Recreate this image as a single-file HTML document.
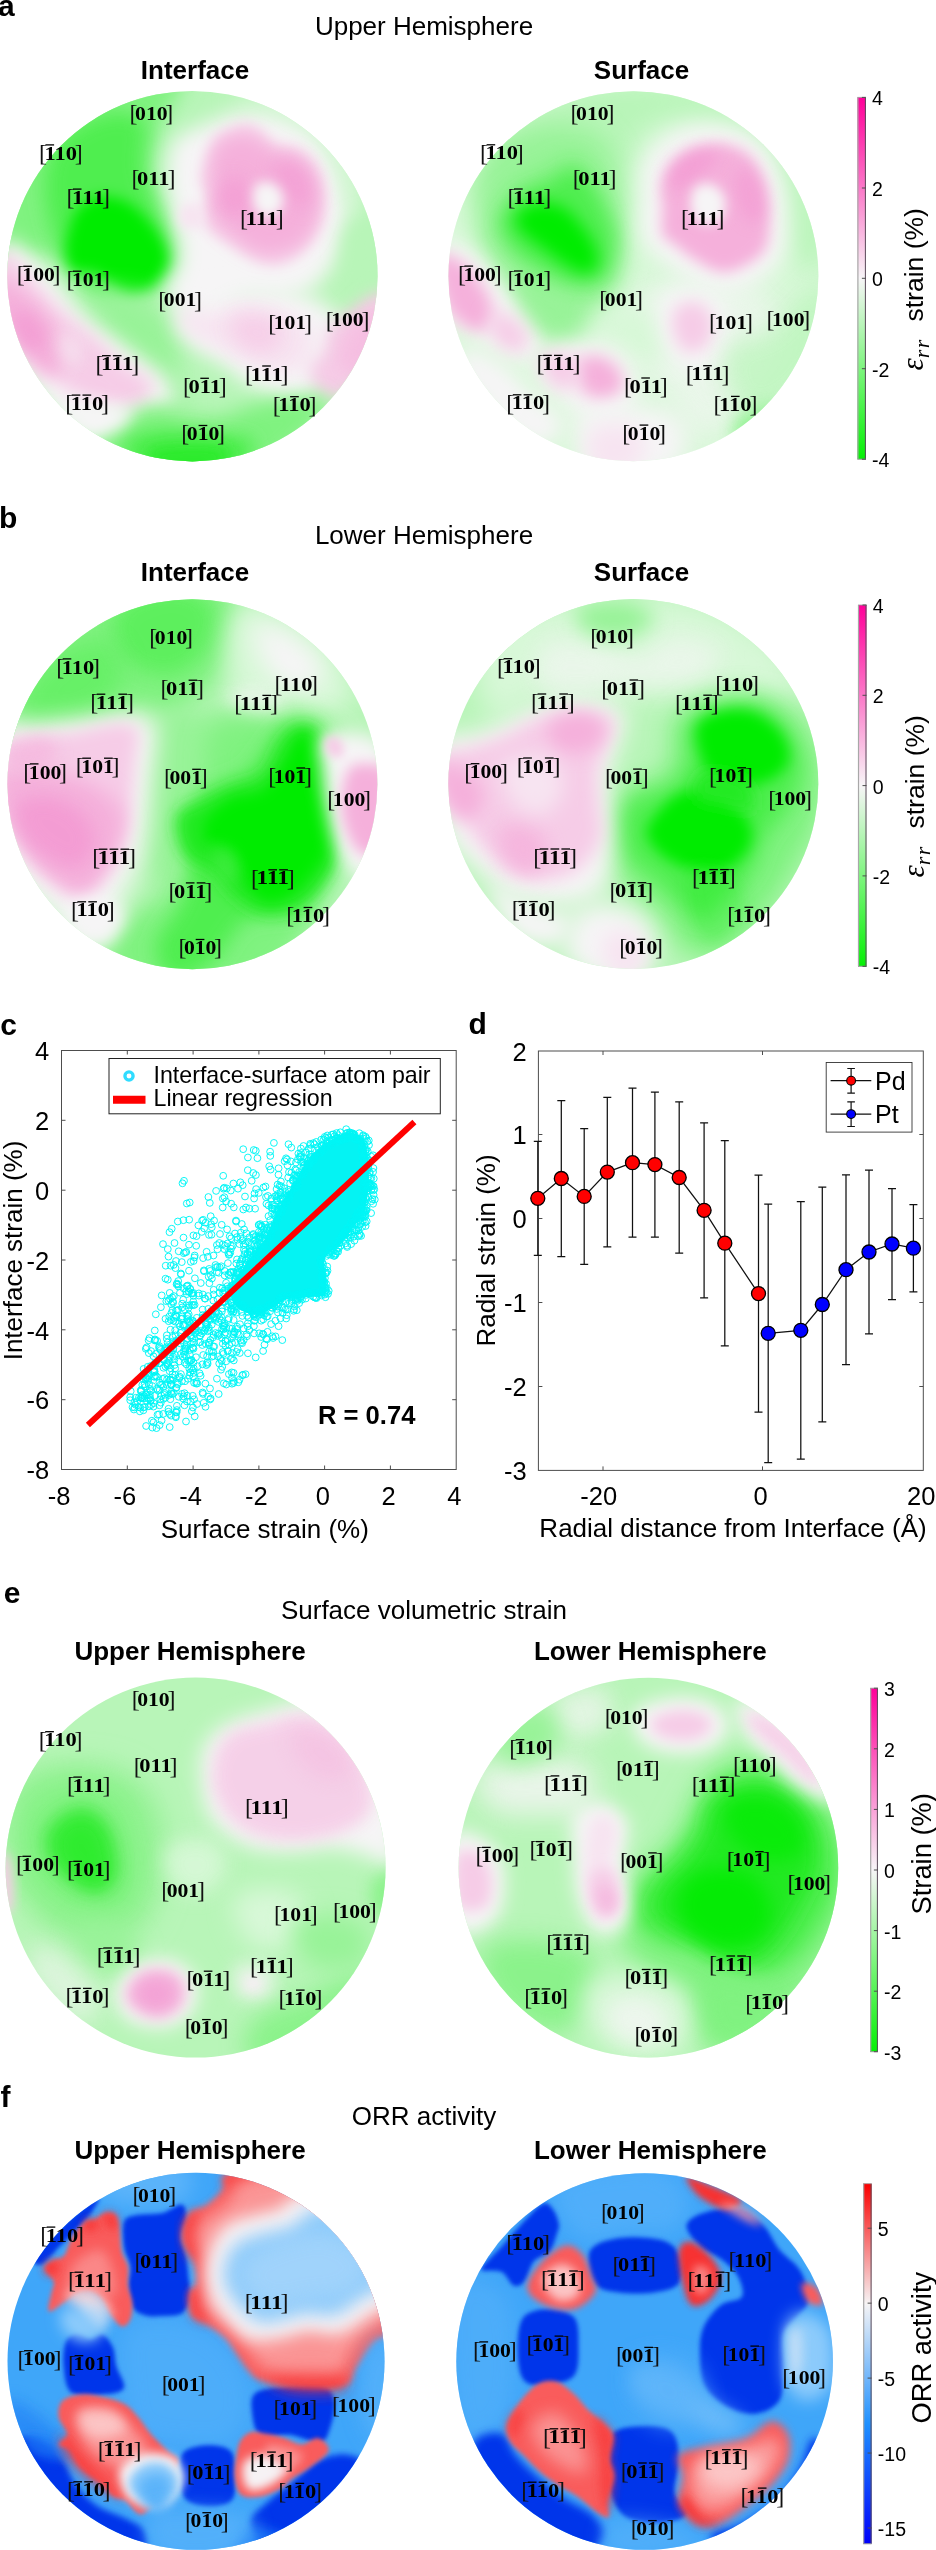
<!DOCTYPE html>
<html lang="en"><head><meta charset="utf-8"><title>Strain maps and ORR activity</title>
<style>
html,body{margin:0;padding:0;background:#fff}
svg{display:block;opacity:.9999}
text{font-family:"Liberation Sans", sans-serif;fill:#000}
.lb{font-family:"Liberation Serif", serif;}
.br{font-size:24.0px;font-weight:400;fill:#111}
.dg{font-size:18.0px;font-weight:700}
.ob{stroke:#000;stroke-width:1.3}
.pl{font-weight:700;font-size:30px}
.tt{font-size:26px}
.tb{font-size:26px;font-weight:700}
.tk{font-size:25.5px}
.ck{font-size:19.5px}
.ax{fill:none;stroke:#4d4d4d;stroke-width:1}
.tm{stroke:#4d4d4d;stroke-width:1}
</style></head><body>
<svg width="936" height="2550" viewBox="0 0 936 2550">
<defs>
<filter id="b1" x="-50%" y="-50%" width="200%" height="200%"><feGaussianBlur stdDeviation="1"/></filter>
<filter id="b2" x="-50%" y="-50%" width="200%" height="200%"><feGaussianBlur stdDeviation="2"/></filter>
<filter id="b3" x="-50%" y="-50%" width="200%" height="200%"><feGaussianBlur stdDeviation="3"/></filter>
<filter id="b4" x="-50%" y="-50%" width="200%" height="200%"><feGaussianBlur stdDeviation="4"/></filter>
<filter id="b5" x="-50%" y="-50%" width="200%" height="200%"><feGaussianBlur stdDeviation="5"/></filter>
<filter id="b6" x="-50%" y="-50%" width="200%" height="200%"><feGaussianBlur stdDeviation="6"/></filter>
<filter id="b7" x="-50%" y="-50%" width="200%" height="200%"><feGaussianBlur stdDeviation="7"/></filter>
<filter id="b8" x="-50%" y="-50%" width="200%" height="200%"><feGaussianBlur stdDeviation="8"/></filter>
<filter id="b9" x="-50%" y="-50%" width="200%" height="200%"><feGaussianBlur stdDeviation="9"/></filter>
<filter id="b10" x="-50%" y="-50%" width="200%" height="200%"><feGaussianBlur stdDeviation="10"/></filter>
<filter id="b11" x="-50%" y="-50%" width="200%" height="200%"><feGaussianBlur stdDeviation="11"/></filter>
<filter id="b12" x="-50%" y="-50%" width="200%" height="200%"><feGaussianBlur stdDeviation="12"/></filter>
<filter id="b13" x="-50%" y="-50%" width="200%" height="200%"><feGaussianBlur stdDeviation="13"/></filter>
<filter id="b14" x="-50%" y="-50%" width="200%" height="200%"><feGaussianBlur stdDeviation="14"/></filter>
<filter id="b15" x="-50%" y="-50%" width="200%" height="200%"><feGaussianBlur stdDeviation="15"/></filter>
<filter id="b16" x="-50%" y="-50%" width="200%" height="200%"><feGaussianBlur stdDeviation="16"/></filter>
<filter id="b17" x="-50%" y="-50%" width="200%" height="200%"><feGaussianBlur stdDeviation="17"/></filter>
<filter id="b18" x="-50%" y="-50%" width="200%" height="200%"><feGaussianBlur stdDeviation="18"/></filter>
<filter id="b19" x="-50%" y="-50%" width="200%" height="200%"><feGaussianBlur stdDeviation="19"/></filter>
<filter id="b20" x="-50%" y="-50%" width="200%" height="200%"><feGaussianBlur stdDeviation="20"/></filter>
<filter id="b21" x="-50%" y="-50%" width="200%" height="200%"><feGaussianBlur stdDeviation="21"/></filter>
<filter id="b22" x="-50%" y="-50%" width="200%" height="200%"><feGaussianBlur stdDeviation="22"/></filter>
<filter id="b23" x="-50%" y="-50%" width="200%" height="200%"><feGaussianBlur stdDeviation="23"/></filter>
<filter id="b24" x="-50%" y="-50%" width="200%" height="200%"><feGaussianBlur stdDeviation="24"/></filter>
<filter id="b25" x="-50%" y="-50%" width="200%" height="200%"><feGaussianBlur stdDeviation="25"/></filter>
<filter id="b26" x="-50%" y="-50%" width="200%" height="200%"><feGaussianBlur stdDeviation="26"/></filter>
<filter id="b27" x="-50%" y="-50%" width="200%" height="200%"><feGaussianBlur stdDeviation="27"/></filter>
<filter id="b28" x="-50%" y="-50%" width="200%" height="200%"><feGaussianBlur stdDeviation="28"/></filter>
<filter id="b29" x="-50%" y="-50%" width="200%" height="200%"><feGaussianBlur stdDeviation="29"/></filter>
<filter id="b30" x="-50%" y="-50%" width="200%" height="200%"><feGaussianBlur stdDeviation="30"/></filter>
<linearGradient id="gpg" x1="0" y1="0" x2="0" y2="1"><stop offset="0" stop-color="#ff0099"/><stop offset="0.25" stop-color="#fb78c8"/><stop offset="0.5" stop-color="#f7f5f7"/><stop offset="0.75" stop-color="#7ef57e"/><stop offset="1" stop-color="#05f005"/></linearGradient>
<linearGradient id="gorr" x1="0" y1="0" x2="0" y2="1"><stop offset="0" stop-color="#fa0000"/><stop offset="0.333" stop-color="#f6f4f5"/><stop offset="0.667" stop-color="#1e90ff"/><stop offset="1" stop-color="#0000fa"/></linearGradient>
<clipPath id="cp_a1"><circle cx="192.4" cy="276.2" r="185.2"/></clipPath>
<clipPath id="cp_a2"><circle cx="633.4" cy="276.2" r="185.0"/></clipPath>
<clipPath id="cp_b1"><circle cx="192.4" cy="784.2" r="185.0"/></clipPath>
<clipPath id="cp_b2"><circle cx="633.3" cy="784.0" r="185.0"/></clipPath>
<clipPath id="cp_e1"><circle cx="195.6" cy="1867.6" r="190.0"/></clipPath>
<clipPath id="cp_e2"><circle cx="648.4" cy="1867.6" r="189.8"/></clipPath>
<clipPath id="cp_f1"><circle cx="196.0" cy="2361.3" r="188.5"/></clipPath>
<clipPath id="cp_f2"><circle cx="644.6" cy="2361.5" r="188.3"/></clipPath>
</defs>
<rect width="936" height="2550" fill="#fff"/>
<g clip-path="url(#cp_a1)">
<rect x="5.2" y="89.0" width="374.4" height="374.4" fill="#b8f5b8"/>
<path d="M184.6,76.8C179.5,70.6 153.2,73.4 135.4,76.8C117.6,80.2 95.7,86.4 77.9,97.3C60.2,108.2 42.4,124.0 28.7,142.4C15.0,160.9 1.4,188.2 -4.1,208.1C-9.6,227.9 -8.9,252.9 -4.1,261.4C0.7,270.0 15.0,260.0 24.6,259.4C34.2,258.7 45.1,253.5 53.3,257.3C61.5,261.1 66.3,274.4 73.8,281.9C81.4,289.4 88.2,299.4 98.5,302.4C108.7,305.5 123.1,304.5 135.4,300.4C147.7,296.3 165.5,286.4 172.3,277.8C179.1,269.3 177.4,260.7 176.4,249.1C175.4,237.5 170.6,220.4 166.2,208.1C161.7,195.8 151.5,186.2 149.7,175.3C148.0,164.3 153.2,152.7 155.9,142.4C158.6,132.2 161.4,124.7 166.2,113.7C170.9,102.8 189.7,82.9 184.6,76.8Z" fill="#80f280" filter="url(#b10)"/>
<path d="M61.5,138.3C71.8,128.1 93.0,116.5 106.7,113.7C120.3,111.0 137.4,113.0 143.6,121.9C149.7,130.8 141.5,152.7 143.6,167.1C145.6,181.4 151.1,194.4 155.9,208.1C160.7,221.8 170.9,237.5 172.3,249.1C173.7,260.7 170.9,271.0 164.1,277.8C157.3,284.7 142.9,289.4 131.3,290.1C119.7,290.8 105.3,287.4 94.4,281.9C83.4,276.5 73.2,267.6 65.6,257.3C58.1,247.1 52.6,234.1 49.2,220.4C45.8,206.7 43.1,188.9 45.1,175.3C47.2,161.6 51.3,148.6 61.5,138.3Z" fill="#50ee50" filter="url(#b10)"/>
<path d="M77.1,210.1C81.9,204.8 90.1,198.0 98.5,196.6C106.8,195.2 118.4,197.4 127.2,201.9C135.9,206.4 144.5,215.8 151.0,223.7C157.5,231.5 163.3,242.1 166.2,249.1C169.0,256.1 169.6,260.4 168.2,265.5C166.8,270.6 162.1,275.8 157.9,279.9C153.8,284.0 148.6,287.6 143.6,290.1C138.6,292.7 133.3,296.4 128.0,295.1C122.7,293.7 117.5,285.8 111.6,281.9C105.6,278.0 98.7,273.6 92.3,271.7C85.9,269.8 77.5,273.9 73.0,270.4C68.6,267.0 66.2,258.1 65.6,251.2C65.1,244.2 67.8,235.4 69.7,228.6C71.7,221.8 72.3,215.5 77.1,210.1Z" fill="#03ec03" filter="url(#b7)"/>
<path d="M94.4,298.3C100.5,292.9 123.8,291.5 135.4,294.2C147.0,297.0 156.6,305.9 164.1,314.7C171.6,323.6 178.5,336.6 180.5,347.6C182.6,358.5 175.4,370.1 176.4,380.4C177.4,390.6 189.7,403.6 186.7,409.1C183.6,414.6 166.2,416.6 157.9,413.2C149.7,409.8 143.9,398.8 137.4,388.6C130.9,378.3 125.5,361.9 119.0,351.7C112.5,341.4 102.6,335.9 98.5,327.1C94.4,318.2 88.2,303.8 94.4,298.3Z" fill="#98f398" filter="url(#b12)"/>
<path d="M176.4,138.3C182.6,132.5 193.5,128.8 205.1,124.0C216.8,119.2 232.5,111.3 246.2,109.6C259.8,107.9 274.9,109.6 287.2,113.7C299.5,117.8 310.8,124.3 320.0,134.2C329.2,144.1 337.8,158.8 342.6,173.2C347.4,187.6 349.7,206.4 348.7,220.4C347.7,234.4 341.9,246.4 336.4,257.3C330.9,268.2 324.1,279.2 315.9,286.0C307.7,292.9 298.8,296.3 287.2,298.3C275.6,300.4 258.5,295.6 246.2,298.3C233.8,301.1 224.3,312.0 213.3,314.7C202.4,317.5 188.4,318.8 180.5,314.7C172.6,310.6 166.2,299.0 166.2,290.1C166.2,281.2 178.8,271.7 180.5,261.4C182.2,251.2 178.5,240.2 176.4,228.6C174.4,217.0 169.6,203.3 168.2,191.7C166.8,180.0 166.8,167.7 168.2,158.8C169.6,150.0 170.3,144.1 176.4,138.3Z" fill="#f6f5f6" filter="url(#b10)"/>
<path d="M229.7,101.4C232.5,99.4 270.8,96.6 287.2,101.4C303.6,106.2 317.3,119.2 328.2,130.1C339.1,141.1 347.4,152.0 352.8,167.1C358.3,182.1 361.7,213.5 361.0,220.4C360.3,227.2 352.8,217.0 348.7,208.1C344.6,199.2 342.6,179.4 336.4,167.1C330.3,154.7 322.7,143.1 311.8,134.2C300.9,125.3 284.4,119.2 270.8,113.7C257.1,108.2 227.0,103.5 229.7,101.4Z" fill="#d8f8d8" filter="url(#b10)"/>
<path d="M215.0,137.9C219.4,132.4 226.6,130.9 231.8,128.5C237.0,126.1 241.4,123.2 246.2,123.6C250.9,123.9 255.7,127.0 260.5,130.5C265.3,134.1 269.3,142.1 274.9,144.9C280.5,147.7 287.8,144.6 294.2,147.4C300.5,150.2 308.2,155.3 313.0,161.7C317.8,168.1 321.2,177.1 322.9,185.9C324.5,194.7 324.5,205.9 322.9,214.6C321.2,223.4 317.8,231.3 313.0,238.4C308.2,245.6 300.9,253.3 294.2,257.7C287.4,262.1 279.6,264.7 272.4,264.7C265.2,264.7 257.8,260.9 251.1,257.7C244.3,254.5 238.2,249.4 231.8,245.4C225.4,241.4 217.7,238.6 212.5,233.5C207.3,228.4 201.4,220.6 200.6,214.6C199.9,208.7 208.0,203.4 208.0,197.8C208.0,192.2 201.0,187.0 200.6,181.0C200.2,175.0 203.1,168.9 205.5,161.7C207.9,154.5 210.6,143.5 215.0,137.9Z" fill="#f6cce7" filter="url(#b7)"/>
<path d="M217.4,146.5C221.9,141.4 231.1,137.3 237.9,136.3C244.8,135.3 252.3,137.6 258.5,140.4C264.6,143.1 268.7,150.0 274.9,152.7C281.0,155.4 289.2,153.4 295.4,156.8C301.5,160.2 308.0,166.7 311.8,173.2C315.6,179.7 317.3,187.9 317.9,195.8C318.6,203.6 318.3,212.9 315.9,220.4C313.5,227.9 309.1,235.8 303.6,240.9C298.1,246.0 289.9,249.1 283.1,251.2C276.2,253.2 269.4,254.6 262.6,253.2C255.7,251.8 248.5,247.4 242.1,242.9C235.6,238.5 228.4,232.4 223.6,226.5C218.8,220.7 214.7,214.6 213.3,208.1C212.0,201.6 215.7,194.4 215.4,187.6C215.0,180.7 210.9,173.9 211.3,167.1C211.6,160.2 213.0,151.7 217.4,146.5Z" fill="#f5b0db" filter="url(#b9)"/>
<path d="M219.5,183.5C222.9,179.0 232.8,175.9 237.9,177.3C243.1,178.7 248.9,185.9 250.3,191.7C251.6,197.5 249.6,208.1 246.2,212.2C242.7,216.3 234.5,217.6 229.7,216.3C225.0,214.9 219.1,209.4 217.4,204.0C215.7,198.5 216.1,187.9 219.5,183.5Z" fill="#f394d0" opacity="0.55" filter="url(#b9)"/>
<path d="M279.0,158.8C283.8,157.5 297.8,161.6 303.6,167.1C309.4,172.5 313.5,184.8 313.8,191.7C314.2,198.5 310.1,207.4 305.6,208.1C301.2,208.8 292.3,201.2 287.2,195.8C282.1,190.3 276.2,181.4 274.9,175.3C273.5,169.1 274.2,160.2 279.0,158.8Z" fill="#f394d0" opacity="0.5" filter="url(#b9)"/>
<path d="M255.2,185.5C257.9,181.4 266.3,181.3 270.8,182.6C275.3,184.0 280.6,189.1 282.3,193.7C283.9,198.3 283.2,206.2 280.6,210.1C278.0,214.0 271.0,217.6 266.7,217.1C262.3,216.6 256.3,212.5 254.4,207.3C252.4,202.0 252.4,189.6 255.2,185.5Z" fill="#f6f5f6" filter="url(#b6)"/>
<path d="M180.5,208.1C183.2,204.7 192.8,201.9 196.9,204.0C201.0,206.0 205.8,216.3 205.1,220.4C204.4,224.5 196.9,227.9 192.8,228.6C188.7,229.3 182.6,227.9 180.5,224.5C178.5,221.1 177.8,211.5 180.5,208.1Z" fill="#f7e4f1" filter="url(#b6)"/>
<path d="M0.0,240.9C4.1,234.1 15.7,242.9 24.6,249.1C33.5,255.3 43.8,266.9 53.3,277.8C62.9,288.8 71.8,304.5 82.1,314.7C92.3,325.0 104.6,331.8 114.9,339.4C125.1,346.9 134.7,353.0 143.6,359.9C152.5,366.7 163.4,372.9 168.2,380.4C173.0,387.9 177.8,399.5 172.3,405.0C166.8,410.5 147.0,411.8 135.4,413.2C123.8,414.6 112.8,410.5 102.6,413.2C92.3,415.9 83.4,431.7 73.8,429.6C64.3,427.6 53.3,411.2 45.1,400.9C36.9,390.6 30.8,379.7 24.6,368.1C18.5,356.5 12.3,344.1 8.2,331.2C4.1,318.2 1.4,305.2 0.0,290.1C-1.4,275.1 -4.1,247.7 0.0,240.9Z" fill="#f6f5f6" filter="url(#b10)"/>
<path d="M-4.1,253.2C-0.7,247.1 9.6,255.9 16.4,261.4C23.2,266.9 28.7,277.1 36.9,286.0C45.1,294.9 56.1,306.2 65.6,314.7C75.2,323.3 84.8,329.1 94.4,337.3C103.9,345.5 113.5,356.5 123.1,364.0C132.6,371.5 148.7,375.9 151.8,382.4C154.9,388.9 148.4,398.5 141.5,402.9C134.7,407.4 120.7,410.1 110.8,409.1C100.9,408.1 91.6,401.6 82.1,396.8C72.5,392.0 62.2,387.2 53.3,380.4C44.4,373.5 36.2,365.3 28.7,355.8C21.2,346.2 13.7,332.5 8.2,322.9C2.7,313.4 -2.1,310.0 -4.1,298.3C-6.2,286.7 -7.5,259.4 -4.1,253.2Z" fill="#f6cce7" filter="url(#b9)"/>
<path d="M-4.1,277.8C0.0,273.7 12.3,284.0 20.5,290.1C28.7,296.3 38.3,306.5 45.1,314.7C52.0,322.9 58.5,331.2 61.5,339.4C64.6,347.6 66.0,358.2 63.6,364.0C61.2,369.8 53.7,375.9 47.2,374.2C40.7,372.5 31.1,361.2 24.6,353.7C18.1,346.2 13.0,335.6 8.2,329.1C3.4,322.6 -2.1,323.3 -4.1,314.7C-6.2,306.2 -8.2,281.9 -4.1,277.8Z" fill="#f5b0db" filter="url(#b9)"/>
<path d="M12.3,314.7C15.0,310.6 27.4,310.6 32.8,314.7C38.3,318.8 45.1,333.2 45.1,339.4C45.1,345.5 37.6,351.7 32.8,351.7C28.0,351.7 19.8,345.5 16.4,339.4C13.0,333.2 9.6,318.8 12.3,314.7Z" fill="#f394d0" opacity="0.6" filter="url(#b8)"/>
<path d="M61.5,331.2C65.6,330.5 80.0,341.4 82.1,347.6C84.1,353.7 77.9,367.4 73.8,368.1C69.7,368.8 59.5,357.8 57.4,351.7C55.4,345.5 57.4,331.8 61.5,331.2Z" fill="#f6f5f6" opacity="0.5" filter="url(#b8)"/>
<path d="M229.7,290.1C244.8,288.8 270.8,287.4 287.2,290.1C303.6,292.9 317.9,298.3 328.2,306.5C338.5,314.7 348.7,327.1 348.7,339.4C348.7,351.7 337.1,370.1 328.2,380.4C319.3,390.6 307.7,399.5 295.4,400.9C283.1,402.3 266.7,394.7 254.4,388.6C242.1,382.4 231.8,370.8 221.5,364.0C211.3,357.1 200.3,354.4 192.8,347.6C185.3,340.7 175.7,331.2 176.4,322.9C177.1,314.7 188.0,303.8 196.9,298.3C205.8,292.9 214.7,291.5 229.7,290.1Z" fill="#f6f5f6" filter="url(#b10)"/>
<path d="M180.5,308.6C185.6,306.5 202.4,315.1 213.3,314.7C224.3,314.4 234.5,306.9 246.2,306.5C257.8,306.2 272.1,308.6 283.1,312.7C294.0,316.8 307.7,322.6 311.8,331.2C315.9,339.7 313.8,357.1 307.7,364.0C301.5,370.8 285.8,373.2 274.9,372.2C263.9,371.2 253.7,362.9 242.1,357.8C230.4,352.7 215.0,346.5 205.1,341.4C195.2,336.3 186.7,332.5 182.6,327.1C178.5,321.6 175.4,310.6 180.5,308.6Z" fill="#f7e4f1" filter="url(#b10)"/>
<path d="M229.7,318.8C233.2,313.4 253.7,312.7 262.6,314.7C271.5,316.8 281.7,325.0 283.1,331.2C284.4,337.3 277.6,348.9 270.8,351.7C263.9,354.4 248.9,353.0 242.1,347.6C235.2,342.1 226.3,324.3 229.7,318.8Z" fill="#f6cce7" opacity="0.9" filter="url(#b10)"/>
<path d="M328.2,331.2C333.0,324.0 342.8,315.8 352.8,308.6C362.8,301.4 382.2,281.6 388.1,288.1C394.0,294.6 392.3,332.9 388.1,347.6C383.9,362.3 371.4,367.7 363.1,376.3C354.8,384.8 346.0,396.5 338.5,398.8C330.9,401.2 322.7,395.8 317.9,390.6C313.2,385.5 308.7,374.6 309.7,368.1C310.8,361.6 321.0,357.8 324.1,351.7C327.2,345.5 323.4,338.3 328.2,331.2Z" fill="#f6cce7" filter="url(#b8)"/>
<path d="M348.7,331.2C356.6,320.9 381.5,303.1 388.1,306.5C394.7,310.0 392.6,340.7 388.1,351.7C383.6,362.6 369.0,369.4 361.0,372.2C353.1,374.9 342.6,374.9 340.5,368.1C338.5,361.2 340.8,341.4 348.7,331.2Z" fill="#f5b0db" opacity="0.5" filter="url(#b9)"/>
<path d="M344.6,228.6C350.5,219.0 380.9,211.5 388.1,220.4C395.4,229.3 394.0,272.4 388.1,281.9C382.2,291.5 360.1,286.7 352.8,277.8C345.6,268.9 338.7,238.2 344.6,228.6Z" fill="#b8f5b8" filter="url(#b10)"/>
<path d="M92.3,439.9C90.3,430.9 112.5,424.8 123.1,419.4C133.7,413.9 145.6,407.5 155.9,407.1C166.2,406.6 173.7,414.9 184.6,416.5C195.6,418.1 209.9,418.5 221.5,416.5C233.2,414.4 243.4,407.1 254.4,404.2C265.3,401.2 275.2,399.4 287.2,398.8C299.1,398.3 323.1,395.1 326.2,400.9C329.2,406.7 319.0,421.7 305.6,433.7C292.3,445.8 274.5,466.5 246.2,473.1C217.8,479.7 161.0,478.6 135.4,473.1C109.7,467.6 94.4,448.8 92.3,439.9Z" fill="#80f280" filter="url(#b10)"/>
<path d="M123.1,441.9C125.8,434.7 149.1,431.0 164.1,429.6C179.1,428.2 198.3,431.7 213.3,433.7C228.4,435.8 251.6,435.4 254.4,441.9C257.1,448.5 247.5,467.9 229.7,473.1C212.0,478.3 165.5,478.3 147.7,473.1C129.9,467.9 120.3,449.2 123.1,441.9Z" fill="#50ee50" filter="url(#b9)"/>
<path d="M147.7,450.1C151.8,445.3 175.0,444.5 188.7,444.4C202.4,444.2 225.6,444.5 229.7,449.3C233.8,454.1 224.3,469.1 213.3,473.1C202.4,477.1 175.0,476.9 164.1,473.1C153.2,469.3 143.6,454.9 147.7,450.1Z" fill="#20ea20" opacity="0.8" filter="url(#b8)"/>
<path d="M67.7,411.2C69.4,405.0 87.9,401.9 98.5,401.7C109.1,401.5 127.9,405.3 131.3,409.9C134.7,414.6 126.2,424.8 119.0,429.6C111.8,434.4 96.8,441.7 88.2,438.6C79.7,435.6 66.0,417.3 67.7,411.2Z" fill="#f6f5f6" filter="url(#b8)"/>
</g>
<text class="lb"><tspan class="br" x="129.6" y="121.3">[</tspan><tspan class="dg" x="135.1" y="120.1" textLength="32.5" lengthAdjust="spacingAndGlyphs">010</tspan><tspan class="br" x="165.3" y="121.3">]</tspan></text>
<text class="lb"><tspan class="br" x="38.9" y="160.7">[</tspan><tspan class="dg" x="44.4" y="159.5" textLength="32.5" lengthAdjust="spacingAndGlyphs">110</tspan><tspan class="br" x="74.7" y="160.7">]</tspan></text><line x1="45.4" y1="144.9" x2="54.1" y2="144.9" class="ob"/>
<text class="lb"><tspan class="br" x="131.6" y="186.1">[</tspan><tspan class="dg" x="137.1" y="184.9" textLength="32.5" lengthAdjust="spacingAndGlyphs">011</tspan><tspan class="br" x="167.4" y="186.1">]</tspan></text>
<text class="lb"><tspan class="br" x="66.4" y="204.9">[</tspan><tspan class="dg" x="71.9" y="203.7" textLength="32.5" lengthAdjust="spacingAndGlyphs">111</tspan><tspan class="br" x="102.1" y="204.9">]</tspan></text><line x1="72.9" y1="189.1" x2="81.5" y2="189.1" class="ob"/>
<text class="lb"><tspan class="br" x="239.9" y="226.3">[</tspan><tspan class="dg" x="245.4" y="225.1" textLength="32.5" lengthAdjust="spacingAndGlyphs">111</tspan><tspan class="br" x="275.7" y="226.3">]</tspan></text>
<text class="lb"><tspan class="br" x="16.8" y="282.1">[</tspan><tspan class="dg" x="22.3" y="280.9" textLength="32.5" lengthAdjust="spacingAndGlyphs">100</tspan><tspan class="br" x="52.5" y="282.1">]</tspan></text><line x1="23.3" y1="266.3" x2="31.9" y2="266.3" class="ob"/>
<text class="lb"><tspan class="br" x="66.4" y="287.0">[</tspan><tspan class="dg" x="71.9" y="285.8" textLength="32.5" lengthAdjust="spacingAndGlyphs">101</tspan><tspan class="br" x="102.1" y="287.0">]</tspan></text><line x1="72.9" y1="271.2" x2="81.5" y2="271.2" class="ob"/>
<text class="lb"><tspan class="br" x="158.3" y="307.5">[</tspan><tspan class="dg" x="163.8" y="306.3" textLength="32.5" lengthAdjust="spacingAndGlyphs">001</tspan><tspan class="br" x="194.0" y="307.5">]</tspan></text>
<text class="lb"><tspan class="br" x="268.2" y="330.5">[</tspan><tspan class="dg" x="273.7" y="329.3" textLength="32.5" lengthAdjust="spacingAndGlyphs">101</tspan><tspan class="br" x="304.0" y="330.5">]</tspan></text>
<text class="lb"><tspan class="br" x="325.7" y="327.6">[</tspan><tspan class="dg" x="331.2" y="326.4" textLength="32.5" lengthAdjust="spacingAndGlyphs">100</tspan><tspan class="br" x="361.4" y="327.6">]</tspan></text>
<text class="lb"><tspan class="br" x="95.5" y="371.5">[</tspan><tspan class="dg" x="101.0" y="370.3" textLength="32.5" lengthAdjust="spacingAndGlyphs">111</tspan><tspan class="br" x="131.3" y="371.5">]</tspan></text><line x1="102.0" y1="355.7" x2="110.7" y2="355.7" class="ob"/><line x1="112.9" y1="355.7" x2="121.5" y2="355.7" class="ob"/>
<text class="lb"><tspan class="br" x="182.9" y="394.1">[</tspan><tspan class="dg" x="188.4" y="392.9" textLength="32.5" lengthAdjust="spacingAndGlyphs">011</tspan><tspan class="br" x="218.7" y="394.1">]</tspan></text><line x1="200.3" y1="378.3" x2="208.9" y2="378.3" class="ob"/>
<text class="lb"><tspan class="br" x="244.9" y="381.8">[</tspan><tspan class="dg" x="250.4" y="380.6" textLength="32.5" lengthAdjust="spacingAndGlyphs">111</tspan><tspan class="br" x="280.6" y="381.8">]</tspan></text><line x1="262.2" y1="366.0" x2="270.9" y2="366.0" class="ob"/>
<text class="lb"><tspan class="br" x="65.2" y="410.9">[</tspan><tspan class="dg" x="70.7" y="409.7" textLength="32.5" lengthAdjust="spacingAndGlyphs">110</tspan><tspan class="br" x="100.9" y="410.9">]</tspan></text><line x1="71.7" y1="395.1" x2="80.3" y2="395.1" class="ob"/><line x1="82.5" y1="395.1" x2="91.2" y2="395.1" class="ob"/>
<text class="lb"><tspan class="br" x="272.8" y="412.5">[</tspan><tspan class="dg" x="278.3" y="411.3" textLength="32.5" lengthAdjust="spacingAndGlyphs">110</tspan><tspan class="br" x="308.5" y="412.5">]</tspan></text><line x1="290.1" y1="396.7" x2="298.8" y2="396.7" class="ob"/>
<text class="lb"><tspan class="br" x="181.3" y="441.3">[</tspan><tspan class="dg" x="186.8" y="440.1" textLength="32.5" lengthAdjust="spacingAndGlyphs">010</tspan><tspan class="br" x="217.0" y="441.3">]</tspan></text><line x1="198.6" y1="425.5" x2="207.3" y2="425.5" class="ob"/>
<g clip-path="url(#cp_a2)">
<rect x="446.4" y="89.2" width="374.0" height="374.0" fill="#d8f8d8"/>
<path d="M465.6,191.7C464.2,179.4 482.0,150.6 498.4,134.2C514.8,117.8 540.8,102.1 564.1,93.2C587.3,84.3 611.9,81.6 637.9,80.9C663.9,80.2 696.7,81.6 720.0,89.1C743.2,96.6 761.0,108.9 777.4,126.0C793.8,143.1 809.8,169.8 818.4,191.7C827.1,213.5 832.5,245.0 829.1,257.3C825.7,269.6 804.5,275.1 797.9,265.5C791.4,255.9 796.6,220.4 789.7,199.9C782.9,179.4 770.6,156.1 756.9,142.4C743.2,128.8 726.1,119.9 707.7,117.8C689.2,115.8 660.5,120.6 646.1,130.1C631.8,139.7 635.2,172.5 621.5,175.3C607.8,178.0 583.2,141.1 564.1,146.5C544.9,152.0 523.1,200.6 506.6,208.1C490.2,215.6 467.0,204.0 465.6,191.7Z" fill="#b8f5b8" filter="url(#b14)"/>
<path d="M617.4,314.7C622.9,301.1 652.3,288.1 670.7,281.9C689.2,275.8 711.8,275.1 728.2,277.8C744.6,280.6 759.6,288.1 769.2,298.3C778.8,308.6 788.4,322.9 785.6,339.4C782.9,355.8 766.5,380.4 752.8,396.8C739.1,413.2 717.2,437.8 703.6,437.8C689.9,437.8 681.7,409.1 670.7,396.8C659.8,384.5 646.8,377.6 637.9,364.0C629.0,350.3 611.9,328.4 617.4,314.7Z" fill="#f6f5f6" opacity="0.6" filter="url(#b14)"/>
<path d="M490.2,150.6C501.2,139.7 525.8,128.8 543.6,126.0C561.3,123.3 583.9,126.0 596.9,134.2C609.9,142.4 616.7,160.9 621.5,175.3C626.3,189.6 625.6,204.7 625.6,220.4C625.6,236.1 624.9,255.3 621.5,269.6C618.1,284.0 612.6,296.3 605.1,306.5C597.6,316.8 586.6,324.3 576.4,331.2C566.1,338.0 553.8,350.3 543.6,347.6C533.3,344.8 523.1,325.7 514.8,314.7C506.6,303.8 500.5,294.2 494.3,281.9C488.2,269.6 480.7,255.9 477.9,240.9C475.2,225.9 475.9,206.7 477.9,191.7C480.0,176.6 479.3,161.6 490.2,150.6Z" fill="#98f398" filter="url(#b12)"/>
<path d="M498.4,208.1C501.2,198.2 510.7,190.3 518.9,183.5C527.2,176.6 538.4,171.5 547.7,167.1C556.9,162.6 566.5,155.1 574.3,156.8C582.2,158.5 589.0,168.8 594.8,177.3C600.7,185.9 605.3,198.0 609.2,208.1C613.1,218.1 617.5,226.7 618.2,237.6C618.9,248.6 617.2,265.0 613.3,273.7C609.4,282.5 602.4,287.4 594.8,290.1C587.3,292.9 576.7,292.2 568.2,290.1C559.6,288.1 551.4,282.6 543.6,277.8C535.7,273.0 527.8,267.2 521.0,261.4C514.2,255.6 506.3,251.8 502.5,242.9C498.8,234.1 495.7,218.0 498.4,208.1Z" fill="#80f280" filter="url(#b10)"/>
<path d="M506.6,210.1C510.4,205.1 515.9,197.1 523.1,192.5C530.2,187.9 541.0,186.5 549.3,182.6C557.6,178.7 566.0,169.0 572.7,169.1C579.4,169.2 584.5,177.0 589.5,183.5C594.6,190.0 599.2,199.1 603.1,208.1C606.9,217.1 611.8,227.4 612.5,237.6C613.2,247.9 610.8,262.1 607.2,269.6C603.5,277.1 597.3,280.8 590.7,282.7C584.2,284.7 575.5,283.3 567.8,281.1C560.0,278.9 552.0,273.7 544.4,269.6C536.8,265.5 528.5,261.6 522.2,256.5C515.9,251.4 510.3,244.5 506.6,238.8C503.0,233.2 500.5,227.2 500.5,222.4C500.5,217.6 502.9,215.1 506.6,210.1Z" fill="#50ee50" filter="url(#b9)"/>
<path d="M518.5,211.8C522.5,208.2 532.4,203.1 539.9,202.3C547.3,201.6 556.2,203.3 563.3,207.3C570.3,211.2 576.7,219.1 582.1,226.1C587.6,233.2 593.8,242.5 596.1,249.5C598.4,256.6 598.4,264.5 596.1,268.4C593.8,272.3 587.6,273.7 582.1,272.9C576.7,272.1 569.5,267.4 563.3,263.5C557.0,259.6 550.7,254.2 544.4,249.5C538.1,244.9 530.2,239.9 525.5,235.6C520.8,231.3 517.2,227.6 516.1,223.7C514.9,219.7 514.6,215.3 518.5,211.8Z" fill="#03ec03" filter="url(#b8)"/>
<path d="M523.1,298.3C529.2,294.2 550.4,301.1 560.0,306.5C569.5,312.0 577.8,322.9 580.5,331.2C583.2,339.4 581.9,352.4 576.4,355.8C570.9,359.2 556.6,355.8 547.7,351.7C538.8,347.6 527.2,340.0 523.1,331.2C518.9,322.3 516.9,302.4 523.1,298.3Z" fill="#98f398" filter="url(#b12)"/>
<path d="M596.9,314.7C602.4,307.9 625.6,305.2 637.9,306.5C650.2,307.9 665.3,315.4 670.7,322.9C676.2,330.5 676.2,344.8 670.7,351.7C665.3,358.5 648.9,364.7 637.9,364.0C627.0,363.3 611.9,355.8 605.1,347.6C598.3,339.4 591.4,321.6 596.9,314.7Z" fill="#d8f8d8" filter="url(#b12)"/>
<path d="M646.1,158.8C652.3,147.2 666.0,135.6 678.9,130.1C691.9,124.7 710.4,124.0 724.1,126.0C737.8,128.1 751.4,133.5 761.0,142.4C770.6,151.3 777.4,165.7 781.5,179.4C785.6,193.0 785.6,211.5 785.6,224.5C785.6,237.5 786.3,247.7 781.5,257.3C776.7,266.9 766.5,276.5 756.9,281.9C747.3,287.4 735.7,290.8 724.1,290.1C712.5,289.4 698.1,283.3 687.2,277.8C676.2,272.4 666.0,264.1 658.4,257.3C650.9,250.5 644.8,246.4 642.0,236.8C639.3,227.2 641.3,212.9 642.0,199.9C642.7,186.9 640.0,170.5 646.1,158.8Z" fill="#f6f5f6" filter="url(#b10)"/>
<path d="M669.1,170.3C673.9,164.0 681.1,154.3 689.6,149.8C698.1,145.3 710.1,142.4 720.0,143.3C729.8,144.1 741.2,148.0 748.7,154.7C756.2,161.4 761.7,172.5 765.1,183.5C768.5,194.4 769.2,209.4 769.2,220.4C769.2,231.3 769.2,241.6 765.1,249.1C761.0,256.6 752.1,261.8 744.6,265.5C737.1,269.3 728.9,273.0 720.0,271.7C711.1,270.3 699.1,262.1 691.3,257.3C683.5,252.5 678.0,246.7 673.2,242.9C668.4,239.2 664.3,240.6 662.5,234.7C660.8,228.9 662.8,215.9 662.5,208.1C662.3,200.2 659.8,193.9 660.9,187.6C662.0,181.3 664.3,176.6 669.1,170.3Z" fill="#f5b0db" filter="url(#b7)"/>
<path d="M670.7,162.9C675.5,157.5 687.2,152.0 695.4,150.6C703.6,149.3 718.6,151.3 720.0,154.7C721.3,158.2 709.7,165.7 703.6,171.2C697.4,176.6 689.2,185.5 683.1,187.6C676.9,189.6 668.7,187.6 666.6,183.5C664.6,179.4 666.0,168.4 670.7,162.9Z" fill="#f394d0" opacity="0.6" filter="url(#b8)"/>
<path d="M740.5,167.1C744.6,165.0 756.9,175.3 761.0,183.5C765.1,191.7 767.2,210.1 765.1,216.3C763.1,222.4 753.5,223.8 748.7,220.4C743.9,217.0 737.8,204.7 736.4,195.8C735.0,186.9 736.4,169.1 740.5,167.1Z" fill="#f394d0" opacity="0.5" filter="url(#b8)"/>
<path d="M693.3,189.6C696.2,184.5 704.6,182.4 709.7,183.5C714.8,184.5 721.8,190.3 724.1,195.8C726.3,201.2 726.0,211.5 723.3,216.3C720.5,221.1 712.9,224.8 707.7,224.5C702.5,224.1 694.5,220.0 692.1,214.2C689.7,208.4 690.4,194.7 693.3,189.6Z" fill="#f6f5f6" filter="url(#b6)"/>
<path d="M441.0,245.0C445.8,234.1 460.1,243.6 469.7,249.1C479.3,254.6 489.5,266.9 498.4,277.8C507.3,288.8 514.8,303.1 523.1,314.7C531.3,326.4 547.7,339.4 547.7,347.6C547.7,355.8 532.6,364.0 523.1,364.0C513.5,364.0 499.8,353.0 490.2,347.6C480.7,342.1 473.8,336.6 465.6,331.2C457.4,325.7 445.1,329.1 441.0,314.7C436.9,300.4 436.2,255.9 441.0,245.0Z" fill="#f6f5f6" filter="url(#b10)"/>
<path d="M436.9,255.3C440.0,248.8 455.7,258.0 463.6,263.5C471.4,268.9 479.1,279.5 484.1,288.1C489.1,296.6 493.9,307.6 493.5,314.7C493.2,321.9 487.4,329.6 482.0,331.2C476.7,332.7 467.7,328.6 461.5,323.8C455.4,319.0 449.2,313.9 445.1,302.4C441.0,291.0 433.8,261.8 436.9,255.3Z" fill="#f5b0db" filter="url(#b8)"/>
<path d="M490.2,314.7C493.0,311.0 504.2,312.7 510.7,316.8C517.2,320.9 528.5,333.5 529.2,339.4C529.9,345.2 520.7,351.7 514.8,351.7C509.0,351.7 498.4,345.5 494.3,339.4C490.2,333.2 487.5,318.5 490.2,314.7Z" fill="#f6cce7" filter="url(#b9)"/>
<path d="M543.6,347.6C551.1,342.1 567.5,338.7 580.5,339.4C593.5,340.0 611.9,344.1 621.5,351.7C631.1,359.2 637.2,374.2 637.9,384.5C638.6,394.7 633.8,407.7 625.6,413.2C617.4,418.7 600.3,420.0 588.7,417.3C577.1,414.6 564.8,404.3 555.9,396.8C547.0,389.3 537.4,380.4 535.4,372.2C533.3,364.0 536.0,353.0 543.6,347.6Z" fill="#f6f5f6" filter="url(#b10)"/>
<path d="M576.4,364.0C578.4,357.7 590.1,355.1 596.9,355.8C603.7,356.5 613.2,362.6 617.4,368.1C621.6,373.5 624.4,383.1 622.3,388.6C620.3,394.1 611.4,400.1 605.1,400.9C598.8,401.7 589.4,399.7 584.6,393.5C579.8,387.4 574.3,370.3 576.4,364.0Z" fill="#f5b0db" filter="url(#b8)"/>
<path d="M543.6,355.8C548.4,353.0 566.1,351.7 572.3,355.8C578.4,359.9 582.5,374.9 580.5,380.4C578.4,385.9 566.1,390.0 560.0,388.6C553.8,387.2 546.3,377.6 543.6,372.2C540.8,366.7 538.8,358.5 543.6,355.8Z" fill="#f6cce7" filter="url(#b9)"/>
<path d="M662.5,294.2C670.1,288.1 692.6,286.7 703.6,290.1C714.5,293.5 724.8,303.8 728.2,314.7C731.6,325.7 729.5,346.2 724.1,355.8C718.6,365.3 704.2,372.2 695.4,372.2C686.5,372.2 676.9,363.3 670.7,355.8C664.6,348.2 659.8,337.3 658.4,327.1C657.1,316.8 655.0,300.4 662.5,294.2Z" fill="#f6f5f6" filter="url(#b10)"/>
<path d="M675.7,308.6C679.6,303.5 691.4,300.7 697.4,302.4C703.4,304.1 710.1,312.0 711.8,318.8C713.5,325.7 711.8,338.0 707.7,343.5C703.6,348.9 692.8,353.4 687.2,351.7C681.5,350.0 675.9,340.4 674.0,333.2C672.1,326.0 671.8,313.7 675.7,308.6Z" fill="#f6cce7" filter="url(#b8)"/>
<path d="M576.4,413.2C581.2,401.9 603.1,405.7 617.4,405.0C631.8,404.3 650.9,405.0 662.5,409.1C674.2,413.2 685.8,418.9 687.2,429.6C688.5,440.3 687.2,465.9 670.7,473.1C654.3,480.4 604.4,483.1 588.7,473.1C573.0,463.1 571.6,424.6 576.4,413.2Z" fill="#f6f5f6" filter="url(#b12)"/>
<path d="M588.7,433.7C593.5,425.8 616.0,423.5 625.6,425.5C635.2,427.6 646.1,438.1 646.1,446.0C646.1,454.0 633.8,468.6 625.6,473.1C617.4,477.6 603.1,479.7 596.9,473.1C590.7,466.5 583.9,441.6 588.7,433.7Z" fill="#f7e4f1" filter="url(#b10)"/>
<path d="M465.6,347.6C473.1,346.2 490.9,355.8 502.5,364.0C514.2,372.2 525.1,387.2 535.4,396.8C545.6,406.4 562.7,413.2 564.1,421.4C565.4,429.6 553.1,444.7 543.6,446.0C534.0,447.4 517.6,437.8 506.6,429.6C495.7,421.4 486.1,406.4 477.9,396.8C469.7,387.2 459.5,380.4 457.4,372.2C455.4,364.0 458.1,348.9 465.6,347.6Z" fill="#f6f5f6" filter="url(#b10)"/>
<path d="M736.4,421.4C741.2,414.6 756.9,402.3 765.1,400.9C773.3,399.5 787.0,405.7 785.6,413.2C784.2,420.7 765.1,441.2 756.9,446.0C748.7,450.8 739.8,446.0 736.4,441.9C733.0,437.8 731.6,428.2 736.4,421.4Z" fill="#80f280" opacity="0.8" filter="url(#b8)"/>
<path d="M728.2,347.6C735.0,338.0 756.9,339.4 769.2,331.2C781.5,322.9 792.0,306.5 802.0,298.3C812.0,290.1 824.6,273.7 829.1,281.9C833.6,290.1 835.0,328.4 829.1,347.6C823.2,366.7 806.5,385.9 793.8,396.8C781.1,407.7 763.7,414.6 752.8,413.2C741.9,411.8 732.3,399.5 728.2,388.6C724.1,377.6 721.3,357.1 728.2,347.6Z" fill="#b8f5b8" opacity="0.7" filter="url(#b12)"/>
</g>
<text class="lb"><tspan class="br" x="570.6" y="121.2">[</tspan><tspan class="dg" x="576.1" y="120.0" textLength="32.5" lengthAdjust="spacingAndGlyphs">010</tspan><tspan class="br" x="606.4" y="121.2">]</tspan></text>
<text class="lb"><tspan class="br" x="480.1" y="160.6">[</tspan><tspan class="dg" x="485.6" y="159.4" textLength="32.5" lengthAdjust="spacingAndGlyphs">110</tspan><tspan class="br" x="515.8" y="160.6">]</tspan></text><line x1="486.6" y1="144.8" x2="495.2" y2="144.8" class="ob"/>
<text class="lb"><tspan class="br" x="572.7" y="186.0">[</tspan><tspan class="dg" x="578.2" y="184.8" textLength="32.5" lengthAdjust="spacingAndGlyphs">011</tspan><tspan class="br" x="608.4" y="186.0">]</tspan></text>
<text class="lb"><tspan class="br" x="507.5" y="204.8">[</tspan><tspan class="dg" x="513.0" y="203.6" textLength="32.5" lengthAdjust="spacingAndGlyphs">111</tspan><tspan class="br" x="543.3" y="204.8">]</tspan></text><line x1="514.0" y1="189.0" x2="522.7" y2="189.0" class="ob"/>
<text class="lb"><tspan class="br" x="680.9" y="226.1">[</tspan><tspan class="dg" x="686.4" y="224.9" textLength="32.5" lengthAdjust="spacingAndGlyphs">111</tspan><tspan class="br" x="716.6" y="226.1">]</tspan></text>
<text class="lb"><tspan class="br" x="457.9" y="281.9">[</tspan><tspan class="dg" x="463.4" y="280.7" textLength="32.5" lengthAdjust="spacingAndGlyphs">100</tspan><tspan class="br" x="493.7" y="281.9">]</tspan></text><line x1="464.4" y1="266.1" x2="473.1" y2="266.1" class="ob"/>
<text class="lb"><tspan class="br" x="507.5" y="286.8">[</tspan><tspan class="dg" x="513.0" y="285.6" textLength="32.5" lengthAdjust="spacingAndGlyphs">101</tspan><tspan class="br" x="543.3" y="286.8">]</tspan></text><line x1="514.0" y1="271.0" x2="522.7" y2="271.0" class="ob"/>
<text class="lb"><tspan class="br" x="599.3" y="307.3">[</tspan><tspan class="dg" x="604.8" y="306.1" textLength="32.5" lengthAdjust="spacingAndGlyphs">001</tspan><tspan class="br" x="635.0" y="307.3">]</tspan></text>
<text class="lb"><tspan class="br" x="709.1" y="330.2">[</tspan><tspan class="dg" x="714.6" y="329.0" textLength="32.5" lengthAdjust="spacingAndGlyphs">101</tspan><tspan class="br" x="744.9" y="330.2">]</tspan></text>
<text class="lb"><tspan class="br" x="766.5" y="327.4">[</tspan><tspan class="dg" x="772.0" y="326.2" textLength="32.5" lengthAdjust="spacingAndGlyphs">100</tspan><tspan class="br" x="802.3" y="327.4">]</tspan></text>
<text class="lb"><tspan class="br" x="536.6" y="371.2">[</tspan><tspan class="dg" x="542.1" y="370.0" textLength="32.5" lengthAdjust="spacingAndGlyphs">111</tspan><tspan class="br" x="572.4" y="371.2">]</tspan></text><line x1="543.1" y1="355.4" x2="551.8" y2="355.4" class="ob"/><line x1="554.0" y1="355.4" x2="562.6" y2="355.4" class="ob"/>
<text class="lb"><tspan class="br" x="623.9" y="393.8">[</tspan><tspan class="dg" x="629.4" y="392.6" textLength="32.5" lengthAdjust="spacingAndGlyphs">011</tspan><tspan class="br" x="659.7" y="393.8">]</tspan></text><line x1="641.3" y1="378.0" x2="649.9" y2="378.0" class="ob"/>
<text class="lb"><tspan class="br" x="685.8" y="381.5">[</tspan><tspan class="dg" x="691.3" y="380.3" textLength="32.5" lengthAdjust="spacingAndGlyphs">111</tspan><tspan class="br" x="721.5" y="381.5">]</tspan></text><line x1="703.1" y1="365.7" x2="711.8" y2="365.7" class="ob"/>
<text class="lb"><tspan class="br" x="506.3" y="410.6">[</tspan><tspan class="dg" x="511.8" y="409.4" textLength="32.5" lengthAdjust="spacingAndGlyphs">110</tspan><tspan class="br" x="542.0" y="410.6">]</tspan></text><line x1="512.8" y1="394.8" x2="521.4" y2="394.8" class="ob"/><line x1="523.6" y1="394.8" x2="532.3" y2="394.8" class="ob"/>
<text class="lb"><tspan class="br" x="713.6" y="412.2">[</tspan><tspan class="dg" x="719.1" y="411.0" textLength="32.5" lengthAdjust="spacingAndGlyphs">110</tspan><tspan class="br" x="749.4" y="412.2">]</tspan></text><line x1="731.0" y1="396.4" x2="739.6" y2="396.4" class="ob"/>
<text class="lb"><tspan class="br" x="622.3" y="440.9">[</tspan><tspan class="dg" x="627.8" y="439.7" textLength="32.5" lengthAdjust="spacingAndGlyphs">010</tspan><tspan class="br" x="658.0" y="440.9">]</tspan></text><line x1="639.6" y1="425.1" x2="648.3" y2="425.1" class="ob"/>
<g clip-path="url(#cp_b1)">
<rect x="5.4" y="597.2" width="374.0" height="374.0" fill="#b8f5b8"/>
<path d="M82.1,608.4C98.5,597.5 110.8,591.3 135.4,587.9C160.0,584.5 214.0,579.0 229.7,587.9C245.5,596.8 232.5,625.5 229.7,641.2C227.0,657.0 222.9,669.9 213.3,682.3C203.8,694.6 185.3,708.2 172.3,715.1C159.3,721.9 150.4,721.2 135.4,723.3C120.3,725.3 100.5,724.6 82.1,727.4C63.6,730.1 39.0,736.3 24.6,739.7C10.3,743.1 -1.4,754.7 -4.1,747.9C-6.8,741.1 1.4,714.4 8.2,698.7C15.0,682.9 24.6,668.6 36.9,653.5C49.2,638.5 65.6,619.4 82.1,608.4Z" fill="#80f280" filter="url(#b12)"/>
<path d="M123.1,604.3C133.3,596.1 161.4,587.2 176.4,587.9C191.5,588.6 208.5,598.2 213.3,608.4C218.1,618.7 212.0,638.5 205.1,649.4C198.3,660.4 183.9,671.3 172.3,674.1C160.7,676.8 145.0,672.0 135.4,665.8C125.8,659.7 116.9,647.4 114.9,637.1C112.8,626.9 112.8,612.5 123.1,604.3Z" fill="#50ee50" opacity="0.7" filter="url(#b10)"/>
<path d="M24.6,690.5C32.1,678.2 47.9,661.7 61.5,653.5C75.2,645.3 96.4,637.8 106.7,641.2C116.9,644.6 124.4,662.4 123.1,674.1C121.7,685.7 110.8,702.8 98.5,711.0C86.2,719.2 62.9,720.5 49.2,723.3C35.6,726.0 20.5,732.9 16.4,727.4C12.3,721.9 17.1,702.8 24.6,690.5Z" fill="#50ee50" opacity="0.5" filter="url(#b12)"/>
<path d="M237.9,608.4C247.5,600.2 272.1,609.8 287.2,616.6C302.2,623.5 317.3,637.1 328.2,649.4C339.1,661.7 352.8,679.5 352.8,690.5C352.8,701.4 339.1,713.7 328.2,715.1C317.3,716.4 300.9,700.0 287.2,698.7C273.5,697.3 255.7,712.3 246.2,706.9C236.6,701.4 231.1,682.3 229.7,665.8C228.4,649.4 228.4,616.6 237.9,608.4Z" fill="#d8f8d8" filter="url(#b12)"/>
<path d="M254.4,624.8C258.5,618.7 283.8,629.6 295.4,637.1C307.0,644.6 322.7,661.1 324.1,669.9C325.5,678.8 312.5,689.8 303.6,690.5C294.7,691.1 279.0,685.0 270.8,674.1C262.6,663.1 250.3,631.0 254.4,624.8Z" fill="#f6f5f6" filter="url(#b12)"/>
<path d="M229.7,694.6C233.8,689.8 253.0,688.4 262.6,690.5C272.1,692.5 286.5,701.4 287.2,706.9C287.9,712.3 274.9,721.2 266.7,723.3C258.5,725.3 244.1,724.0 237.9,719.2C231.8,714.4 225.6,699.4 229.7,694.6Z" fill="#f6f5f6" opacity="0.8" filter="url(#b8)"/>
<path d="M155.9,715.1C167.5,706.2 196.9,709.6 213.3,711.0C229.7,712.3 248.9,714.4 254.4,723.3C259.8,732.2 253.0,752.0 246.2,764.3C239.3,776.6 221.5,784.8 213.3,797.1C205.1,809.4 202.4,824.5 196.9,838.2C191.5,851.8 187.4,871.0 180.5,879.2C173.7,887.4 162.1,894.2 155.9,887.4C149.7,880.5 145.6,858.7 143.6,838.2C141.5,817.6 141.5,784.8 143.6,764.3C145.6,743.8 144.3,724.0 155.9,715.1Z" fill="#98f398" filter="url(#b12)"/>
<path d="M213.3,727.4C227.0,715.1 266.7,714.4 287.2,715.1C307.7,715.8 326.8,720.5 336.4,731.5C346.0,742.4 343.9,762.9 344.6,780.7C345.3,798.5 343.2,821.7 340.5,838.2C337.8,854.6 333.0,865.5 328.2,879.2C323.4,892.9 322.7,903.4 311.8,920.2C300.9,937.0 294.0,970.1 262.6,980.1C231.1,990.1 149.1,986.0 123.1,980.1C97.1,974.2 104.6,956.2 106.7,944.8C108.7,933.5 124.4,921.6 135.4,912.0C146.3,902.4 162.7,898.3 172.3,887.4C181.9,876.4 187.4,862.8 192.8,846.4C198.3,829.9 201.7,808.8 205.1,788.9C208.5,769.1 199.7,739.7 213.3,727.4Z" fill="#80f280" filter="url(#b12)"/>
<path d="M196.9,797.1C205.8,783.5 231.8,784.1 246.2,772.5C260.5,760.9 270.8,734.2 283.1,727.4C295.4,720.5 312.5,722.6 320.0,731.5C327.5,740.4 325.5,762.9 328.2,780.7C330.9,798.5 337.8,821.7 336.4,838.2C335.0,854.6 326.8,866.9 320.0,879.2C313.2,891.5 307.7,905.2 295.4,912.0C283.1,918.8 259.8,912.0 246.2,920.2C232.5,928.4 225.6,951.2 213.3,961.2C201.0,971.2 181.9,982.8 172.3,980.1C162.7,977.4 154.5,957.5 155.9,944.8C157.3,932.1 174.4,918.8 180.5,903.8C186.7,888.8 190.1,872.3 192.8,854.6C195.6,836.8 188.0,810.8 196.9,797.1Z" fill="#50ee50" filter="url(#b10)"/>
<path d="M176.4,815.6C179.8,806.2 196.2,804.0 205.1,799.2C214.0,794.4 220.2,791.0 229.7,786.9C239.3,782.8 253.7,782.8 262.6,774.6C271.5,766.4 276.2,745.8 283.1,737.6C289.9,729.4 296.8,724.6 303.6,725.3C310.4,726.0 320.0,732.5 324.1,741.7C328.2,751.0 326.2,768.8 328.2,780.7C330.3,792.7 335.0,801.2 336.4,813.5C337.8,825.8 339.1,842.3 336.4,854.6C333.7,866.9 326.8,878.5 320.0,887.4C313.2,896.3 305.0,903.7 295.4,907.9C285.8,912.1 272.8,914.7 262.6,912.8C252.3,910.9 242.1,903.2 233.8,896.4C225.6,889.6 221.5,878.6 213.3,871.8C205.1,865.0 190.8,864.8 184.6,855.4C178.5,846.0 173.0,825.0 176.4,815.6Z" fill="#20ea20" filter="url(#b8)"/>
<path d="M205.1,821.7C208.9,814.4 220.2,804.3 229.7,799.2C239.3,794.1 253.7,796.8 262.6,791.0C271.5,785.2 276.6,773.9 283.1,764.3C289.6,754.7 295.7,735.9 301.5,733.5C307.4,731.1 315.6,741.4 317.9,749.9C320.3,758.5 314.2,774.2 315.9,784.8C317.6,795.4 326.2,803.3 328.2,813.5C330.3,823.8 330.6,836.8 328.2,846.4C325.8,855.9 320.3,862.8 313.8,871.0C307.4,879.2 297.4,890.7 289.2,895.6C281.0,900.5 272.1,902.9 264.6,900.5C257.1,898.1 249.6,888.9 244.1,881.2C238.6,873.6 237.9,860.9 231.8,854.6C225.6,848.2 211.6,848.5 207.2,843.1C202.7,837.6 201.4,829.1 205.1,821.7Z" fill="#03ec03" filter="url(#b7)"/>
<path d="M213.3,846.4C215.4,842.3 229.7,849.1 233.8,854.6C237.9,860.0 240.0,875.1 237.9,879.2C235.9,883.3 225.6,884.6 221.5,879.2C217.4,873.7 211.3,850.5 213.3,846.4Z" fill="#50ee50" opacity="0.6" filter="url(#b8)"/>
<path d="M-4.1,727.4C2.1,708.2 18.5,724.6 32.8,723.3C47.2,721.9 65.0,721.2 82.1,719.2C99.1,717.1 123.1,709.6 135.4,711.0C147.7,712.3 153.2,716.4 155.9,727.4C158.6,738.3 153.2,760.9 151.8,776.6C150.4,792.3 149.7,807.4 147.7,821.7C145.6,836.1 143.6,850.5 139.5,862.8C135.4,875.1 128.5,884.0 123.1,895.6C117.6,907.2 114.2,925.0 106.7,932.5C99.1,940.0 87.5,944.1 77.9,940.7C68.4,937.3 59.5,922.3 49.2,912.0C39.0,901.7 25.3,891.5 16.4,879.2C7.5,866.9 -0.7,863.5 -4.1,838.2C-7.5,812.9 -10.3,746.5 -4.1,727.4Z" fill="#f6f5f6" filter="url(#b12)"/>
<path d="M-4.1,747.9C2.1,737.8 19.8,739.0 32.8,736.4C45.8,733.8 60.2,734.4 73.8,732.3C87.5,730.3 104.3,724.6 114.9,724.1C125.5,723.6 134.2,722.7 137.4,729.4C140.7,736.1 135.7,751.7 134.6,764.3C133.4,777.0 132.5,793.0 130.5,805.3C128.4,817.6 126.4,827.2 122.3,838.2C118.2,849.1 112.5,861.5 105.8,871.0C99.1,880.4 90.8,893.3 82.1,894.8C73.3,896.3 62.2,886.6 53.3,880.0C44.4,873.4 36.2,865.0 28.7,855.4C21.2,845.8 13.7,832.3 8.2,822.6C2.7,812.9 -2.1,809.6 -4.1,797.1C-6.2,784.7 -10.3,758.0 -4.1,747.9Z" fill="#f6cce7" filter="url(#b8)"/>
<path d="M-4.1,776.6C1.4,767.9 25.3,769.4 41.0,770.5C56.8,771.5 76.6,775.9 90.3,782.8C103.9,789.6 118.2,800.9 123.1,811.5C128.0,822.1 123.1,835.8 119.8,846.4C116.5,857.0 109.7,867.0 103.4,875.1C97.1,883.1 90.4,893.9 82.1,894.8C73.7,895.6 62.2,886.6 53.3,880.0C44.4,873.4 36.2,865.0 28.7,855.4C21.2,845.8 13.7,835.7 8.2,822.6C2.7,809.4 -9.6,785.3 -4.1,776.6Z" fill="#f5b0db" filter="url(#b10)"/>
<path d="M16.4,805.3C20.5,798.5 38.3,795.8 49.2,797.1C60.2,798.5 74.5,806.0 82.1,813.5C89.6,821.1 95.0,833.4 94.4,842.3C93.7,851.1 85.5,864.1 77.9,866.9C70.4,869.6 58.1,863.5 49.2,858.7C40.3,853.9 30.1,847.0 24.6,838.2C19.1,829.3 12.3,812.2 16.4,805.3Z" fill="#f394d0" opacity="0.7" filter="url(#b9)"/>
<path d="M12.3,743.8C18.5,739.4 37.6,735.6 45.1,737.6C52.6,739.7 59.5,751.0 57.4,756.1C55.4,761.2 41.0,767.0 32.8,768.4C24.6,769.8 11.6,768.4 8.2,764.3C4.8,760.2 6.2,748.2 12.3,743.8Z" fill="#f5b0db" opacity="0.6" filter="url(#b8)"/>
<path d="M320.0,739.7C324.1,732.9 337.4,728.8 348.7,731.5C360.1,734.2 381.5,732.9 388.1,756.1C394.7,779.4 392.6,850.5 388.1,871.0C383.6,891.5 369.0,881.9 361.0,879.2C353.1,876.4 346.0,865.5 340.5,854.6C335.0,843.6 330.9,827.2 328.2,813.5C325.5,799.9 325.5,784.8 324.1,772.5C322.7,760.2 315.9,746.5 320.0,739.7Z" fill="#f6f5f6" filter="url(#b9)"/>
<path d="M348.7,769.2C353.4,762.4 362.7,763.4 369.2,764.3C375.8,765.2 385.0,761.6 388.1,774.6C391.2,787.6 391.8,828.8 388.1,842.3C384.4,855.7 372.4,856.1 365.9,855.4C359.5,854.7 353.6,846.5 349.5,838.2C345.4,829.8 341.5,816.8 341.3,805.3C341.2,793.8 344.1,776.1 348.7,769.2Z" fill="#f5b0db" filter="url(#b7)"/>
<path d="M326.2,737.6C328.2,735.2 337.8,736.6 340.5,739.7C343.2,742.8 344.6,753.7 342.6,756.1C340.5,758.5 330.9,757.1 328.2,754.1C325.5,751.0 324.1,740.0 326.2,737.6Z" fill="#f6cce7" filter="url(#b5)"/>
<path d="M69.7,907.9C72.5,901.1 89.6,899.0 98.5,899.7C107.4,900.4 121.0,905.2 123.1,912.0C125.1,918.8 117.6,935.9 110.8,940.7C103.9,945.5 88.9,946.2 82.1,940.7C75.2,935.2 67.0,914.7 69.7,907.9Z" fill="#f6f5f6" filter="url(#b8)"/>
</g>
<text class="lb"><tspan class="br" x="149.3" y="644.8">[</tspan><tspan class="dg" x="154.8" y="643.6" textLength="32.5" lengthAdjust="spacingAndGlyphs">010</tspan><tspan class="br" x="185.0" y="644.8">]</tspan></text>
<text class="lb"><tspan class="br" x="56.2" y="674.7">[</tspan><tspan class="dg" x="61.7" y="673.5" textLength="32.5" lengthAdjust="spacingAndGlyphs">110</tspan><tspan class="br" x="91.9" y="674.7">]</tspan></text><line x1="62.7" y1="658.9" x2="71.3" y2="658.9" class="ob"/>
<text class="lb"><tspan class="br" x="160.4" y="696.0">[</tspan><tspan class="dg" x="165.9" y="694.8" textLength="32.5" lengthAdjust="spacingAndGlyphs">011</tspan><tspan class="br" x="196.1" y="696.0">]</tspan></text><line x1="188.6" y1="680.2" x2="197.2" y2="680.2" class="ob"/>
<text class="lb"><tspan class="br" x="90.2" y="710.0">[</tspan><tspan class="dg" x="95.7" y="708.8" textLength="32.5" lengthAdjust="spacingAndGlyphs">111</tspan><tspan class="br" x="125.9" y="710.0">]</tspan></text><line x1="96.7" y1="694.2" x2="105.3" y2="694.2" class="ob"/><line x1="118.4" y1="694.2" x2="127.0" y2="694.2" class="ob"/>
<text class="lb"><tspan class="br" x="234.2" y="711.2">[</tspan><tspan class="dg" x="239.7" y="710.0" textLength="32.5" lengthAdjust="spacingAndGlyphs">111</tspan><tspan class="br" x="269.9" y="711.2">]</tspan></text><line x1="262.4" y1="695.4" x2="271.0" y2="695.4" class="ob"/>
<text class="lb"><tspan class="br" x="274.4" y="691.9">[</tspan><tspan class="dg" x="279.9" y="690.7" textLength="32.5" lengthAdjust="spacingAndGlyphs">110</tspan><tspan class="br" x="310.1" y="691.9">]</tspan></text>
<text class="lb"><tspan class="br" x="23.3" y="779.7">[</tspan><tspan class="dg" x="28.8" y="778.5" textLength="32.5" lengthAdjust="spacingAndGlyphs">100</tspan><tspan class="br" x="59.1" y="779.7">]</tspan></text><line x1="29.8" y1="763.9" x2="38.5" y2="763.9" class="ob"/>
<text class="lb"><tspan class="br" x="75.8" y="774.0">[</tspan><tspan class="dg" x="81.3" y="772.8" textLength="32.5" lengthAdjust="spacingAndGlyphs">101</tspan><tspan class="br" x="111.6" y="774.0">]</tspan></text><line x1="82.3" y1="758.2" x2="91.0" y2="758.2" class="ob"/><line x1="104.0" y1="758.2" x2="112.7" y2="758.2" class="ob"/>
<text class="lb"><tspan class="br" x="164.0" y="785.1">[</tspan><tspan class="dg" x="169.5" y="783.9" textLength="32.5" lengthAdjust="spacingAndGlyphs">001</tspan><tspan class="br" x="199.8" y="785.1">]</tspan></text><line x1="192.2" y1="769.3" x2="200.9" y2="769.3" class="ob"/>
<text class="lb"><tspan class="br" x="268.2" y="783.8">[</tspan><tspan class="dg" x="273.7" y="782.6" textLength="32.5" lengthAdjust="spacingAndGlyphs">101</tspan><tspan class="br" x="304.0" y="783.8">]</tspan></text><line x1="296.4" y1="768.0" x2="305.1" y2="768.0" class="ob"/>
<text class="lb"><tspan class="br" x="327.3" y="806.8">[</tspan><tspan class="dg" x="332.8" y="805.6" textLength="32.5" lengthAdjust="spacingAndGlyphs">100</tspan><tspan class="br" x="363.0" y="806.8">]</tspan></text>
<text class="lb"><tspan class="br" x="92.3" y="865.0">[</tspan><tspan class="dg" x="97.8" y="863.8" textLength="32.5" lengthAdjust="spacingAndGlyphs">111</tspan><tspan class="br" x="128.0" y="865.0">]</tspan></text><line x1="98.8" y1="849.2" x2="107.4" y2="849.2" class="ob"/><line x1="109.6" y1="849.2" x2="118.3" y2="849.2" class="ob"/><line x1="120.5" y1="849.2" x2="129.1" y2="849.2" class="ob"/>
<text class="lb"><tspan class="br" x="168.5" y="898.7">[</tspan><tspan class="dg" x="174.0" y="897.5" textLength="32.5" lengthAdjust="spacingAndGlyphs">011</tspan><tspan class="br" x="204.3" y="898.7">]</tspan></text><line x1="185.9" y1="882.9" x2="194.5" y2="882.9" class="ob"/><line x1="196.7" y1="882.9" x2="205.4" y2="882.9" class="ob"/>
<text class="lb"><tspan class="br" x="251.0" y="885.6">[</tspan><tspan class="dg" x="256.5" y="884.4" textLength="32.5" lengthAdjust="spacingAndGlyphs">111</tspan><tspan class="br" x="286.8" y="885.6">]</tspan></text><line x1="268.4" y1="869.8" x2="277.0" y2="869.8" class="ob"/><line x1="279.2" y1="869.8" x2="287.9" y2="869.8" class="ob"/>
<text class="lb"><tspan class="br" x="70.9" y="917.6">[</tspan><tspan class="dg" x="76.4" y="916.4" textLength="32.5" lengthAdjust="spacingAndGlyphs">110</tspan><tspan class="br" x="106.7" y="917.6">]</tspan></text><line x1="77.4" y1="901.8" x2="86.1" y2="901.8" class="ob"/><line x1="88.3" y1="901.8" x2="96.9" y2="901.8" class="ob"/>
<text class="lb"><tspan class="br" x="286.3" y="923.3">[</tspan><tspan class="dg" x="291.8" y="922.1" textLength="32.5" lengthAdjust="spacingAndGlyphs">110</tspan><tspan class="br" x="322.0" y="923.3">]</tspan></text><line x1="303.6" y1="907.5" x2="312.3" y2="907.5" class="ob"/>
<text class="lb"><tspan class="br" x="178.4" y="955.3">[</tspan><tspan class="dg" x="183.9" y="954.1" textLength="32.5" lengthAdjust="spacingAndGlyphs">010</tspan><tspan class="br" x="214.1" y="955.3">]</tspan></text><line x1="195.7" y1="939.5" x2="204.4" y2="939.5" class="ob"/>
<g clip-path="url(#cp_b2)">
<rect x="446.3" y="597.0" width="374.0" height="374.0" fill="#b8f5b8"/>
<path d="M482.0,633.0C494.3,613.9 529.9,605.7 564.1,600.2C598.3,594.7 653.0,593.4 687.2,600.2C721.3,607.0 750.1,624.8 769.2,641.2C788.4,657.6 808.9,690.5 802.0,698.7C795.2,706.9 752.8,690.5 728.2,690.5C703.6,690.5 674.8,698.7 654.3,698.7C633.8,698.7 623.6,691.1 605.1,690.5C586.6,689.8 562.7,690.5 543.6,694.6C524.4,698.7 500.5,725.3 490.2,715.1C480.0,704.8 469.7,652.2 482.0,633.0Z" fill="#d8f8d8" filter="url(#b14)"/>
<path d="M543.6,645.3C551.8,637.8 573.0,639.2 588.7,641.2C604.4,643.3 624.2,658.3 637.9,657.6C651.6,657.0 657.1,638.5 670.7,637.1C684.4,635.8 715.9,641.9 720.0,649.4C724.1,657.0 709.0,676.1 695.4,682.3C681.7,688.4 657.1,683.6 637.9,686.4C618.8,689.1 596.9,698.7 580.5,698.7C564.1,698.7 545.6,695.2 539.5,686.4C533.3,677.5 535.4,652.9 543.6,645.3Z" fill="#f6f5f6" opacity="0.6" filter="url(#b12)"/>
<path d="M576.4,608.4C581.9,602.9 608.5,598.8 621.5,600.2C634.5,601.6 653.0,610.5 654.3,616.6C655.7,622.8 640.7,634.4 629.7,637.1C618.8,639.9 597.6,637.8 588.7,633.0C579.8,628.2 570.9,613.9 576.4,608.4Z" fill="#98f398" filter="url(#b10)"/>
<path d="M670.7,727.4C674.8,718.5 681.7,708.2 695.4,702.8C709.0,697.3 735.7,692.5 752.8,694.6C769.9,696.6 786.3,703.5 797.9,715.1C809.5,726.7 819.1,746.5 822.5,764.3C826.0,782.1 823.2,804.0 818.4,821.7C813.6,839.5 802.7,855.2 793.8,871.0C784.9,886.7 776.0,902.4 765.1,916.1C754.2,929.8 741.2,946.9 728.2,953.0C715.2,959.2 698.1,958.5 687.2,953.0C676.2,947.6 671.4,930.5 662.5,920.2C653.6,909.9 643.4,901.7 633.8,891.5C624.2,881.2 610.2,871.7 605.1,858.7C600.0,845.7 600.3,825.2 603.1,813.5C605.8,801.9 613.0,795.1 621.5,788.9C630.1,782.8 646.1,782.1 654.3,776.6C662.5,771.1 668.0,764.3 670.7,756.1C673.5,747.9 666.6,736.3 670.7,727.4Z" fill="#80f280" filter="url(#b12)"/>
<path d="M687.2,727.4C692.6,718.5 707.7,710.3 720.0,706.9C732.3,703.5 749.4,702.8 761.0,706.9C772.6,711.0 782.9,721.2 789.7,731.5C796.6,741.7 802.0,756.1 802.0,768.4C802.0,780.7 795.9,793.7 789.7,805.3C783.6,817.0 771.3,827.2 765.1,838.2C758.9,849.1 758.9,861.4 752.8,871.0C746.6,880.5 736.4,887.4 728.2,895.6C720.0,903.8 711.8,918.8 703.6,920.2C695.4,921.6 687.2,910.6 678.9,903.8C670.7,897.0 663.2,887.4 654.3,879.2C645.4,871.0 631.8,864.1 625.6,854.6C619.5,845.0 615.4,831.3 617.4,821.7C619.5,812.2 629.0,803.3 637.9,797.1C646.8,791.0 662.5,791.0 670.7,784.8C678.9,778.7 684.4,769.8 687.2,760.2C689.9,750.6 681.7,736.3 687.2,727.4Z" fill="#50ee50" filter="url(#b10)"/>
<path d="M696.2,728.2C698.1,718.1 710.5,714.5 720.0,711.8C729.4,709.1 742.7,708.4 752.8,711.8C762.9,715.2 774.7,724.2 780.7,732.3C786.7,740.4 790.8,752.3 788.9,760.2C787.0,768.1 777.8,775.8 769.2,779.9C760.6,784.0 747.3,786.1 737.2,784.8C727.1,783.6 715.3,781.9 708.5,772.5C701.6,763.1 694.3,738.3 696.2,728.2Z" fill="#03ec03" filter="url(#b7)"/>
<path d="M655.2,815.6C660.5,808.8 669.5,798.2 678.9,793.8C688.4,789.5 702.2,787.7 711.8,789.7C721.3,791.8 729.7,799.5 736.4,806.2C743.1,812.9 750.6,821.9 752.0,829.9C753.3,838.0 749.9,847.7 744.6,854.6C739.3,861.4 729.5,868.8 720.0,871.0C710.4,873.2 696.7,870.3 687.2,867.7C677.6,865.1 669.2,860.9 662.5,855.4C655.8,849.9 648.2,841.5 646.9,834.9C645.7,828.2 649.8,822.4 655.2,815.6Z" fill="#03ec03" filter="url(#b7)"/>
<path d="M703.6,772.5C711.8,769.8 736.4,774.6 744.6,780.7C752.8,786.9 756.9,805.3 752.8,809.4C748.7,813.5 729.5,807.4 720.0,805.3C710.4,803.3 698.1,802.6 695.4,797.1C692.6,791.7 695.4,775.2 703.6,772.5Z" fill="#20ea20" filter="url(#b8)"/>
<path d="M687.2,871.0C692.6,861.4 718.6,865.5 728.2,871.0C737.8,876.4 746.0,892.2 744.6,903.8C743.2,915.4 728.2,936.6 720.0,940.7C711.8,944.8 700.8,940.0 695.4,928.4C689.9,916.8 681.7,880.5 687.2,871.0Z" fill="#20ea20" opacity="0.3" filter="url(#b8)"/>
<path d="M436.9,739.7C440.3,724.0 454.7,738.3 465.6,735.6C476.6,732.9 489.5,728.8 502.5,723.3C515.5,717.8 529.9,706.9 543.6,702.8C557.2,698.7 570.9,697.3 584.6,698.7C598.3,700.0 620.1,702.8 625.6,711.0C631.1,719.2 620.1,737.0 617.4,747.9C614.7,758.8 610.2,766.4 609.2,776.6C608.2,786.9 610.6,797.8 611.3,809.4C611.9,821.1 614.3,833.4 613.3,846.4C612.3,859.4 611.3,877.8 605.1,887.4C598.9,897.0 587.3,901.1 576.4,903.8C565.4,906.5 551.8,905.8 539.5,903.8C527.2,901.7 514.2,898.3 502.5,891.5C490.9,884.6 479.3,873.0 469.7,862.8C460.1,852.5 450.6,850.5 445.1,829.9C439.6,809.4 433.5,755.4 436.9,739.7Z" fill="#f6f5f6" filter="url(#b12)"/>
<path d="M436.9,756.1C441.7,749.4 454.7,752.0 465.6,748.7C476.6,745.4 489.5,741.9 502.5,736.4C515.5,730.9 530.6,720.0 543.6,715.9C556.6,711.8 568.9,711.1 580.5,711.8C592.1,712.5 609.2,714.0 613.3,720.0C617.4,726.0 607.8,739.1 605.1,747.9C602.4,756.6 597.9,762.9 596.9,772.5C595.9,782.1 598.3,794.4 598.9,805.3C599.6,816.3 604.8,827.2 601.0,838.2C597.2,849.1 586.0,864.1 576.4,871.0C566.8,877.8 553.8,879.2 543.6,879.2C533.3,879.2 525.1,876.4 514.8,871.0C504.6,865.5 491.6,855.9 482.0,846.4C472.5,836.8 464.9,823.1 457.4,813.5C449.9,804.0 440.3,798.5 436.9,788.9C433.5,779.4 432.1,762.8 436.9,756.1Z" fill="#f6cce7" filter="url(#b9)"/>
<path d="M555.9,719.2C562.0,715.4 576.4,711.7 584.6,713.0C592.8,714.4 603.7,721.6 605.1,727.4C606.5,733.2 599.6,743.8 592.8,747.9C586.0,752.0 571.6,754.1 564.1,752.0C556.6,749.9 549.0,741.1 547.7,735.6C546.3,730.1 549.7,722.9 555.9,719.2Z" fill="#f5b0db" filter="url(#b9)"/>
<path d="M436.9,768.4C438.3,760.9 454.0,765.0 461.5,768.4C469.0,771.8 479.3,781.4 482.0,788.9C484.8,796.4 482.7,809.4 477.9,813.5C473.1,817.6 460.1,821.1 453.3,813.5C446.5,806.0 435.5,775.9 436.9,768.4Z" fill="#f5b0db" filter="url(#b9)"/>
<path d="M498.4,829.9C502.5,823.1 523.1,822.4 531.3,825.8C539.5,829.3 547.0,842.3 547.7,850.5C548.4,858.7 542.2,872.3 535.4,875.1C528.5,877.8 512.8,874.4 506.6,866.9C500.5,859.4 494.3,836.8 498.4,829.9Z" fill="#f5b0db" opacity="0.8" filter="url(#b10)"/>
<path d="M502.5,764.3C507.3,756.1 533.3,753.4 543.6,756.1C553.8,758.8 563.4,771.1 564.1,780.7C564.8,790.3 555.9,809.4 547.7,813.5C539.5,817.6 522.4,813.5 514.8,805.3C507.3,797.1 497.8,772.5 502.5,764.3Z" fill="#f7e4f1" filter="url(#b10)"/>
<path d="M576.4,912.0C584.6,903.8 601.7,902.4 613.3,903.8C624.9,905.2 639.3,912.0 646.1,920.2C653.0,928.4 655.7,943.0 654.3,953.0C653.0,963.0 647.5,975.6 637.9,980.1C628.4,984.6 609.2,984.6 596.9,980.1C584.6,975.6 567.5,964.4 564.1,953.0C560.7,941.7 568.2,920.2 576.4,912.0Z" fill="#f6f5f6" filter="url(#b12)"/>
<path d="M605.1,936.6C609.9,931.8 627.0,928.4 633.8,932.5C640.7,936.6 648.2,953.3 646.1,961.2C644.1,969.2 628.4,980.1 621.5,980.1C614.7,980.1 607.8,968.5 605.1,961.2C602.4,954.0 600.3,941.4 605.1,936.6Z" fill="#f7e4f1" filter="url(#b10)"/>
<path d="M490.2,887.4C493.0,881.9 517.6,898.3 531.3,903.8C544.9,909.3 568.2,913.4 572.3,920.2C576.4,927.0 565.4,942.1 555.9,944.8C546.3,947.6 525.8,946.2 514.8,936.6C503.9,927.0 487.5,892.9 490.2,887.4Z" fill="#f6f5f6" filter="url(#b10)"/>
</g>
<text class="lb"><tspan class="br" x="590.2" y="644.6">[</tspan><tspan class="dg" x="595.7" y="643.4" textLength="32.5" lengthAdjust="spacingAndGlyphs">010</tspan><tspan class="br" x="625.9" y="644.6">]</tspan></text>
<text class="lb"><tspan class="br" x="497.1" y="674.5">[</tspan><tspan class="dg" x="502.6" y="673.3" textLength="32.5" lengthAdjust="spacingAndGlyphs">110</tspan><tspan class="br" x="532.8" y="674.5">]</tspan></text><line x1="503.6" y1="658.7" x2="512.2" y2="658.7" class="ob"/>
<text class="lb"><tspan class="br" x="601.3" y="695.8">[</tspan><tspan class="dg" x="606.8" y="694.6" textLength="32.5" lengthAdjust="spacingAndGlyphs">011</tspan><tspan class="br" x="637.0" y="695.8">]</tspan></text><line x1="629.5" y1="680.0" x2="638.1" y2="680.0" class="ob"/>
<text class="lb"><tspan class="br" x="531.1" y="709.8">[</tspan><tspan class="dg" x="536.6" y="708.6" textLength="32.5" lengthAdjust="spacingAndGlyphs">111</tspan><tspan class="br" x="566.8" y="709.8">]</tspan></text><line x1="537.6" y1="694.0" x2="546.2" y2="694.0" class="ob"/><line x1="559.3" y1="694.0" x2="567.9" y2="694.0" class="ob"/>
<text class="lb"><tspan class="br" x="675.1" y="711.0">[</tspan><tspan class="dg" x="680.6" y="709.8" textLength="32.5" lengthAdjust="spacingAndGlyphs">111</tspan><tspan class="br" x="710.8" y="711.0">]</tspan></text><line x1="703.3" y1="695.2" x2="711.9" y2="695.2" class="ob"/>
<text class="lb"><tspan class="br" x="715.3" y="691.7">[</tspan><tspan class="dg" x="720.8" y="690.5" textLength="32.5" lengthAdjust="spacingAndGlyphs">110</tspan><tspan class="br" x="751.0" y="691.7">]</tspan></text>
<text class="lb"><tspan class="br" x="464.2" y="779.5">[</tspan><tspan class="dg" x="469.7" y="778.3" textLength="32.5" lengthAdjust="spacingAndGlyphs">100</tspan><tspan class="br" x="500.0" y="779.5">]</tspan></text><line x1="470.7" y1="763.7" x2="479.4" y2="763.7" class="ob"/>
<text class="lb"><tspan class="br" x="516.7" y="773.8">[</tspan><tspan class="dg" x="522.2" y="772.6" textLength="32.5" lengthAdjust="spacingAndGlyphs">101</tspan><tspan class="br" x="552.5" y="773.8">]</tspan></text><line x1="523.2" y1="758.0" x2="531.9" y2="758.0" class="ob"/><line x1="544.9" y1="758.0" x2="553.6" y2="758.0" class="ob"/>
<text class="lb"><tspan class="br" x="604.9" y="784.9">[</tspan><tspan class="dg" x="610.4" y="783.7" textLength="32.5" lengthAdjust="spacingAndGlyphs">001</tspan><tspan class="br" x="640.7" y="784.9">]</tspan></text><line x1="633.1" y1="769.1" x2="641.8" y2="769.1" class="ob"/>
<text class="lb"><tspan class="br" x="709.1" y="783.6">[</tspan><tspan class="dg" x="714.6" y="782.4" textLength="32.5" lengthAdjust="spacingAndGlyphs">101</tspan><tspan class="br" x="744.9" y="783.6">]</tspan></text><line x1="737.3" y1="767.8" x2="746.0" y2="767.8" class="ob"/>
<text class="lb"><tspan class="br" x="768.2" y="806.6">[</tspan><tspan class="dg" x="773.7" y="805.4" textLength="32.5" lengthAdjust="spacingAndGlyphs">100</tspan><tspan class="br" x="803.9" y="806.6">]</tspan></text>
<text class="lb"><tspan class="br" x="533.2" y="864.8">[</tspan><tspan class="dg" x="538.7" y="863.6" textLength="32.5" lengthAdjust="spacingAndGlyphs">111</tspan><tspan class="br" x="568.9" y="864.8">]</tspan></text><line x1="539.7" y1="849.0" x2="548.3" y2="849.0" class="ob"/><line x1="550.5" y1="849.0" x2="559.2" y2="849.0" class="ob"/><line x1="561.4" y1="849.0" x2="570.0" y2="849.0" class="ob"/>
<text class="lb"><tspan class="br" x="609.4" y="898.5">[</tspan><tspan class="dg" x="614.9" y="897.3" textLength="32.5" lengthAdjust="spacingAndGlyphs">011</tspan><tspan class="br" x="645.2" y="898.5">]</tspan></text><line x1="626.8" y1="882.7" x2="635.4" y2="882.7" class="ob"/><line x1="637.6" y1="882.7" x2="646.3" y2="882.7" class="ob"/>
<text class="lb"><tspan class="br" x="691.9" y="885.4">[</tspan><tspan class="dg" x="697.4" y="884.2" textLength="32.5" lengthAdjust="spacingAndGlyphs">111</tspan><tspan class="br" x="727.7" y="885.4">]</tspan></text><line x1="709.3" y1="869.6" x2="717.9" y2="869.6" class="ob"/><line x1="720.1" y1="869.6" x2="728.8" y2="869.6" class="ob"/>
<text class="lb"><tspan class="br" x="511.8" y="917.4">[</tspan><tspan class="dg" x="517.3" y="916.2" textLength="32.5" lengthAdjust="spacingAndGlyphs">110</tspan><tspan class="br" x="547.6" y="917.4">]</tspan></text><line x1="518.3" y1="901.6" x2="527.0" y2="901.6" class="ob"/><line x1="529.2" y1="901.6" x2="537.8" y2="901.6" class="ob"/>
<text class="lb"><tspan class="br" x="727.2" y="923.1">[</tspan><tspan class="dg" x="732.7" y="921.9" textLength="32.5" lengthAdjust="spacingAndGlyphs">110</tspan><tspan class="br" x="762.9" y="923.1">]</tspan></text><line x1="744.5" y1="907.3" x2="753.2" y2="907.3" class="ob"/>
<text class="lb"><tspan class="br" x="619.3" y="955.1">[</tspan><tspan class="dg" x="624.8" y="953.9" textLength="32.5" lengthAdjust="spacingAndGlyphs">010</tspan><tspan class="br" x="655.0" y="955.1">]</tspan></text><line x1="636.6" y1="939.3" x2="645.3" y2="939.3" class="ob"/>
<g clip-path="url(#cp_e1)">
<rect x="3.6" y="1675.6" width="384.0" height="384.0" fill="#b8f5b8"/>
<path d="M16.8,1780.9C26.5,1765.5 48.9,1765.5 67.0,1764.1C85.1,1762.7 110.3,1764.8 125.6,1772.5C141.0,1780.2 152.8,1794.8 159.1,1810.2C165.4,1825.5 164.7,1847.2 163.3,1864.6C161.9,1882.1 158.4,1901.6 150.8,1914.9C143.1,1928.1 131.2,1940.0 117.3,1944.2C103.3,1948.4 81.7,1946.3 67.0,1940.0C52.3,1933.7 39.1,1920.5 29.3,1906.5C19.5,1892.5 10.5,1877.2 8.4,1856.3C6.3,1835.3 7.0,1796.2 16.8,1780.9Z" fill="#98f398" filter="url(#b14)"/>
<path d="M16.8,1810.2C20.2,1795.5 30.7,1790.6 41.9,1785.1C53.0,1779.5 69.8,1775.3 83.8,1776.7C97.7,1778.1 115.9,1784.4 125.6,1793.4C135.4,1802.5 139.6,1816.5 142.4,1831.1C145.2,1845.8 145.2,1867.4 142.4,1881.4C139.6,1895.3 135.4,1907.9 125.6,1914.9C115.9,1921.9 97.0,1924.7 83.8,1923.3C70.5,1921.9 56.5,1914.9 46.1,1906.5C35.6,1898.1 25.8,1889.1 20.9,1873.0C16.1,1857.0 13.3,1824.8 16.8,1810.2Z" fill="#80f280" opacity="0.7" filter="url(#b14)"/>
<path d="M33.5,1831.1C35.2,1821.7 41.9,1811.9 50.3,1806.0C58.6,1800.1 73.3,1794.1 83.8,1795.5C94.2,1796.9 106.1,1805.7 113.1,1814.4C120.0,1823.1 122.8,1836.7 125.6,1847.9C128.4,1859.0 131.9,1871.6 129.8,1881.4C127.7,1891.2 120.7,1903.0 113.1,1906.5C105.4,1910.0 92.8,1905.8 83.8,1902.3C74.7,1898.8 66.0,1892.2 58.6,1885.6C51.3,1878.9 44.0,1871.6 39.8,1862.5C35.6,1853.5 31.8,1840.6 33.5,1831.1Z" fill="#80f280" filter="url(#b10)"/>
<path d="M46.1,1833.2C48.3,1826.2 56.2,1818.6 62.8,1814.4C69.4,1810.2 78.9,1806.7 85.8,1808.1C92.8,1809.5 100.0,1816.1 104.7,1822.8C109.4,1829.4 112.2,1838.8 113.9,1847.9C115.6,1857.0 117.4,1869.9 115.2,1877.2C112.9,1884.5 106.1,1890.1 100.5,1891.8C94.9,1893.6 87.9,1890.8 81.7,1887.7C75.4,1884.5 68.2,1878.2 62.8,1873.0C57.4,1867.8 52.2,1862.9 49.4,1856.3C46.6,1849.6 43.8,1840.2 46.1,1833.2Z" fill="#50ee50" filter="url(#b8)"/>
<path d="M52.3,1837.4C54.6,1831.1 61.1,1822.4 67.0,1818.6C72.9,1814.7 81.7,1812.6 87.9,1814.4C94.2,1816.1 100.6,1822.8 104.7,1829.0C108.7,1835.3 110.8,1844.0 112.2,1852.1C113.6,1860.1 115.0,1870.9 113.1,1877.2C111.1,1883.5 105.7,1888.2 100.5,1889.8C95.3,1891.3 87.6,1889.2 81.7,1886.4C75.7,1883.6 69.6,1878.0 64.9,1873.0C60.2,1868.0 55.7,1862.2 53.6,1856.3C51.5,1850.3 50.1,1843.7 52.3,1837.4Z" fill="#20ea20" opacity="0.7" filter="url(#b10)"/>
<path d="M83.8,1923.3C91.4,1919.1 116.6,1924.7 125.6,1931.6C134.7,1938.6 141.0,1958.2 138.2,1965.1C135.4,1972.1 118.6,1974.9 108.9,1973.5C99.1,1972.1 83.8,1965.1 79.6,1956.8C75.4,1948.4 76.1,1927.4 83.8,1923.3Z" fill="#98f398" filter="url(#b12)"/>
<path d="M201.0,1755.8C203.8,1742.5 210.8,1734.1 221.9,1726.4C233.1,1718.8 253.4,1713.9 268.0,1709.7C282.7,1705.5 296.6,1699.9 309.9,1701.3C323.1,1702.7 336.4,1709.0 347.6,1718.1C358.7,1727.1 368.8,1742.5 376.9,1755.8C385.0,1769.0 392.9,1779.5 396.1,1797.6C399.4,1815.8 400.8,1854.9 396.1,1864.6C391.5,1874.4 378.7,1859.0 368.5,1856.3C358.3,1853.5 347.6,1848.6 335.0,1847.9C322.4,1847.2 307.1,1852.1 293.1,1852.1C279.2,1852.1 263.1,1851.4 251.3,1847.9C239.4,1844.4 229.6,1838.1 221.9,1831.1C214.3,1824.1 208.7,1818.6 205.2,1806.0C201.7,1793.4 198.2,1769.0 201.0,1755.8Z" fill="#f6f5f6" filter="url(#b10)"/>
<path d="M218.6,1748.2C222.1,1742.1 226.3,1735.7 234.5,1731.5C242.7,1727.3 256.8,1725.9 268.0,1723.1C279.2,1720.3 290.3,1714.0 301.5,1714.7C312.7,1715.4 325.4,1720.4 335.0,1727.3C344.6,1734.1 353.2,1745.4 359.3,1755.8C365.4,1766.1 370.5,1779.5 371.9,1789.3C373.3,1799.0 372.4,1807.4 367.7,1814.4C362.9,1821.4 353.0,1826.9 343.4,1831.1C333.8,1835.3 321.0,1838.1 309.9,1839.5C298.7,1840.9 286.7,1840.9 276.4,1839.5C266.1,1838.1 256.1,1835.3 247.9,1831.1C239.7,1826.9 232.6,1821.4 227.0,1814.4C221.4,1807.4 216.6,1796.9 214.4,1789.3C212.2,1781.6 212.9,1775.2 213.6,1768.3C214.3,1761.5 215.1,1754.4 218.6,1748.2Z" fill="#f6cce7" opacity="0.9" filter="url(#b8)"/>
<path d="M293.1,1730.6C298.0,1725.7 321.0,1729.2 330.8,1734.8C340.6,1740.4 351.1,1756.5 351.8,1764.1C352.5,1771.8 343.4,1780.9 335.0,1780.9C326.6,1780.9 308.5,1772.5 301.5,1764.1C294.5,1755.8 288.2,1735.5 293.1,1730.6Z" fill="#f5b0db" opacity="0.35" filter="url(#b10)"/>
<path d="M167.5,1847.9C173.8,1840.9 199.6,1836.0 209.4,1839.5C219.2,1843.0 227.5,1859.7 226.1,1868.8C224.7,1877.9 210.1,1891.8 201.0,1893.9C191.9,1896.0 177.3,1889.1 171.7,1881.4C166.1,1873.7 161.2,1854.9 167.5,1847.9Z" fill="#d8f8d8" opacity="0.9" filter="url(#b10)"/>
<path d="M234.5,1898.1C240.1,1889.1 272.2,1887.0 284.8,1889.8C297.3,1892.5 308.5,1905.8 309.9,1914.9C311.3,1924.0 302.9,1939.3 293.1,1944.2C283.4,1949.1 261.0,1951.9 251.3,1944.2C241.5,1936.5 228.9,1907.2 234.5,1898.1Z" fill="#d8f8d8" filter="url(#b12)"/>
<path d="M117.3,1981.9C121.4,1974.2 132.6,1964.4 142.4,1960.9C152.1,1957.5 166.8,1957.5 175.9,1960.9C185.0,1964.4 194.0,1973.5 196.8,1981.9C199.6,1990.3 197.5,2003.5 192.6,2011.2C187.7,2018.9 177.3,2025.9 167.5,2027.9C157.7,2030.0 142.4,2027.2 134.0,2023.8C125.6,2020.3 120.0,2014.0 117.3,2007.0C114.5,2000.0 113.1,1989.6 117.3,1981.9Z" fill="#f6f5f6" filter="url(#b9)"/>
<path d="M130.7,1982.7C134.1,1978.0 140.6,1972.0 147.4,1970.2C154.2,1968.3 165.5,1969.2 171.7,1971.8C177.8,1974.5 182.9,1980.2 184.3,1986.1C185.7,1991.9 184.1,2001.7 180.1,2007.0C176.0,2012.3 166.8,2017.1 160.0,2017.9C153.1,2018.7 144.6,2015.2 139.0,2012.0C133.4,2008.8 127.9,2003.5 126.5,1998.6C125.1,1993.7 127.2,1987.5 130.7,1982.7Z" fill="#f5b0db" filter="url(#b7)"/>
<path d="M142.4,1986.1C145.9,1982.9 158.4,1979.8 163.3,1981.9C168.2,1984.0 173.1,1994.4 171.7,1998.6C170.3,2002.8 159.8,2006.7 154.9,2007.0C150.1,2007.4 144.5,2004.2 142.4,2000.7C140.3,1997.2 138.9,1989.2 142.4,1986.1Z" fill="#f394d0" opacity="0.5" filter="url(#b7)"/>
<path d="M-2.1,1856.3C-0.3,1847.9 8.0,1852.1 10.5,1860.4C12.9,1868.8 14.3,1898.1 12.6,1906.5C10.8,1914.9 2.4,1919.1 0.0,1910.7C-2.4,1902.3 -3.8,1864.6 -2.1,1856.3Z" fill="#f6cce7" filter="url(#b6)"/>
<path d="M245.0,1975.6C247.6,1973.5 259.3,1974.9 261.7,1977.7C264.2,1980.5 262.2,1990.3 259.6,1992.4C257.0,1994.4 248.7,1993.0 246.2,1990.3C243.8,1987.5 242.4,1977.7 245.0,1975.6Z" fill="#f7e4f1" filter="url(#b6)"/>
<path d="M234.5,1965.1C240.1,1959.5 265.9,1959.5 272.2,1965.1C278.5,1970.7 277.8,1993.0 272.2,1998.6C266.6,2004.2 245.0,2004.2 238.7,1998.6C232.4,1993.0 228.9,1970.7 234.5,1965.1Z" fill="#f6f5f6" opacity="0.6" filter="url(#b8)"/>
<path d="M259.6,2015.4C269.4,2007.0 284.8,2005.6 301.5,1998.6C318.3,1991.7 347.6,1973.5 360.1,1973.5C372.7,1973.5 381.1,1986.1 376.9,1998.6C372.7,2011.2 352.5,2037.3 335.0,2048.9C317.6,2060.5 287.5,2068.1 272.2,2068.1C256.8,2068.1 245.0,2057.7 242.9,2048.9C240.8,2040.1 249.9,2023.8 259.6,2015.4Z" fill="#80f280" opacity="0.8" filter="url(#b12)"/>
<path d="M372.7,1881.4C376.3,1875.1 392.2,1867.4 396.1,1873.0C400.1,1878.6 399.7,1908.6 396.1,1914.9C392.6,1921.2 378.7,1916.3 374.8,1910.7C370.9,1905.1 369.1,1887.7 372.7,1881.4Z" fill="#80f280" opacity="0.8" filter="url(#b8)"/>
<path d="M293.1,1923.3C297.3,1914.9 322.4,1913.5 335.0,1914.9C347.6,1916.3 364.3,1923.3 368.5,1931.6C372.7,1940.0 369.9,1959.5 360.1,1965.1C350.4,1970.7 321.0,1972.1 309.9,1965.1C298.7,1958.2 288.9,1931.6 293.1,1923.3Z" fill="#98f398" filter="url(#b12)"/>
<path d="M41.9,1944.2C49.6,1944.2 65.6,1956.1 75.4,1965.1C85.1,1974.2 99.1,1988.9 100.5,1998.6C101.9,2008.4 92.1,2023.8 83.8,2023.8C75.4,2023.8 59.3,2008.4 50.3,1998.6C41.2,1988.9 30.7,1974.2 29.3,1965.1C27.9,1956.1 34.2,1944.2 41.9,1944.2Z" fill="#f6f5f6" opacity="0.6" filter="url(#b12)"/>
</g>
<text class="lb"><tspan class="br" x="131.7" y="1707.1">[</tspan><tspan class="dg" x="137.2" y="1705.9" textLength="32.5" lengthAdjust="spacingAndGlyphs">010</tspan><tspan class="br" x="167.5" y="1707.1">]</tspan></text>
<text class="lb"><tspan class="br" x="38.7" y="1747.5">[</tspan><tspan class="dg" x="44.2" y="1746.3" textLength="32.5" lengthAdjust="spacingAndGlyphs">110</tspan><tspan class="br" x="74.5" y="1747.5">]</tspan></text><line x1="45.2" y1="1731.7" x2="53.9" y2="1731.7" class="ob"/>
<text class="lb"><tspan class="br" x="133.8" y="1773.6">[</tspan><tspan class="dg" x="139.3" y="1772.4" textLength="32.5" lengthAdjust="spacingAndGlyphs">011</tspan><tspan class="br" x="169.6" y="1773.6">]</tspan></text>
<text class="lb"><tspan class="br" x="66.9" y="1792.9">[</tspan><tspan class="dg" x="72.4" y="1791.7" textLength="32.5" lengthAdjust="spacingAndGlyphs">111</tspan><tspan class="br" x="102.6" y="1792.9">]</tspan></text><line x1="73.4" y1="1777.1" x2="82.0" y2="1777.1" class="ob"/>
<text class="lb"><tspan class="br" x="244.9" y="1814.8">[</tspan><tspan class="dg" x="250.4" y="1813.6" textLength="32.5" lengthAdjust="spacingAndGlyphs">111</tspan><tspan class="br" x="280.7" y="1814.8">]</tspan></text>
<text class="lb"><tspan class="br" x="16.0" y="1872.1">[</tspan><tspan class="dg" x="21.5" y="1870.9" textLength="32.5" lengthAdjust="spacingAndGlyphs">100</tspan><tspan class="br" x="51.7" y="1872.1">]</tspan></text><line x1="22.5" y1="1856.3" x2="31.1" y2="1856.3" class="ob"/>
<text class="lb"><tspan class="br" x="66.9" y="1877.1">[</tspan><tspan class="dg" x="72.4" y="1875.9" textLength="32.5" lengthAdjust="spacingAndGlyphs">101</tspan><tspan class="br" x="102.6" y="1877.1">]</tspan></text><line x1="73.4" y1="1861.3" x2="82.0" y2="1861.3" class="ob"/>
<text class="lb"><tspan class="br" x="161.2" y="1898.2">[</tspan><tspan class="dg" x="166.7" y="1897.0" textLength="32.5" lengthAdjust="spacingAndGlyphs">001</tspan><tspan class="br" x="196.9" y="1898.2">]</tspan></text>
<text class="lb"><tspan class="br" x="274.0" y="1921.7">[</tspan><tspan class="dg" x="279.5" y="1920.5" textLength="32.5" lengthAdjust="spacingAndGlyphs">101</tspan><tspan class="br" x="309.7" y="1921.7">]</tspan></text>
<text class="lb"><tspan class="br" x="332.9" y="1918.8">[</tspan><tspan class="dg" x="338.4" y="1917.6" textLength="32.5" lengthAdjust="spacingAndGlyphs">100</tspan><tspan class="br" x="368.7" y="1918.8">]</tspan></text>
<text class="lb"><tspan class="br" x="96.8" y="1963.8">[</tspan><tspan class="dg" x="102.3" y="1962.6" textLength="32.5" lengthAdjust="spacingAndGlyphs">111</tspan><tspan class="br" x="132.5" y="1963.8">]</tspan></text><line x1="103.3" y1="1948.0" x2="111.9" y2="1948.0" class="ob"/><line x1="114.1" y1="1948.0" x2="122.8" y2="1948.0" class="ob"/>
<text class="lb"><tspan class="br" x="186.4" y="1987.0">[</tspan><tspan class="dg" x="191.9" y="1985.8" textLength="32.5" lengthAdjust="spacingAndGlyphs">011</tspan><tspan class="br" x="222.2" y="1987.0">]</tspan></text><line x1="203.8" y1="1971.2" x2="212.4" y2="1971.2" class="ob"/>
<text class="lb"><tspan class="br" x="250.0" y="1974.3">[</tspan><tspan class="dg" x="255.5" y="1973.1" textLength="32.5" lengthAdjust="spacingAndGlyphs">111</tspan><tspan class="br" x="285.7" y="1974.3">]</tspan></text><line x1="267.3" y1="1958.5" x2="276.0" y2="1958.5" class="ob"/>
<text class="lb"><tspan class="br" x="65.6" y="2004.2">[</tspan><tspan class="dg" x="71.1" y="2003.0" textLength="32.5" lengthAdjust="spacingAndGlyphs">110</tspan><tspan class="br" x="101.4" y="2004.2">]</tspan></text><line x1="72.1" y1="1988.4" x2="80.8" y2="1988.4" class="ob"/><line x1="83.0" y1="1988.4" x2="91.6" y2="1988.4" class="ob"/>
<text class="lb"><tspan class="br" x="278.6" y="2005.9">[</tspan><tspan class="dg" x="284.1" y="2004.7" textLength="32.5" lengthAdjust="spacingAndGlyphs">110</tspan><tspan class="br" x="314.4" y="2005.9">]</tspan></text><line x1="296.0" y1="1990.1" x2="304.6" y2="1990.1" class="ob"/>
<text class="lb"><tspan class="br" x="184.7" y="2035.4">[</tspan><tspan class="dg" x="190.2" y="2034.2" textLength="32.5" lengthAdjust="spacingAndGlyphs">010</tspan><tspan class="br" x="220.5" y="2035.4">]</tspan></text><line x1="202.1" y1="2019.6" x2="210.7" y2="2019.6" class="ob"/>
<g clip-path="url(#cp_e2)">
<rect x="456.6" y="1675.8" width="383.6" height="383.6" fill="#b8f5b8"/>
<path d="M477.1,1772.5C484.1,1763.4 516.9,1756.5 535.8,1755.8C554.6,1755.1 581.8,1759.2 590.2,1768.3C598.6,1777.4 595.1,1802.5 586.0,1810.2C576.9,1817.9 551.1,1814.4 535.8,1814.4C520.4,1814.4 503.6,1817.2 493.9,1810.2C484.1,1803.2 470.1,1781.6 477.1,1772.5Z" fill="#f6f5f6" opacity="0.8" filter="url(#b14)"/>
<path d="M556.7,1697.1C565.8,1690.8 593.7,1684.6 602.8,1688.8C611.8,1692.9 615.3,1713.9 611.1,1722.3C606.9,1730.6 588.1,1738.3 577.6,1739.0C567.2,1739.7 551.8,1733.4 548.3,1726.4C544.8,1719.5 547.6,1703.4 556.7,1697.1Z" fill="#f6f5f6" opacity="0.7" filter="url(#b12)"/>
<path d="M694.9,1797.6C703.3,1784.4 707.4,1771.1 720.0,1764.1C732.6,1757.1 754.9,1753.0 770.3,1755.8C785.6,1758.5 799.2,1768.3 812.1,1780.9C825.1,1793.4 842.1,1810.2 848.1,1831.1C854.1,1852.1 851.4,1885.6 848.1,1906.5C844.9,1927.4 837.0,1941.4 828.9,1956.8C820.8,1972.1 810.7,1984.7 799.6,1998.6C788.4,2012.6 775.1,2032.1 761.9,2040.5C748.6,2048.9 732.6,2051.7 720.0,2048.9C707.4,2046.1 696.3,2033.5 686.5,2023.8C676.7,2014.0 669.8,2000.0 661.4,1990.3C653.0,1980.5 643.2,1974.9 636.3,1965.1C629.3,1955.4 622.3,1942.8 619.5,1931.6C616.7,1920.5 616.0,1908.6 619.5,1898.1C623.0,1887.7 632.1,1877.9 640.4,1868.8C648.8,1859.7 660.7,1855.6 669.8,1843.7C678.8,1831.8 686.5,1810.9 694.9,1797.6Z" fill="#80f280" filter="url(#b14)"/>
<path d="M704.1,1798.5C709.5,1790.8 718.8,1781.7 728.4,1777.5C738.0,1773.3 750.7,1771.2 761.9,1773.3C773.0,1775.4 785.6,1783.1 795.4,1790.1C805.2,1797.1 813.9,1804.9 820.5,1815.2C827.1,1825.5 832.7,1839.6 835.2,1852.1C837.6,1864.5 837.6,1877.9 835.2,1889.8C832.7,1901.6 827.1,1912.1 820.5,1923.3C813.9,1934.4 805.2,1948.4 795.4,1956.8C785.6,1965.1 773.0,1972.1 761.9,1973.5C750.7,1974.9 739.5,1969.2 728.4,1965.1C717.2,1961.1 706.0,1953.3 694.9,1949.2C683.7,1945.2 671.0,1945.2 661.4,1940.8C651.7,1936.5 641.8,1930.4 637.1,1923.3C632.3,1916.1 630.1,1906.4 632.9,1898.1C635.7,1889.9 646.3,1882.1 653.8,1873.8C661.4,1865.6 671.2,1857.1 678.1,1848.7C685.1,1840.3 691.4,1832.0 695.7,1823.6C700.0,1815.2 698.6,1806.1 704.1,1798.5Z" fill="#50ee50" filter="url(#b10)"/>
<path d="M711.6,1806.0C717.2,1798.0 727.7,1790.6 736.8,1787.2C745.8,1783.7 756.3,1782.6 766.1,1785.1C775.8,1787.5 787.4,1794.1 795.4,1801.8C803.4,1809.5 810.7,1820.0 814.2,1831.1C817.7,1842.3 818.8,1856.3 816.3,1868.8C813.9,1881.4 805.9,1894.6 799.6,1906.5C793.3,1918.4 786.3,1930.9 778.6,1940.0C771.0,1949.1 762.6,1958.2 753.5,1960.9C744.4,1963.7 734.0,1960.2 724.2,1956.8C714.4,1953.3 704.0,1944.9 694.9,1940.0C685.8,1935.1 676.7,1932.3 669.8,1927.4C662.8,1922.6 654.4,1917.7 653.0,1910.7C651.6,1903.7 655.8,1893.9 661.4,1885.6C667.0,1877.2 679.5,1868.8 686.5,1860.4C693.5,1852.1 699.1,1844.4 703.3,1835.3C707.4,1826.2 706.0,1814.0 711.6,1806.0Z" fill="#20ea20" filter="url(#b10)"/>
<path d="M686.5,1881.4C693.5,1874.4 708.8,1869.5 720.0,1868.8C731.2,1868.1 745.1,1870.9 753.5,1877.2C761.9,1883.5 768.9,1896.7 770.3,1906.5C771.7,1916.3 768.9,1928.8 761.9,1935.8C754.9,1942.8 739.5,1948.4 728.4,1948.4C717.2,1948.4 703.3,1942.1 694.9,1935.8C686.5,1929.5 679.5,1919.8 678.1,1910.7C676.7,1901.6 679.5,1888.4 686.5,1881.4Z" fill="#03ec03" opacity="0.85" filter="url(#b9)"/>
<path d="M728.4,1801.8C735.4,1796.2 758.4,1794.8 770.3,1797.6C782.1,1800.4 794.0,1810.2 799.6,1818.6C805.2,1826.9 806.6,1840.9 803.8,1847.9C801.0,1854.9 791.2,1859.0 782.8,1860.4C774.4,1861.8 762.6,1861.1 753.5,1856.3C744.4,1851.4 732.6,1840.2 728.4,1831.1C724.2,1822.1 721.4,1807.4 728.4,1801.8Z" fill="#03ec03" opacity="0.7" filter="url(#b9)"/>
<path d="M636.3,1709.7C643.2,1703.4 664.9,1697.8 678.1,1697.1C691.4,1696.4 707.4,1699.9 715.8,1705.5C724.2,1711.1 730.5,1722.9 728.4,1730.6C726.3,1738.3 714.4,1748.1 703.3,1751.6C692.1,1755.1 672.5,1754.4 661.4,1751.6C650.2,1748.8 640.4,1741.8 636.3,1734.8C632.1,1727.8 629.3,1716.0 636.3,1709.7Z" fill="#f6f5f6" filter="url(#b9)"/>
<path d="M653.0,1718.9C657.1,1715.6 669.8,1711.2 678.1,1710.5C686.5,1709.8 697.7,1711.9 703.3,1714.7C708.8,1717.5 713.0,1723.2 711.6,1727.3C710.2,1731.3 701.9,1737.0 694.9,1739.0C687.9,1741.0 676.6,1740.4 669.8,1739.0C662.9,1737.6 656.6,1734.0 653.8,1730.6C651.1,1727.3 649.0,1722.3 653.0,1718.9Z" fill="#f6cce7" filter="url(#b7)"/>
<path d="M736.8,1701.3C742.3,1697.1 766.1,1703.4 778.6,1709.7C791.2,1716.0 802.4,1727.1 812.1,1739.0C821.9,1750.9 834.5,1770.4 837.3,1780.9C840.1,1791.3 835.9,1801.1 828.9,1801.8C821.9,1802.5 805.2,1792.0 795.4,1785.1C785.6,1778.1 778.6,1768.3 770.3,1759.9C761.9,1751.6 750.7,1744.6 745.1,1734.8C739.5,1725.0 731.2,1705.5 736.8,1701.3Z" fill="#f6f5f6" filter="url(#b9)"/>
<path d="M746.0,1714.7C747.9,1712.1 762.0,1714.9 770.3,1718.9C778.5,1722.9 787.7,1730.8 795.4,1739.0C803.1,1747.2 812.1,1760.5 816.3,1768.3C820.5,1776.1 822.6,1784.5 820.5,1785.9C818.4,1787.3 810.0,1781.7 803.8,1776.7C797.5,1771.7 790.4,1762.7 782.8,1755.8C775.3,1748.8 764.7,1741.7 758.5,1734.8C752.4,1728.0 744.0,1717.4 746.0,1714.7Z" fill="#f6cce7" opacity="0.9" filter="url(#b7)"/>
<path d="M573.4,1814.4C578.3,1805.3 593.7,1800.4 602.8,1801.8C611.8,1803.2 624.4,1813.0 627.9,1822.8C631.4,1832.5 623.3,1846.5 623.7,1860.4C624.0,1874.4 630.7,1894.6 630.0,1906.5C629.3,1918.4 625.4,1927.4 619.5,1931.6C613.6,1935.8 601.4,1937.2 594.4,1931.6C587.4,1926.0 581.1,1910.7 577.6,1898.1C574.1,1885.6 574.1,1870.2 573.4,1856.3C572.7,1842.3 568.6,1823.5 573.4,1814.4Z" fill="#f6f5f6" filter="url(#b9)"/>
<path d="M590.2,1823.6C593.7,1815.4 602.4,1814.0 606.9,1815.2C611.5,1816.5 616.6,1823.6 617.4,1831.1C618.2,1838.7 612.2,1850.7 612.0,1860.4C611.8,1870.2 615.2,1881.4 616.2,1889.8C617.1,1898.1 620.1,1905.8 617.8,1910.7C615.6,1915.6 607.4,1921.2 602.8,1919.1C598.1,1917.0 593.0,1907.2 590.2,1898.1C587.4,1889.1 586.0,1877.1 586.0,1864.6C586.0,1852.2 586.7,1831.8 590.2,1823.6Z" fill="#f7e4f1" filter="url(#b7)"/>
<path d="M592.3,1873.0C596.0,1868.5 609.0,1867.4 613.2,1873.0C617.4,1878.6 619.2,1899.2 617.4,1906.5C615.7,1913.8 607.2,1918.0 602.8,1917.0C598.4,1915.9 592.8,1907.6 591.0,1900.2C589.3,1892.9 588.6,1877.5 592.3,1873.0Z" fill="#f6cce7" filter="url(#b7)"/>
<path d="M596.5,1889.8C598.2,1885.9 609.9,1886.8 613.2,1889.8C616.5,1892.7 617.9,1903.5 616.2,1907.3C614.4,1911.2 606.0,1915.7 602.8,1912.8C599.5,1909.9 594.7,1893.6 596.5,1889.8Z" fill="#f5b0db" opacity="0.6" filter="url(#b6)"/>
<path d="M447.8,1839.5C452.0,1824.8 468.1,1831.8 477.1,1835.3C486.2,1838.8 498.1,1848.6 502.3,1860.4C506.4,1872.3 505.7,1894.6 502.3,1906.5C498.8,1918.4 489.7,1928.8 481.3,1931.6C472.9,1934.4 457.6,1938.6 452.0,1923.3C446.4,1907.9 443.6,1854.2 447.8,1839.5Z" fill="#f6f5f6" filter="url(#b9)"/>
<path d="M456.2,1856.3C459.7,1847.9 471.4,1849.3 477.1,1852.1C482.8,1854.9 488.6,1864.6 490.5,1873.0C492.5,1881.4 491.8,1896.0 488.9,1902.3C485.9,1908.6 478.4,1910.7 472.9,1910.7C467.5,1910.7 459.0,1911.4 456.2,1902.3C453.4,1893.2 452.7,1864.6 456.2,1856.3Z" fill="#f6cce7" filter="url(#b7)"/>
<path d="M485.5,1948.4C493.2,1940.0 518.3,1938.6 535.8,1940.0C553.2,1941.4 581.1,1945.6 590.2,1956.8C599.3,1967.9 595.8,1994.4 590.2,2007.0C584.6,2019.6 568.6,2030.0 556.7,2032.1C544.8,2034.2 530.2,2026.6 519.0,2019.6C507.8,2012.6 495.3,2002.1 489.7,1990.3C484.1,1978.4 477.8,1956.8 485.5,1948.4Z" fill="#80f280" opacity="0.8" filter="url(#b12)"/>
<path d="M590.2,1981.9C598.6,1974.2 620.2,1972.1 636.3,1973.5C652.3,1974.9 676.7,1980.5 686.5,1990.3C696.3,2000.0 699.1,2021.0 694.9,2032.1C690.7,2043.3 675.3,2054.5 661.4,2057.3C647.4,2060.1 623.7,2055.2 611.1,2048.9C598.6,2042.6 589.5,2030.7 586.0,2019.6C582.5,2008.4 581.8,1989.6 590.2,1981.9Z" fill="#d8f8d8" filter="url(#b12)"/>
<path d="M611.1,2002.8C617.4,1997.9 639.0,1994.4 648.8,1998.6C658.6,2002.8 671.8,2020.3 669.8,2027.9C667.7,2035.6 646.0,2044.7 636.3,2044.7C626.5,2044.7 615.3,2034.9 611.1,2027.9C606.9,2021.0 604.8,2007.7 611.1,2002.8Z" fill="#f6f5f6" opacity="0.7" filter="url(#b10)"/>
<path d="M502.3,1722.3C509.9,1713.9 534.4,1702.7 544.1,1705.5C553.9,1708.3 563.7,1729.2 560.9,1739.0C558.1,1748.8 537.8,1761.3 527.4,1764.1C516.9,1766.9 502.3,1762.7 498.1,1755.8C493.9,1748.8 494.6,1730.6 502.3,1722.3Z" fill="#98f398" filter="url(#b12)"/>
<path d="M703.3,1981.9C710.2,1972.1 739.5,1977.7 753.5,1981.9C767.5,1986.1 787.0,1996.5 787.0,2007.0C787.0,2017.5 766.1,2039.1 753.5,2044.7C740.9,2050.3 720.0,2051.0 711.6,2040.5C703.3,2030.0 696.3,1991.7 703.3,1981.9Z" fill="#80f280" opacity="0.7" filter="url(#b12)"/>
</g>
<text class="lb"><tspan class="br" x="604.7" y="1724.8">[</tspan><tspan class="dg" x="610.2" y="1723.6" textLength="32.5" lengthAdjust="spacingAndGlyphs">010</tspan><tspan class="br" x="640.5" y="1724.8">]</tspan></text>
<text class="lb"><tspan class="br" x="509.2" y="1755.5">[</tspan><tspan class="dg" x="514.7" y="1754.3" textLength="32.5" lengthAdjust="spacingAndGlyphs">110</tspan><tspan class="br" x="544.9" y="1755.5">]</tspan></text><line x1="515.7" y1="1739.7" x2="524.3" y2="1739.7" class="ob"/>
<text class="lb"><tspan class="br" x="616.1" y="1777.4">[</tspan><tspan class="dg" x="621.6" y="1776.2" textLength="32.5" lengthAdjust="spacingAndGlyphs">011</tspan><tspan class="br" x="651.8" y="1777.4">]</tspan></text><line x1="644.3" y1="1761.6" x2="652.9" y2="1761.6" class="ob"/>
<text class="lb"><tspan class="br" x="544.1" y="1791.7">[</tspan><tspan class="dg" x="549.6" y="1790.5" textLength="32.5" lengthAdjust="spacingAndGlyphs">111</tspan><tspan class="br" x="579.9" y="1791.7">]</tspan></text><line x1="550.6" y1="1775.9" x2="559.3" y2="1775.9" class="ob"/><line x1="572.3" y1="1775.9" x2="581.0" y2="1775.9" class="ob"/>
<text class="lb"><tspan class="br" x="691.8" y="1793.0">[</tspan><tspan class="dg" x="697.3" y="1791.8" textLength="32.5" lengthAdjust="spacingAndGlyphs">111</tspan><tspan class="br" x="727.6" y="1793.0">]</tspan></text><line x1="720.0" y1="1777.2" x2="728.7" y2="1777.2" class="ob"/>
<text class="lb"><tspan class="br" x="733.1" y="1773.2">[</tspan><tspan class="dg" x="738.6" y="1772.0" textLength="32.5" lengthAdjust="spacingAndGlyphs">110</tspan><tspan class="br" x="768.8" y="1773.2">]</tspan></text>
<text class="lb"><tspan class="br" x="475.5" y="1863.2">[</tspan><tspan class="dg" x="481.0" y="1862.0" textLength="32.5" lengthAdjust="spacingAndGlyphs">100</tspan><tspan class="br" x="511.3" y="1863.2">]</tspan></text><line x1="482.0" y1="1847.4" x2="490.7" y2="1847.4" class="ob"/>
<text class="lb"><tspan class="br" x="529.4" y="1857.4">[</tspan><tspan class="dg" x="534.9" y="1856.2" textLength="32.5" lengthAdjust="spacingAndGlyphs">101</tspan><tspan class="br" x="565.1" y="1857.4">]</tspan></text><line x1="535.9" y1="1841.6" x2="544.5" y2="1841.6" class="ob"/><line x1="557.6" y1="1841.6" x2="566.2" y2="1841.6" class="ob"/>
<text class="lb"><tspan class="br" x="619.9" y="1868.7">[</tspan><tspan class="dg" x="625.4" y="1867.5" textLength="32.5" lengthAdjust="spacingAndGlyphs">001</tspan><tspan class="br" x="655.6" y="1868.7">]</tspan></text><line x1="648.1" y1="1852.9" x2="656.7" y2="1852.9" class="ob"/>
<text class="lb"><tspan class="br" x="726.8" y="1867.5">[</tspan><tspan class="dg" x="732.3" y="1866.3" textLength="32.5" lengthAdjust="spacingAndGlyphs">101</tspan><tspan class="br" x="762.5" y="1867.5">]</tspan></text><line x1="755.0" y1="1851.7" x2="763.6" y2="1851.7" class="ob"/>
<text class="lb"><tspan class="br" x="787.4" y="1891.0">[</tspan><tspan class="dg" x="792.9" y="1889.8" textLength="32.5" lengthAdjust="spacingAndGlyphs">100</tspan><tspan class="br" x="823.1" y="1891.0">]</tspan></text>
<text class="lb"><tspan class="br" x="546.2" y="1950.8">[</tspan><tspan class="dg" x="551.7" y="1949.6" textLength="32.5" lengthAdjust="spacingAndGlyphs">111</tspan><tspan class="br" x="582.0" y="1950.8">]</tspan></text><line x1="552.7" y1="1935.0" x2="561.4" y2="1935.0" class="ob"/><line x1="563.6" y1="1935.0" x2="572.2" y2="1935.0" class="ob"/><line x1="574.4" y1="1935.0" x2="583.1" y2="1935.0" class="ob"/>
<text class="lb"><tspan class="br" x="624.5" y="1985.3">[</tspan><tspan class="dg" x="630.0" y="1984.1" textLength="32.5" lengthAdjust="spacingAndGlyphs">011</tspan><tspan class="br" x="660.2" y="1985.3">]</tspan></text><line x1="641.8" y1="1969.5" x2="650.5" y2="1969.5" class="ob"/><line x1="652.7" y1="1969.5" x2="661.3" y2="1969.5" class="ob"/>
<text class="lb"><tspan class="br" x="709.1" y="1971.8">[</tspan><tspan class="dg" x="714.6" y="1970.6" textLength="32.5" lengthAdjust="spacingAndGlyphs">111</tspan><tspan class="br" x="744.8" y="1971.8">]</tspan></text><line x1="726.4" y1="1956.0" x2="735.1" y2="1956.0" class="ob"/><line x1="737.3" y1="1956.0" x2="745.9" y2="1956.0" class="ob"/>
<text class="lb"><tspan class="br" x="524.3" y="2004.7">[</tspan><tspan class="dg" x="529.8" y="2003.5" textLength="32.5" lengthAdjust="spacingAndGlyphs">110</tspan><tspan class="br" x="560.1" y="2004.7">]</tspan></text><line x1="530.8" y1="1988.9" x2="539.5" y2="1988.9" class="ob"/><line x1="541.7" y1="1988.9" x2="550.3" y2="1988.9" class="ob"/>
<text class="lb"><tspan class="br" x="745.3" y="2010.5">[</tspan><tspan class="dg" x="750.8" y="2009.3" textLength="32.5" lengthAdjust="spacingAndGlyphs">110</tspan><tspan class="br" x="781.0" y="2010.5">]</tspan></text><line x1="762.6" y1="1994.7" x2="771.3" y2="1994.7" class="ob"/>
<text class="lb"><tspan class="br" x="634.6" y="2043.4">[</tspan><tspan class="dg" x="640.1" y="2042.2" textLength="32.5" lengthAdjust="spacingAndGlyphs">010</tspan><tspan class="br" x="670.3" y="2043.4">]</tspan></text><line x1="651.9" y1="2027.6" x2="660.6" y2="2027.6" class="ob"/>
<g clip-path="url(#cp_f1)">
<rect x="5.5" y="2170.8" width="381.0" height="381.0" fill="#3fa6f9"/>
<path d="M100.5,2166.0C113.1,2160.4 170.3,2160.4 184.3,2166.0C198.2,2171.6 191.2,2193.2 184.3,2199.5C177.3,2205.8 154.9,2203.7 142.4,2203.7C129.8,2203.7 115.9,2205.8 108.9,2199.5C101.9,2193.2 87.9,2171.6 100.5,2166.0Z" fill="#5cb4fa" filter="url(#b10)"/>
<path d="M8.4,2400.5C14.7,2397.7 32.8,2410.3 41.9,2417.3C50.9,2424.2 65.6,2438.2 62.8,2442.4C60.0,2446.6 34.9,2443.8 25.1,2442.4C15.4,2441.0 7.0,2441.0 4.2,2434.0C1.4,2427.0 2.1,2403.3 8.4,2400.5Z" fill="#1c7cf6" opacity="0.6" filter="url(#b8)"/>
<path d="M125.6,2325.1C136.8,2314.7 170.3,2316.8 188.4,2320.9C206.6,2325.1 224.0,2337.0 234.5,2350.3C245.0,2363.5 251.3,2385.2 251.3,2400.5C251.3,2415.9 245.7,2434.7 234.5,2442.4C223.3,2450.1 201.0,2448.0 184.3,2446.6C167.5,2445.2 144.5,2444.5 134.0,2434.0C123.5,2423.5 122.8,2401.9 121.4,2383.8C120.0,2365.6 114.5,2335.6 125.6,2325.1Z" fill="#5cb4fa" opacity="0.5" filter="url(#b12)"/>
<path d="M124.0,2221.7C126.1,2216.3 130.5,2216.5 136.9,2215.0C143.4,2213.5 155.0,2214.6 162.5,2212.9C169.9,2211.2 177.7,2203.4 181.7,2204.5C185.8,2205.6 186.8,2214.3 186.8,2219.6C186.8,2224.9 181.9,2230.3 181.7,2236.4C181.6,2242.4 184.8,2248.8 185.9,2255.6C187.0,2262.4 187.7,2269.9 188.4,2277.0C189.2,2284.1 191.7,2292.3 190.5,2298.3C189.4,2304.4 186.4,2310.5 181.7,2313.4C177.1,2316.3 168.6,2315.6 162.5,2315.9C156.4,2316.3 150.3,2317.0 145.3,2315.5C140.3,2314.0 135.2,2312.1 132.3,2307.1C129.5,2302.2 128.5,2292.5 128.1,2285.8C127.8,2279.0 130.9,2272.9 130.2,2266.5C129.5,2260.1 125.0,2254.7 124.0,2247.2C122.9,2239.8 121.8,2227.1 124.0,2221.7Z" fill="#0034ea" filter="url(#b2)"/>
<path d="M66.2,2341.0C68.7,2335.5 75.2,2333.9 79.1,2333.5C83.1,2333.1 86.1,2338.3 90.0,2338.5C93.9,2338.7 98.8,2333.2 102.6,2334.8C106.4,2336.3 110.8,2342.5 113.1,2347.7C115.4,2353.0 114.6,2359.5 116.4,2366.2C118.2,2372.9 125.9,2383.3 124.0,2387.9C122.0,2392.6 113.3,2393.4 104.7,2394.2C96.0,2395.1 78.9,2397.5 72.0,2393.0C65.2,2388.4 64.6,2375.7 63.7,2367.0C62.7,2358.4 63.6,2346.6 66.2,2341.0Z" fill="#0034ea" filter="url(#b2)"/>
<path d="M255.4,2393.0C260.9,2388.6 273.6,2387.9 284.8,2386.7C295.9,2385.4 314.2,2383.1 322.4,2385.4C330.7,2387.7 332.8,2393.8 334.2,2400.5C335.6,2407.2 333.1,2418.7 330.8,2425.6C328.5,2432.6 327.2,2440.8 320.4,2442.4C313.5,2443.9 299.8,2436.0 289.8,2434.8C279.8,2433.7 266.8,2439.3 260.5,2435.7C254.2,2432.1 252.9,2420.2 252.1,2413.1C251.3,2405.9 250.0,2397.4 255.4,2393.0Z" fill="#0034ea" filter="url(#b2)"/>
<path d="M184.3,2451.6C189.1,2447.2 201.6,2445.3 209.4,2445.3C217.2,2445.3 226.8,2446.5 231.2,2451.6C235.5,2456.7 235.3,2467.6 235.3,2475.9C235.3,2484.1 236.2,2496.0 231.2,2501.0C226.1,2506.0 213.0,2506.6 205.2,2506.0C197.4,2505.5 188.4,2503.4 184.3,2497.7C180.1,2491.9 180.1,2479.4 180.1,2471.7C180.1,2464.0 179.4,2456.0 184.3,2451.6Z" fill="#0034ea" filter="url(#b2)"/>
<path d="M16.8,2438.2C23.0,2434.1 38.4,2439.7 46.1,2443.2C53.7,2446.7 57.9,2452.3 62.8,2459.1C67.7,2466.0 69.8,2476.6 75.4,2484.3C81.0,2491.9 87.9,2499.5 96.3,2505.2C104.7,2510.9 117.6,2514.3 125.6,2518.6C133.7,2522.9 142.0,2525.0 144.5,2531.2C146.9,2537.3 150.4,2553.5 140.3,2555.4C130.2,2557.4 100.9,2551.3 83.8,2542.9C66.7,2534.5 50.3,2517.8 37.7,2505.2C25.1,2492.6 11.9,2478.7 8.4,2467.5C4.9,2456.3 10.5,2442.2 16.8,2438.2Z" fill="#0034ea" filter="url(#b3)"/>
<path d="M25.1,2434.0C29.3,2431.9 46.8,2434.0 54.4,2438.2C62.1,2442.4 71.9,2455.6 71.2,2459.1C70.5,2462.6 57.2,2460.5 50.3,2459.1C43.3,2457.7 33.5,2454.9 29.3,2450.8C25.1,2446.6 20.9,2436.1 25.1,2434.0Z" fill="#1c7cf6" opacity="0.7" filter="url(#b5)"/>
<path d="M268.0,2501.8C275.1,2495.0 284.8,2487.9 293.1,2480.9C301.5,2473.9 309.0,2464.3 318.3,2460.0C327.5,2455.6 340.7,2453.7 348.4,2454.9C356.1,2456.2 365.2,2459.1 364.3,2467.5C363.5,2475.9 353.2,2493.7 343.4,2505.2C333.6,2516.7 318.3,2528.6 305.7,2536.6C293.1,2544.6 277.2,2555.8 268.0,2553.4C258.8,2550.9 250.4,2530.5 250.4,2521.9C250.4,2513.4 260.9,2508.7 268.0,2501.8Z" fill="#0034ea" filter="url(#b3)"/>
<path d="M33.5,2256.0C37.0,2249.4 52.0,2234.4 62.8,2224.6C73.6,2214.9 94.6,2198.1 98.4,2197.4C102.2,2196.7 92.1,2212.4 85.8,2220.4C79.6,2228.5 68.0,2238.2 60.7,2245.6C53.4,2252.9 46.4,2262.7 41.9,2264.4C37.3,2266.2 30.0,2262.7 33.5,2256.0Z" fill="#0034ea" filter="url(#b2)"/>
<path d="M251.3,2526.1C261.0,2524.0 289.6,2537.3 293.1,2542.9C296.6,2548.5 282.0,2557.5 272.2,2559.6C262.4,2561.7 238.0,2561.0 234.5,2555.4C231.0,2549.9 241.5,2528.2 251.3,2526.1Z" fill="#1c7cf6" opacity="0.8" filter="url(#b6)"/>
<path d="M44.8,2268.6C44.8,2265.0 50.4,2262.4 53.6,2260.2C56.8,2258.1 60.9,2259.6 64.1,2255.6C67.2,2251.6 68.9,2242.0 72.4,2236.4C76.0,2230.7 81.8,2224.5 85.4,2221.7C89.1,2218.9 91.0,2221.1 94.2,2219.6C97.4,2218.1 101.1,2213.7 104.7,2212.9C108.2,2212.1 113.1,2212.1 115.6,2215.0C118.1,2217.9 118.7,2224.0 119.8,2230.1C120.8,2236.1 120.5,2245.4 121.9,2251.4C123.3,2257.5 127.1,2260.8 128.1,2266.5C129.2,2272.2 127.4,2279.7 128.1,2285.8C128.8,2291.8 132.0,2297.3 132.3,2302.9C132.7,2308.6 132.0,2315.8 130.2,2319.7C128.5,2323.6 125.1,2327.1 121.9,2326.4C118.6,2325.7 114.5,2320.2 111.0,2315.5C107.4,2310.8 104.1,2302.2 100.5,2298.3C96.9,2294.4 93.5,2292.7 89.6,2292.0C85.7,2291.3 81.3,2292.3 77.1,2294.1C72.8,2296.0 68.7,2300.1 64.1,2302.9C59.4,2305.8 51.2,2312.8 49.0,2311.3C46.8,2309.8 50.3,2299.1 51.1,2294.1C51.9,2289.2 54.6,2285.8 53.6,2281.6C52.6,2277.3 44.8,2272.2 44.8,2268.6Z" fill="#f95c5c" filter="url(#b2)"/>
<path d="M44.0,2266.5C45.0,2263.7 52.0,2258.3 54.4,2259.0C56.9,2259.7 59.7,2267.9 58.6,2270.7C57.6,2273.5 50.6,2276.4 48.2,2275.7C45.7,2275.0 42.9,2269.3 44.0,2266.5Z" fill="#f73030" opacity="0.8" filter="url(#b4)"/>
<path d="M83.8,2222.5C85.4,2220.4 93.2,2217.3 95.5,2218.3C97.7,2219.4 98.8,2226.7 97.2,2228.8C95.5,2230.9 88.1,2232.0 85.8,2230.9C83.6,2229.9 82.1,2224.6 83.8,2222.5Z" fill="#f73030" opacity="0.8" filter="url(#b4)"/>
<path d="M103.9,2212.9C105.3,2210.8 113.3,2211.5 115.6,2214.2C117.8,2216.8 118.7,2226.7 117.3,2228.8C115.8,2230.9 109.0,2229.4 106.8,2226.7C104.6,2224.1 102.4,2215.0 103.9,2212.9Z" fill="#f73030" opacity="0.7" filter="url(#b4)"/>
<path d="M75.4,2262.3C81.0,2256.0 94.2,2248.4 100.5,2249.8C106.8,2251.1 110.6,2263.0 113.1,2270.7C115.5,2278.4 117.3,2292.3 115.2,2295.8C113.1,2299.3 105.7,2293.0 100.5,2291.6C95.3,2290.2 89.3,2288.1 83.8,2287.4C78.2,2286.7 68.4,2291.6 67.0,2287.4C65.6,2283.3 69.8,2268.6 75.4,2262.3Z" fill="#fba4a4" opacity="0.6" filter="url(#b6)"/>
<path d="M67.0,2291.6C70.1,2288.8 83.8,2286.0 90.0,2287.4C96.3,2288.8 100.9,2295.1 104.7,2300.0C108.5,2304.9 114.5,2315.4 113.1,2316.8C111.7,2318.1 103.3,2310.5 96.3,2308.4C89.3,2306.3 76.1,2307.0 71.2,2304.2C66.3,2301.4 63.9,2294.4 67.0,2291.6Z" fill="#fcd0d0" opacity="0.9" filter="url(#b6)"/>
<path d="M79.6,2300.0C83.4,2298.5 95.5,2300.0 100.5,2303.4C105.5,2306.7 109.7,2315.4 109.7,2320.1C109.7,2324.8 104.5,2330.2 100.5,2331.4C96.5,2332.6 89.7,2330.4 85.8,2327.2C82.0,2324.1 78.5,2317.1 77.5,2312.6C76.4,2308.0 75.7,2301.5 79.6,2300.0Z" fill="#f6f2f4" opacity="0.65" filter="url(#b6)"/>
<path d="M62.8,2308.4C66.3,2305.6 77.5,2308.4 83.8,2312.6C90.0,2316.8 100.5,2328.6 100.5,2333.5C100.5,2338.4 90.0,2342.6 83.8,2341.9C77.5,2341.2 66.3,2334.9 62.8,2329.3C59.3,2323.7 59.3,2311.2 62.8,2308.4Z" fill="#8ccbfb" filter="url(#b7)"/>
<path d="M225.3,2175.2C217.8,2179.0 226.2,2183.7 223.2,2188.6C220.2,2193.5 213.0,2200.3 207.3,2204.5C201.6,2208.7 193.0,2208.1 188.9,2213.7C184.7,2219.4 181.4,2230.6 182.2,2238.4C182.9,2246.3 191.2,2253.5 193.5,2261.1C195.8,2268.6 196.7,2278.4 196.0,2283.7C195.2,2289.0 189.6,2287.6 188.9,2292.9C188.1,2298.2 188.3,2310.2 191.4,2315.5C194.4,2320.8 201.6,2320.9 207.3,2324.7C212.9,2328.5 220.4,2333.2 225.3,2338.1C230.2,2343.0 232.8,2348.7 236.6,2354.0C240.4,2359.3 243.9,2365.5 247.9,2369.9C251.9,2374.3 252.8,2377.7 260.5,2380.4C268.1,2383.1 280.0,2385.3 294.0,2386.3C307.9,2387.2 333.8,2389.5 344.2,2386.3C354.7,2383.1 351.9,2374.3 356.8,2367.0C361.7,2359.7 367.4,2349.7 373.5,2342.7C379.7,2335.7 388.9,2340.6 393.6,2325.1C398.4,2309.6 411.8,2274.9 402.0,2249.8C392.2,2224.6 357.3,2188.3 335.0,2174.4C312.7,2160.4 286.3,2165.9 268.0,2166.0C249.7,2166.1 232.8,2171.4 225.3,2175.2Z" fill="#f95c5c" filter="url(#b3)"/>
<path d="M184.3,2224.6C186.0,2218.3 194.0,2210.7 196.8,2212.1C199.6,2213.5 201.0,2224.6 201.0,2233.0C201.0,2241.4 199.3,2259.5 196.8,2262.3C194.4,2265.1 188.4,2256.0 186.3,2249.8C184.3,2243.5 182.5,2230.9 184.3,2224.6Z" fill="#f73030" opacity="0.7" filter="url(#b6)"/>
<path d="M190.5,2291.6C192.3,2288.1 202.1,2290.9 205.2,2295.8C208.3,2300.7 211.1,2317.5 209.4,2320.9C207.6,2324.4 197.9,2321.6 194.7,2316.8C191.6,2311.9 188.8,2295.1 190.5,2291.6Z" fill="#f73030" opacity="0.7" filter="url(#b6)"/>
<path d="M268.0,2375.4C269.4,2370.8 290.3,2364.2 301.5,2362.8C312.7,2361.4 328.0,2362.8 335.0,2367.0C342.0,2371.2 350.4,2384.1 343.4,2387.9C336.4,2391.8 305.7,2392.1 293.1,2390.0C280.6,2387.9 266.6,2379.9 268.0,2375.4Z" fill="#f73030" opacity="0.85" filter="url(#b8)"/>
<path d="M226.1,2174.4C230.0,2170.9 247.8,2168.1 251.3,2170.2C254.7,2172.3 250.9,2183.4 247.1,2186.9C243.2,2190.4 231.7,2193.2 228.2,2191.1C224.7,2189.0 222.3,2177.9 226.1,2174.4Z" fill="#f73030" opacity="0.6" filter="url(#b6)"/>
<path d="M234.5,2182.8C227.2,2186.2 235.2,2190.8 232.4,2195.3C229.6,2199.8 223.0,2205.8 217.8,2210.0C212.5,2214.2 204.8,2215.6 201.0,2220.4C197.2,2225.3 194.0,2232.3 194.7,2239.3C195.4,2246.3 203.0,2254.6 205.2,2262.3C207.4,2270.0 208.5,2279.8 208.1,2285.3C207.8,2290.9 203.6,2291.6 203.1,2295.8C202.6,2300.0 202.7,2306.6 205.2,2310.5C207.6,2314.3 212.9,2315.4 217.8,2318.8C222.6,2322.3 229.6,2326.5 234.5,2331.4C239.4,2336.3 243.2,2342.9 247.1,2348.2C250.9,2353.4 254.0,2359.1 257.5,2362.8C261.0,2366.5 261.7,2368.4 268.0,2370.4C274.3,2372.3 283.4,2374.1 295.2,2374.5C307.1,2375.0 330.1,2376.3 339.2,2373.3C348.3,2370.3 345.5,2362.8 349.7,2356.5C353.9,2350.3 355.6,2344.3 364.3,2335.6C373.0,2326.9 395.7,2322.0 402.0,2304.2C408.3,2286.4 413.2,2249.8 402.0,2228.8C390.8,2207.9 355.9,2187.6 335.0,2178.6C314.1,2169.5 293.1,2173.7 276.4,2174.4C259.6,2175.1 241.8,2179.3 234.5,2182.8Z" fill="#fba4a4" opacity="0.8" filter="url(#b8)"/>
<path d="M293.1,2197.4C284.1,2200.2 285.8,2205.3 280.6,2207.9C275.3,2210.5 270.1,2210.5 261.7,2212.9C253.4,2215.3 238.3,2217.8 230.3,2222.5C222.3,2227.3 217.8,2233.0 213.6,2241.4C209.4,2249.8 205.5,2263.0 205.2,2272.8C204.8,2282.6 208.0,2292.0 211.5,2300.0C215.0,2308.0 219.8,2314.3 226.1,2320.9C232.4,2327.6 240.1,2336.9 249.2,2339.8C258.2,2342.7 270.8,2339.9 280.6,2338.5C290.3,2337.1 298.0,2332.1 307.8,2331.4C317.6,2330.7 329.1,2336.8 339.2,2334.3C349.3,2331.9 358.0,2323.9 368.5,2316.8C379.0,2309.6 396.4,2305.6 402.0,2291.6C407.6,2277.7 413.2,2249.8 402.0,2233.0C390.8,2216.3 353.2,2197.1 335.0,2191.1C316.9,2185.2 302.2,2194.6 293.1,2197.4Z" fill="#f6f2f4" filter="url(#b8)"/>
<path d="M309.9,2212.1C301.5,2215.2 300.1,2223.2 293.1,2226.7C286.2,2230.2 276.7,2230.6 268.0,2233.0C259.3,2235.4 247.2,2237.9 240.8,2241.4C234.4,2244.9 232.3,2248.2 229.5,2253.9C226.7,2259.7 223.9,2269.1 224.0,2275.7C224.2,2282.3 227.3,2288.3 230.3,2293.7C233.3,2299.2 237.2,2303.7 242.0,2308.4C246.9,2313.1 253.1,2320.0 259.6,2321.8C266.2,2323.6 273.6,2320.8 281.4,2319.3C289.2,2317.7 297.6,2313.3 306.5,2312.6C315.5,2311.8 326.1,2317.1 335.0,2314.7C343.9,2312.2 349.0,2304.5 360.1,2297.9C371.3,2291.3 395.0,2284.3 402.0,2274.9C409.0,2265.5 411.8,2252.5 402.0,2241.4C392.2,2230.2 358.7,2212.8 343.4,2207.9C328.0,2203.0 318.3,2208.9 309.9,2212.1Z" fill="#8ccbfb" filter="url(#b9)"/>
<path d="M268.0,2245.6C275.7,2242.1 283.4,2239.3 293.1,2237.2C302.9,2235.1 315.5,2230.9 326.6,2233.0C337.8,2235.1 353.2,2242.8 360.1,2249.8C367.1,2256.7 371.3,2267.2 368.5,2274.9C365.7,2282.6 353.2,2291.6 343.4,2295.8C333.6,2300.0 320.4,2298.3 309.9,2300.0C299.4,2301.7 289.6,2306.3 280.6,2306.3C271.5,2306.3 262.1,2304.5 255.4,2300.0C248.8,2295.5 242.2,2286.0 240.8,2279.1C239.4,2272.1 242.5,2263.7 247.1,2258.1C251.6,2252.5 260.3,2249.1 268.0,2245.6Z" fill="#a8d6fb" opacity="0.7" filter="url(#b10)"/>
<path d="M62.8,2400.5C67.0,2396.7 76.1,2394.6 83.8,2394.2C91.4,2393.9 101.9,2396.7 108.9,2398.4C115.9,2400.2 120.7,2401.6 125.6,2404.7C130.5,2407.8 134.0,2412.4 138.2,2417.3C142.4,2422.1 145.9,2428.4 150.8,2434.0C155.6,2439.6 163.0,2446.4 167.5,2450.8C172.0,2455.1 177.3,2455.8 178.0,2460.0C178.7,2464.2 173.8,2470.8 171.7,2475.9C169.6,2481.0 170.3,2484.1 165.4,2490.5C160.5,2497.0 149.0,2512.7 142.4,2514.4C135.7,2516.2 130.5,2503.9 125.6,2501.0C120.7,2498.1 117.3,2499.6 113.1,2496.8C108.9,2494.0 106.1,2489.1 100.5,2484.3C94.9,2479.4 84.8,2473.1 79.6,2467.5C74.3,2461.9 72.6,2454.6 69.1,2450.8C65.6,2446.9 59.0,2447.3 58.6,2444.5C58.3,2441.7 67.0,2438.5 67.0,2434.0C67.0,2429.5 59.3,2422.8 58.6,2417.3C57.9,2411.7 58.6,2404.3 62.8,2400.5Z" fill="#f95c5c" filter="url(#b2)"/>
<path d="M62.8,2434.0C66.3,2435.4 76.1,2450.8 83.8,2459.1C91.4,2467.5 99.8,2475.5 108.9,2484.3C118.0,2493.0 135.4,2508.7 138.2,2511.5C141.0,2514.3 131.9,2504.8 125.6,2501.0C119.3,2497.2 108.5,2493.7 100.5,2488.4C92.5,2483.2 83.8,2475.9 77.5,2469.6C71.2,2463.3 65.3,2456.7 62.8,2450.8C60.4,2444.8 59.3,2432.6 62.8,2434.0Z" fill="#f73030" opacity="0.7" filter="url(#b6)"/>
<path d="M77.5,2411.0C82.0,2406.1 99.5,2405.7 108.9,2408.9C118.3,2412.0 127.7,2422.8 134.0,2429.8C140.3,2436.8 148.0,2444.5 146.6,2450.8C145.2,2457.0 133.3,2466.1 125.6,2467.5C118.0,2468.9 107.8,2464.0 100.5,2459.1C93.2,2454.2 85.5,2446.2 81.7,2438.2C77.8,2430.2 72.9,2415.9 77.5,2411.0Z" fill="#fba4a4" opacity="0.8" filter="url(#b6)"/>
<path d="M81.7,2413.1C86.5,2410.3 105.7,2410.3 113.1,2413.1C120.4,2415.9 127.7,2425.6 125.6,2429.8C123.5,2434.0 107.5,2438.2 100.5,2438.2C93.5,2438.2 86.9,2434.0 83.8,2429.8C80.6,2425.6 76.8,2415.9 81.7,2413.1Z" fill="#fcd0d0" opacity="0.8" filter="url(#b6)"/>
<path d="M119.3,2471.7C120.7,2465.4 128.1,2460.2 134.0,2457.0C139.9,2453.9 148.0,2452.5 154.9,2452.9C161.9,2453.2 171.0,2454.9 175.9,2459.1C180.8,2463.3 184.3,2471.7 184.3,2478.0C184.3,2484.3 179.4,2491.9 175.9,2496.8C172.4,2501.7 168.9,2505.8 163.3,2507.3C157.7,2508.8 148.7,2508.1 142.4,2506.0C136.1,2503.9 129.5,2500.5 125.6,2494.7C121.8,2489.0 118.0,2478.0 119.3,2471.7Z" fill="#f6f2f4" filter="url(#b5)"/>
<path d="M129.8,2478.0C131.9,2473.4 138.5,2466.5 144.5,2464.2C150.4,2461.9 159.8,2461.6 165.4,2464.2C171.0,2466.7 176.9,2473.8 178.0,2479.2C179.0,2484.7 174.8,2492.4 171.7,2496.8C168.6,2501.3 163.7,2505.3 159.1,2506.0C154.6,2506.7 149.0,2503.4 144.5,2501.0C139.9,2498.6 134.4,2495.6 131.9,2491.8C129.5,2488.0 127.7,2482.6 129.8,2478.0Z" fill="#8ccbfb" filter="url(#b5)"/>
<path d="M140.3,2480.1C143.8,2476.6 156.0,2472.7 161.2,2473.8C166.5,2474.8 171.0,2481.8 171.7,2486.4C172.4,2490.9 167.2,2496.5 165.4,2501.0C163.7,2505.5 164.4,2512.9 161.2,2513.6C158.1,2514.3 150.1,2508.3 146.6,2505.2C143.1,2502.1 141.3,2498.9 140.3,2494.7C139.2,2490.5 136.8,2483.6 140.3,2480.1Z" fill="#5cb4fa" filter="url(#b6)"/>
<path d="M240.8,2440.3C243.2,2436.4 246.7,2433.0 251.3,2431.9C255.8,2430.9 262.4,2433.0 268.0,2434.0C273.6,2435.1 279.2,2436.4 284.8,2438.2C290.3,2439.9 295.9,2444.5 301.5,2444.5C307.1,2444.5 313.7,2437.1 318.3,2438.2C322.8,2439.2 330.1,2445.9 328.7,2450.8C327.3,2455.6 315.8,2463.0 309.9,2467.5C304.0,2472.0 298.0,2474.5 293.1,2478.0C288.2,2481.5 286.2,2485.3 280.6,2488.4C275.0,2491.6 266.3,2495.8 259.6,2496.8C253.0,2497.9 245.0,2498.2 240.8,2494.7C236.6,2491.2 235.2,2482.5 234.5,2475.9C233.8,2469.3 235.6,2460.9 236.6,2454.9C237.6,2449.0 238.3,2444.1 240.8,2440.3Z" fill="#f95c5c" filter="url(#b2)"/>
<path d="M246.2,2460.0C251.1,2456.1 265.1,2453.7 272.2,2454.9C279.3,2456.2 288.9,2462.6 288.9,2467.5C288.9,2472.4 278.5,2480.4 272.2,2484.3C265.9,2488.1 256.1,2491.6 251.3,2490.5C246.4,2489.5 243.7,2483.1 242.9,2478.0C242.0,2472.9 241.3,2463.8 246.2,2460.0Z" fill="#f6f2f4" filter="url(#b5)"/>
<path d="M268.0,2444.5C272.9,2443.1 297.3,2448.9 301.5,2452.9C305.7,2456.8 298.0,2466.9 293.1,2468.3C288.2,2469.7 276.4,2465.2 272.2,2461.2C268.0,2457.2 263.1,2445.9 268.0,2444.5Z" fill="#fba4a4" opacity="0.7" filter="url(#b5)"/>
<path d="M368.5,2346.1C374.1,2336.3 389.4,2327.2 393.6,2341.9C397.8,2356.5 397.1,2418.0 393.6,2434.0C390.1,2450.1 378.3,2443.8 372.7,2438.2C367.1,2432.6 360.8,2415.9 360.1,2400.5C359.4,2385.2 362.9,2355.8 368.5,2346.1Z" fill="#5cb4fa" opacity="0.7" filter="url(#b10)"/>
<path d="M150.8,2513.6C156.3,2505.9 175.9,2508.7 192.6,2509.4C209.4,2510.1 244.3,2510.1 251.3,2517.8C258.2,2525.4 249.9,2549.2 234.5,2555.4C219.2,2561.7 173.1,2562.4 159.1,2555.4C145.2,2548.5 145.2,2521.2 150.8,2513.6Z" fill="#5cb4fa" opacity="0.7" filter="url(#b10)"/>
</g>
<text class="lb"><tspan class="br" x="132.4" y="2202.8">[</tspan><tspan class="dg" x="137.9" y="2201.6" textLength="32.5" lengthAdjust="spacingAndGlyphs">010</tspan><tspan class="br" x="168.2" y="2202.8">]</tspan></text>
<text class="lb"><tspan class="br" x="40.2" y="2242.9">[</tspan><tspan class="dg" x="45.7" y="2241.7" textLength="32.5" lengthAdjust="spacingAndGlyphs">110</tspan><tspan class="br" x="75.9" y="2242.9">]</tspan></text><line x1="46.7" y1="2227.1" x2="55.3" y2="2227.1" class="ob"/>
<text class="lb"><tspan class="br" x="134.5" y="2268.8">[</tspan><tspan class="dg" x="140.0" y="2267.6" textLength="32.5" lengthAdjust="spacingAndGlyphs">011</tspan><tspan class="br" x="170.3" y="2268.8">]</tspan></text>
<text class="lb"><tspan class="br" x="68.1" y="2288.0">[</tspan><tspan class="dg" x="73.6" y="2286.8" textLength="32.5" lengthAdjust="spacingAndGlyphs">111</tspan><tspan class="br" x="103.9" y="2288.0">]</tspan></text><line x1="74.6" y1="2272.2" x2="83.3" y2="2272.2" class="ob"/>
<text class="lb"><tspan class="br" x="244.8" y="2309.7">[</tspan><tspan class="dg" x="250.3" y="2308.5" textLength="32.5" lengthAdjust="spacingAndGlyphs">111</tspan><tspan class="br" x="280.5" y="2309.7">]</tspan></text>
<text class="lb"><tspan class="br" x="17.6" y="2366.5">[</tspan><tspan class="dg" x="23.1" y="2365.3" textLength="32.5" lengthAdjust="spacingAndGlyphs">100</tspan><tspan class="br" x="53.4" y="2366.5">]</tspan></text><line x1="24.1" y1="2350.7" x2="32.8" y2="2350.7" class="ob"/>
<text class="lb"><tspan class="br" x="68.1" y="2371.5">[</tspan><tspan class="dg" x="73.6" y="2370.3" textLength="32.5" lengthAdjust="spacingAndGlyphs">101</tspan><tspan class="br" x="103.9" y="2371.5">]</tspan></text><line x1="74.6" y1="2355.7" x2="83.3" y2="2355.7" class="ob"/>
<text class="lb"><tspan class="br" x="161.7" y="2392.4">[</tspan><tspan class="dg" x="167.2" y="2391.2" textLength="32.5" lengthAdjust="spacingAndGlyphs">001</tspan><tspan class="br" x="197.4" y="2392.4">]</tspan></text>
<text class="lb"><tspan class="br" x="273.6" y="2415.7">[</tspan><tspan class="dg" x="279.1" y="2414.5" textLength="32.5" lengthAdjust="spacingAndGlyphs">101</tspan><tspan class="br" x="309.3" y="2415.7">]</tspan></text>
<text class="lb"><tspan class="br" x="332.0" y="2412.8">[</tspan><tspan class="dg" x="337.5" y="2411.6" textLength="32.5" lengthAdjust="spacingAndGlyphs">100</tspan><tspan class="br" x="367.8" y="2412.8">]</tspan></text>
<text class="lb"><tspan class="br" x="97.8" y="2457.5">[</tspan><tspan class="dg" x="103.3" y="2456.3" textLength="32.5" lengthAdjust="spacingAndGlyphs">111</tspan><tspan class="br" x="133.5" y="2457.5">]</tspan></text><line x1="104.3" y1="2441.7" x2="112.9" y2="2441.7" class="ob"/><line x1="115.1" y1="2441.7" x2="123.8" y2="2441.7" class="ob"/>
<text class="lb"><tspan class="br" x="186.7" y="2480.5">[</tspan><tspan class="dg" x="192.2" y="2479.3" textLength="32.5" lengthAdjust="spacingAndGlyphs">011</tspan><tspan class="br" x="222.5" y="2480.5">]</tspan></text><line x1="204.1" y1="2464.7" x2="212.7" y2="2464.7" class="ob"/>
<text class="lb"><tspan class="br" x="249.8" y="2467.9">[</tspan><tspan class="dg" x="255.3" y="2466.7" textLength="32.5" lengthAdjust="spacingAndGlyphs">111</tspan><tspan class="br" x="285.5" y="2467.9">]</tspan></text><line x1="267.1" y1="2452.1" x2="275.8" y2="2452.1" class="ob"/>
<text class="lb"><tspan class="br" x="66.9" y="2497.6">[</tspan><tspan class="dg" x="72.4" y="2496.4" textLength="32.5" lengthAdjust="spacingAndGlyphs">110</tspan><tspan class="br" x="102.6" y="2497.6">]</tspan></text><line x1="73.4" y1="2481.8" x2="82.0" y2="2481.8" class="ob"/><line x1="84.2" y1="2481.8" x2="92.9" y2="2481.8" class="ob"/>
<text class="lb"><tspan class="br" x="278.2" y="2499.2">[</tspan><tspan class="dg" x="283.7" y="2498.0" textLength="32.5" lengthAdjust="spacingAndGlyphs">110</tspan><tspan class="br" x="313.9" y="2499.2">]</tspan></text><line x1="295.5" y1="2483.4" x2="304.2" y2="2483.4" class="ob"/>
<text class="lb"><tspan class="br" x="185.1" y="2528.5">[</tspan><tspan class="dg" x="190.6" y="2527.3" textLength="32.5" lengthAdjust="spacingAndGlyphs">010</tspan><tspan class="br" x="220.8" y="2528.5">]</tspan></text><line x1="202.4" y1="2512.7" x2="211.1" y2="2512.7" class="ob"/>
<g clip-path="url(#cp_f2)">
<rect x="454.3" y="2171.2" width="380.6" height="380.6" fill="#3fa6f9"/>
<path d="M556.7,2182.8C567.9,2170.9 623.0,2164.6 644.6,2166.0C666.3,2167.4 680.9,2180.7 686.5,2191.1C692.1,2201.6 687.9,2221.8 678.1,2228.8C668.4,2235.8 644.6,2231.6 627.9,2233.0C611.1,2234.4 589.5,2245.6 577.6,2237.2C565.8,2228.8 545.5,2194.6 556.7,2182.8Z" fill="#5cb4fa" opacity="0.6" filter="url(#b10)"/>
<path d="M452.0,2291.6C459.0,2267.9 491.8,2281.9 502.3,2291.6C512.7,2301.4 514.1,2329.3 514.8,2350.3C515.5,2371.2 515.5,2403.3 506.4,2417.3C497.4,2431.2 469.4,2454.9 460.4,2434.0C451.3,2413.1 445.0,2315.4 452.0,2291.6Z" fill="#5cb4fa" opacity="0.5" filter="url(#b10)"/>
<path d="M590.2,2250.6C594.2,2242.9 607.6,2239.8 619.5,2238.0C631.4,2236.3 651.5,2237.3 661.4,2240.1C671.3,2242.9 676.0,2247.6 679.0,2254.8C681.9,2262.0 683.2,2277.0 679.0,2283.3C674.8,2289.5 663.8,2290.9 653.8,2292.5C643.9,2294.0 629.3,2293.9 619.5,2292.5C609.7,2291.1 600.1,2291.1 595.2,2284.1C590.3,2277.1 586.1,2258.3 590.2,2250.6Z" fill="#0034ea" filter="url(#b2)"/>
<path d="M523.2,2317.6C528.3,2310.8 539.8,2309.2 548.3,2309.2C556.8,2309.2 569.3,2311.4 574.3,2317.6C579.3,2323.7 578.5,2336.4 578.5,2346.1C578.5,2355.7 579.3,2369.0 574.3,2375.4C569.3,2381.8 556.7,2383.8 548.3,2384.6C539.9,2385.4 529.1,2386.1 524.0,2380.4C518.9,2374.7 517.9,2360.7 517.7,2350.3C517.6,2339.8 518.1,2324.4 523.2,2317.6Z" fill="#0034ea" filter="url(#b2)"/>
<path d="M686.5,2225.5C687.1,2219.9 694.9,2215.7 703.3,2212.9C711.6,2210.1 726.8,2206.8 736.8,2208.7C746.7,2210.7 755.6,2217.8 762.7,2224.6C769.8,2231.5 773.2,2242.1 779.5,2249.8C785.8,2257.4 795.5,2262.3 800.4,2270.7C805.3,2279.1 809.5,2292.2 808.8,2300.0C808.1,2307.8 800.4,2311.9 796.2,2317.6C792.0,2323.3 785.8,2326.1 783.7,2334.3C781.6,2342.6 784.4,2356.0 783.7,2367.0C783.0,2378.0 784.4,2392.7 779.5,2400.5C774.6,2408.3 763.4,2413.1 754.3,2413.9C745.3,2414.7 733.4,2410.4 725.0,2405.5C716.7,2400.6 708.3,2393.8 704.1,2384.6C699.9,2375.4 699.9,2360.0 699.9,2350.3C699.9,2340.5 700.6,2333.5 704.1,2326.0C707.6,2318.4 714.6,2309.9 720.8,2305.0C727.1,2300.1 739.0,2301.5 741.8,2296.7C744.6,2291.8 741.1,2282.0 737.6,2275.7C734.1,2269.4 727.1,2263.9 720.8,2259.0C714.6,2254.1 705.6,2252.0 699.9,2246.4C694.2,2240.8 685.9,2231.0 686.5,2225.5Z" fill="#0034ea" filter="url(#b2)"/>
<path d="M611.1,2434.8C615.9,2428.6 626.3,2427.2 636.3,2426.5C646.2,2425.8 663.5,2425.2 670.6,2430.7C677.7,2436.1 678.3,2448.8 679.0,2459.1C679.7,2469.5 673.4,2483.6 674.8,2492.6C676.2,2501.7 689.4,2508.5 687.3,2513.6C685.2,2518.6 672.0,2521.9 662.2,2522.8C652.4,2523.6 637.1,2522.8 628.7,2518.6C620.3,2514.4 615.5,2506.7 612.0,2497.7C608.5,2488.6 607.9,2474.6 607.8,2464.2C607.6,2453.7 606.4,2441.1 611.1,2434.8Z" fill="#0034ea" filter="url(#b2)"/>
<path d="M481.3,2268.6C482.7,2264.7 495.2,2253.7 501.0,2247.2C506.8,2240.8 509.3,2237.2 516.1,2230.1C522.8,2223.0 535.5,2208.1 541.6,2204.5C547.7,2201.0 549.6,2205.5 552.5,2208.7C555.4,2211.9 558.1,2219.5 558.8,2223.8C559.5,2228.0 558.1,2229.7 556.7,2234.3C555.3,2238.9 552.6,2247.9 550.4,2251.4C548.2,2255.0 546.6,2253.8 543.7,2255.6C540.8,2257.4 536.5,2258.0 533.2,2262.3C530.0,2266.6 527.7,2277.7 524.4,2281.6C521.2,2285.5 517.5,2287.2 514.0,2285.8C510.4,2284.3 506.6,2275.3 503.1,2272.8C499.5,2270.3 496.2,2271.4 492.6,2270.7C489.0,2270.0 479.9,2272.5 481.3,2268.6Z" fill="#0034ea" filter="url(#b2)"/>
<path d="M477.1,2438.2C482.0,2434.0 495.8,2431.2 502.3,2434.0C508.7,2436.8 509.9,2448.0 515.7,2454.9C521.4,2461.9 528.9,2468.9 536.6,2475.9C544.3,2482.9 552.6,2490.5 561.7,2496.8C570.8,2503.1 584.0,2507.3 591.0,2513.6C598.0,2519.9 605.1,2527.5 603.6,2534.5C602.1,2541.5 593.8,2556.8 581.8,2555.4C569.8,2554.1 546.2,2537.3 531.6,2526.1C516.9,2515.0 503.6,2499.6 493.9,2488.4C484.1,2477.3 475.7,2467.5 472.9,2459.1C470.1,2450.8 472.2,2442.4 477.1,2438.2Z" fill="#0034ea" filter="url(#b4)"/>
<path d="M711.6,2535.3C715.1,2529.6 733.8,2529.1 745.1,2522.8C756.4,2516.5 770.3,2506.7 779.5,2497.7C788.7,2488.6 794.8,2478.3 800.4,2468.3C806.0,2458.4 808.2,2439.7 813.0,2438.2C817.7,2436.7 830.4,2448.7 828.9,2459.1C827.3,2469.6 814.9,2488.1 803.8,2501.0C792.6,2513.9 775.1,2527.2 761.9,2536.6C748.6,2546.0 732.6,2557.8 724.2,2557.5C715.8,2557.3 708.1,2541.1 711.6,2535.3Z" fill="#0034ea" filter="url(#b4)"/>
<path d="M636.3,2371.2C641.1,2368.4 657.2,2370.5 669.8,2375.4C682.3,2380.3 699.1,2392.1 711.6,2400.5C724.2,2408.9 743.7,2420.0 745.1,2425.6C746.5,2431.2 731.2,2436.1 720.0,2434.0C708.8,2431.9 691.4,2420.0 678.1,2413.1C664.9,2406.1 647.4,2399.1 640.4,2392.1C633.5,2385.2 631.4,2374.0 636.3,2371.2Z" fill="#8ccbfb" opacity="0.6" filter="url(#b10)"/>
<path d="M527.4,2288.3C526.7,2281.3 534.4,2270.3 540.8,2263.2C547.2,2256.0 558.9,2247.0 565.9,2245.6C572.9,2244.2 578.5,2249.8 582.7,2254.8C586.8,2259.8 588.9,2269.4 591.0,2275.7C593.1,2282.0 598.0,2286.9 595.2,2292.5C592.4,2298.0 582.7,2307.1 574.3,2309.2C565.9,2311.3 552.8,2308.5 545.0,2305.0C537.1,2301.5 528.1,2295.3 527.4,2288.3Z" fill="#f95c5c" filter="url(#b3)"/>
<path d="M542.0,2279.1C542.7,2273.1 554.9,2265.1 560.9,2264.4C566.8,2263.7 574.8,2269.6 577.6,2274.9C580.4,2280.1 581.1,2291.6 577.6,2295.8C574.1,2300.0 562.6,2302.8 556.7,2300.0C550.8,2297.2 541.3,2285.0 542.0,2279.1Z" fill="#fcd0d0" opacity="0.9" filter="url(#b5)"/>
<path d="M679.0,2250.6C680.4,2243.6 685.9,2240.8 691.5,2242.2C697.1,2243.6 707.6,2252.7 712.5,2259.0C717.4,2265.2 721.5,2272.9 720.8,2279.9C720.1,2286.9 713.2,2296.7 708.3,2300.8C703.4,2305.0 695.7,2307.8 691.5,2305.0C687.3,2302.2 685.2,2293.2 683.2,2284.1C681.1,2275.0 677.6,2257.6 679.0,2250.6Z" fill="#f73030" filter="url(#b3)"/>
<path d="M694.9,2266.5C697.3,2263.0 707.4,2266.5 709.5,2270.7C711.6,2274.9 709.9,2288.1 707.4,2291.6C705.0,2295.1 697.0,2295.8 694.9,2291.6C692.8,2287.4 692.4,2270.0 694.9,2266.5Z" fill="#fba4a4" opacity="0.7" filter="url(#b4)"/>
<path d="M686.5,2176.5C688.6,2174.8 702.6,2182.1 711.6,2186.1C720.7,2190.1 738.5,2196.4 740.9,2200.3C743.4,2204.2 733.3,2210.2 726.3,2209.6C719.3,2208.9 705.7,2201.7 699.1,2196.2C692.4,2190.6 684.4,2178.1 686.5,2176.5Z" fill="#f73030" filter="url(#b3)"/>
<path d="M720.0,2203.7C720.0,2201.6 738.2,2204.4 745.1,2207.9C752.1,2211.4 761.9,2222.5 761.9,2224.6C761.9,2226.7 752.1,2223.9 745.1,2220.4C738.2,2216.9 720.0,2205.8 720.0,2203.7Z" fill="#fba4a4" opacity="0.8" filter="url(#b4)"/>
<path d="M801.7,2284.1C803.1,2281.6 812.8,2284.1 816.3,2287.4C819.8,2290.8 824.0,2301.7 822.6,2304.2C821.2,2306.6 811.4,2305.4 807.9,2302.1C804.5,2298.7 800.3,2286.5 801.7,2284.1Z" fill="#f95c5c" filter="url(#b3)"/>
<path d="M506.4,2426.5C507.1,2420.9 511.3,2414.5 514.8,2408.9C518.3,2403.3 523.2,2397.3 527.4,2393.0C531.6,2388.6 535.1,2384.8 539.9,2382.9C544.8,2381.0 551.0,2379.8 556.7,2381.7C562.4,2383.5 569.0,2389.5 574.3,2394.2C579.5,2398.9 583.4,2405.0 588.1,2409.7C592.8,2414.4 598.6,2417.9 602.8,2422.3C606.9,2426.7 612.0,2430.0 613.2,2436.1C614.4,2442.2 609.7,2452.4 609.9,2459.1C610.0,2465.9 614.4,2469.7 614.1,2476.7C613.7,2483.7 608.6,2494.3 607.8,2501.0C606.9,2507.7 610.6,2514.8 609.0,2516.9C607.5,2519.0 603.8,2516.9 598.6,2513.6C593.3,2510.2 584.6,2501.7 577.6,2496.8C570.6,2491.9 563.0,2488.4 556.7,2484.3C550.4,2480.1 545.5,2476.6 539.9,2471.7C534.4,2466.8 528.1,2459.8 523.2,2454.9C518.3,2450.1 513.4,2447.1 510.6,2442.4C507.8,2437.6 505.7,2432.1 506.4,2426.5Z" fill="#f95c5c" filter="url(#b2)"/>
<path d="M594.4,2417.3C596.5,2413.1 610.4,2427.0 613.2,2434.0C616.0,2441.0 610.9,2451.8 611.1,2459.1C611.3,2466.5 614.8,2468.9 614.5,2478.0C614.1,2487.0 611.3,2511.1 609.0,2513.6C606.7,2516.0 602.1,2501.7 600.7,2492.6C599.3,2483.6 601.7,2471.7 600.7,2459.1C599.6,2446.6 592.3,2421.4 594.4,2417.3Z" fill="#f73030" opacity="0.6" filter="url(#b5)"/>
<path d="M506.4,2425.6C506.8,2420.7 513.8,2410.3 516.9,2408.9C520.0,2407.5 525.6,2412.4 525.3,2417.3C524.9,2422.1 518.0,2436.8 514.8,2438.2C511.7,2439.6 506.1,2430.5 506.4,2425.6Z" fill="#f73030" opacity="0.5" filter="url(#b5)"/>
<path d="M531.6,2425.6C534.0,2419.4 548.3,2410.3 556.7,2413.1C565.1,2415.9 576.9,2432.6 581.8,2442.4C586.7,2452.2 588.8,2467.5 586.0,2471.7C583.2,2475.9 572.4,2471.0 565.1,2467.5C557.7,2464.0 547.6,2457.7 542.0,2450.8C536.5,2443.8 529.1,2431.9 531.6,2425.6Z" fill="#fba4a4" opacity="0.75" filter="url(#b8)"/>
<path d="M678.1,2455.8C681.5,2450.9 692.1,2450.2 703.3,2447.4C714.4,2444.6 733.8,2443.4 745.1,2439.0C756.4,2434.7 764.0,2422.3 771.1,2421.4C778.2,2420.6 785.1,2427.6 787.8,2434.0C790.6,2440.4 790.6,2451.5 787.8,2460.0C785.1,2468.5 778.1,2477.4 771.1,2485.1C764.1,2492.8 754.3,2499.8 746.0,2506.0C737.6,2512.3 729.2,2520.0 720.8,2522.8C712.5,2525.6 702.7,2526.3 695.7,2522.8C688.7,2519.3 681.1,2509.5 679.0,2501.8C676.9,2494.2 683.3,2484.4 683.2,2476.7C683.0,2469.0 674.8,2460.7 678.1,2455.8Z" fill="#f95c5c" filter="url(#b4)"/>
<path d="M694.9,2463.3C701.9,2454.9 723.5,2454.9 736.8,2450.8C750.0,2446.6 767.5,2436.8 774.4,2438.2C781.4,2439.6 782.1,2450.8 778.6,2459.1C775.1,2467.5 763.3,2480.1 753.5,2488.4C743.7,2496.8 729.8,2507.3 720.0,2509.4C710.2,2511.5 699.1,2508.7 694.9,2501.0C690.7,2493.3 687.9,2471.7 694.9,2463.3Z" fill="#fba4a4" opacity="0.9" filter="url(#b8)"/>
<path d="M703.3,2459.1C709.5,2454.2 735.4,2453.5 745.1,2454.9C754.9,2456.3 763.3,2461.9 761.9,2467.5C760.5,2473.1 745.8,2485.7 736.8,2488.4C727.7,2491.2 713.0,2489.1 707.4,2484.3C701.9,2479.4 697.0,2464.0 703.3,2459.1Z" fill="#fcd0d0" opacity="0.8" filter="url(#b8)"/>
<path d="M686.5,2496.8C690.3,2498.9 697.7,2513.6 703.3,2517.8C708.8,2521.9 720.7,2520.6 720.0,2521.9C719.3,2523.3 705.7,2528.9 699.1,2526.1C692.4,2523.3 682.3,2510.1 680.2,2505.2C678.1,2500.3 682.7,2494.7 686.5,2496.8Z" fill="#f73030" opacity="0.8" filter="url(#b4)"/>
<path d="M787.0,2325.1C790.5,2313.4 800.6,2312.0 807.9,2313.4C815.3,2314.8 827.1,2321.8 831.0,2333.5C834.8,2345.2 834.8,2372.6 831.0,2383.8C827.1,2394.9 815.3,2400.5 807.9,2400.5C800.6,2400.5 790.5,2396.3 787.0,2383.8C783.5,2371.2 783.5,2336.9 787.0,2325.1Z" fill="#8ccbfb" filter="url(#b8)"/>
<path d="M787.0,2333.5C788.4,2324.4 797.1,2324.4 799.6,2329.3C802.0,2334.2 803.1,2353.7 801.7,2362.8C800.3,2371.9 793.6,2388.6 791.2,2383.8C788.8,2378.9 785.6,2342.6 787.0,2333.5Z" fill="#f6f2f4" opacity="0.55" filter="url(#b6)"/>
<path d="M636.3,2362.8C643.9,2355.1 675.3,2356.5 686.5,2362.8C697.7,2369.1 704.7,2390.0 703.3,2400.5C701.9,2411.0 688.6,2424.2 678.1,2425.6C667.7,2427.0 647.4,2419.4 640.4,2408.9C633.5,2398.4 628.6,2370.5 636.3,2362.8Z" fill="#5cb4fa" opacity="0.8" filter="url(#b12)"/>
<path d="M611.1,2521.9C620.9,2517.1 654.4,2522.6 669.8,2526.1C685.1,2529.6 703.3,2538.0 703.3,2542.9C703.3,2547.8 685.1,2553.4 669.8,2555.4C654.4,2557.5 620.9,2561.0 611.1,2555.4C601.4,2549.9 601.4,2526.8 611.1,2521.9Z" fill="#5cb4fa" opacity="0.6" filter="url(#b10)"/>
</g>
<text class="lb"><tspan class="br" x="601.1" y="2220.4">[</tspan><tspan class="dg" x="606.6" y="2219.2" textLength="32.5" lengthAdjust="spacingAndGlyphs">010</tspan><tspan class="br" x="636.8" y="2220.4">]</tspan></text>
<text class="lb"><tspan class="br" x="506.3" y="2250.8">[</tspan><tspan class="dg" x="511.8" y="2249.6" textLength="32.5" lengthAdjust="spacingAndGlyphs">110</tspan><tspan class="br" x="542.1" y="2250.8">]</tspan></text><line x1="512.8" y1="2235.0" x2="521.5" y2="2235.0" class="ob"/>
<text class="lb"><tspan class="br" x="612.4" y="2272.6">[</tspan><tspan class="dg" x="617.9" y="2271.4" textLength="32.5" lengthAdjust="spacingAndGlyphs">011</tspan><tspan class="br" x="648.1" y="2272.6">]</tspan></text><line x1="640.6" y1="2256.8" x2="649.2" y2="2256.8" class="ob"/>
<text class="lb"><tspan class="br" x="541.0" y="2286.8">[</tspan><tspan class="dg" x="546.5" y="2285.6" textLength="32.5" lengthAdjust="spacingAndGlyphs">111</tspan><tspan class="br" x="576.7" y="2286.8">]</tspan></text><line x1="547.5" y1="2271.0" x2="556.1" y2="2271.0" class="ob"/><line x1="569.2" y1="2271.0" x2="577.8" y2="2271.0" class="ob"/>
<text class="lb"><tspan class="br" x="687.5" y="2288.0">[</tspan><tspan class="dg" x="693.0" y="2286.8" textLength="32.5" lengthAdjust="spacingAndGlyphs">111</tspan><tspan class="br" x="723.3" y="2288.0">]</tspan></text><line x1="715.7" y1="2272.2" x2="724.4" y2="2272.2" class="ob"/>
<text class="lb"><tspan class="br" x="728.4" y="2268.4">[</tspan><tspan class="dg" x="733.9" y="2267.2" textLength="32.5" lengthAdjust="spacingAndGlyphs">110</tspan><tspan class="br" x="764.2" y="2268.4">]</tspan></text>
<text class="lb"><tspan class="br" x="472.9" y="2357.7">[</tspan><tspan class="dg" x="478.4" y="2356.5" textLength="32.5" lengthAdjust="spacingAndGlyphs">100</tspan><tspan class="br" x="508.7" y="2357.7">]</tspan></text><line x1="479.4" y1="2341.9" x2="488.1" y2="2341.9" class="ob"/>
<text class="lb"><tspan class="br" x="526.4" y="2351.9">[</tspan><tspan class="dg" x="531.9" y="2350.7" textLength="32.5" lengthAdjust="spacingAndGlyphs">101</tspan><tspan class="br" x="562.1" y="2351.9">]</tspan></text><line x1="532.9" y1="2336.1" x2="541.5" y2="2336.1" class="ob"/><line x1="554.6" y1="2336.1" x2="563.2" y2="2336.1" class="ob"/>
<text class="lb"><tspan class="br" x="616.1" y="2363.2">[</tspan><tspan class="dg" x="621.6" y="2362.0" textLength="32.5" lengthAdjust="spacingAndGlyphs">001</tspan><tspan class="br" x="651.9" y="2363.2">]</tspan></text><line x1="644.3" y1="2347.4" x2="653.0" y2="2347.4" class="ob"/>
<text class="lb"><tspan class="br" x="722.2" y="2361.9">[</tspan><tspan class="dg" x="727.7" y="2360.7" textLength="32.5" lengthAdjust="spacingAndGlyphs">101</tspan><tspan class="br" x="757.9" y="2361.9">]</tspan></text><line x1="750.4" y1="2346.1" x2="759.0" y2="2346.1" class="ob"/>
<text class="lb"><tspan class="br" x="782.3" y="2385.3">[</tspan><tspan class="dg" x="787.8" y="2384.1" textLength="32.5" lengthAdjust="spacingAndGlyphs">100</tspan><tspan class="br" x="818.0" y="2385.3">]</tspan></text>
<text class="lb"><tspan class="br" x="543.1" y="2444.6">[</tspan><tspan class="dg" x="548.6" y="2443.4" textLength="32.5" lengthAdjust="spacingAndGlyphs">111</tspan><tspan class="br" x="578.8" y="2444.6">]</tspan></text><line x1="549.6" y1="2428.8" x2="558.2" y2="2428.8" class="ob"/><line x1="560.4" y1="2428.8" x2="569.1" y2="2428.8" class="ob"/><line x1="571.3" y1="2428.8" x2="579.9" y2="2428.8" class="ob"/>
<text class="lb"><tspan class="br" x="620.7" y="2478.8">[</tspan><tspan class="dg" x="626.2" y="2477.6" textLength="32.5" lengthAdjust="spacingAndGlyphs">011</tspan><tspan class="br" x="656.5" y="2478.8">]</tspan></text><line x1="638.1" y1="2463.0" x2="646.7" y2="2463.0" class="ob"/><line x1="648.9" y1="2463.0" x2="657.6" y2="2463.0" class="ob"/>
<text class="lb"><tspan class="br" x="704.6" y="2465.5">[</tspan><tspan class="dg" x="710.1" y="2464.3" textLength="32.5" lengthAdjust="spacingAndGlyphs">111</tspan><tspan class="br" x="740.4" y="2465.5">]</tspan></text><line x1="722.0" y1="2449.7" x2="730.6" y2="2449.7" class="ob"/><line x1="732.8" y1="2449.7" x2="741.5" y2="2449.7" class="ob"/>
<text class="lb"><tspan class="br" x="521.3" y="2498.0">[</tspan><tspan class="dg" x="526.8" y="2496.8" textLength="32.5" lengthAdjust="spacingAndGlyphs">110</tspan><tspan class="br" x="557.1" y="2498.0">]</tspan></text><line x1="527.8" y1="2482.2" x2="536.5" y2="2482.2" class="ob"/><line x1="538.7" y1="2482.2" x2="547.3" y2="2482.2" class="ob"/>
<text class="lb"><tspan class="br" x="740.5" y="2503.9">[</tspan><tspan class="dg" x="746.0" y="2502.7" textLength="32.5" lengthAdjust="spacingAndGlyphs">110</tspan><tspan class="br" x="776.3" y="2503.9">]</tspan></text><line x1="757.9" y1="2488.1" x2="766.5" y2="2488.1" class="ob"/>
<text class="lb"><tspan class="br" x="630.7" y="2536.4">[</tspan><tspan class="dg" x="636.2" y="2535.2" textLength="32.5" lengthAdjust="spacingAndGlyphs">010</tspan><tspan class="br" x="666.5" y="2536.4">]</tspan></text><line x1="648.1" y1="2520.6" x2="656.7" y2="2520.6" class="ob"/>
<text x="-2" y="15.5" class="pl" text-anchor="start">a</text>
<text x="424" y="35.2" class="tt" text-anchor="middle">Upper Hemisphere</text>
<text x="195" y="79" class="tb" text-anchor="middle">Interface</text>
<text x="641.5" y="79" class="tb" text-anchor="middle">Surface</text>
<text x="-1" y="527.5" class="pl" text-anchor="start">b</text>
<text x="424" y="544" class="tt" text-anchor="middle">Lower Hemisphere</text>
<text x="195" y="580.7" class="tb" text-anchor="middle">Interface</text>
<text x="641.5" y="580.7" class="tb" text-anchor="middle">Surface</text>
<text x="0.3" y="1034.5" class="pl" text-anchor="start">c</text>
<text x="468.5" y="1034.3" class="pl" text-anchor="start">d</text>
<text x="3.7" y="1603.2" class="pl" text-anchor="start">e</text>
<text x="424" y="1619" class="tt" text-anchor="middle">Surface volumetric strain</text>
<text x="190" y="1660" class="tb" text-anchor="middle">Upper Hemisphere</text>
<text x="650.3" y="1660" class="tb" text-anchor="middle">Lower Hemisphere</text>
<text x="0.5" y="2106.6" class="pl" text-anchor="start">f</text>
<text x="424" y="2125" class="tt" text-anchor="middle">ORR activity</text>
<text x="190" y="2159" class="tb" text-anchor="middle">Upper Hemisphere</text>
<text x="650.3" y="2159" class="tb" text-anchor="middle">Lower Hemisphere</text>
<rect x="857.4" y="97.4" width="8.5" height="361.8" fill="url(#gpg)"/>
<line x1="857.9" y1="97.4" x2="857.9" y2="459.2" stroke="#a8a8a8" stroke-width="1.2"/>
<line x1="865.4" y1="97.4" x2="865.4" y2="459.2" stroke="#5a4a5a" stroke-width="1"/>
<line x1="857.4" y1="459.2" x2="865.9" y2="459.2" stroke="#999" stroke-width="1"/>
<line x1="857.4" y1="97.4" x2="865.9" y2="97.4" stroke="#999" stroke-width="0.8"/>
<line x1="861.9" y1="97.4" x2="865.9" y2="97.4" class="tm"/>
<text x="872.1" y="105.3" class="ck">4</text>
<line x1="861.9" y1="188.0" x2="865.9" y2="188.0" class="tm"/>
<text x="872.1" y="195.9" class="ck">2</text>
<line x1="861.9" y1="278.3" x2="865.9" y2="278.3" class="tm"/>
<text x="872.1" y="286.2" class="ck">0</text>
<line x1="861.9" y1="368.7" x2="865.9" y2="368.7" class="tm"/>
<text x="872.1" y="376.6" class="ck">-2</text>
<line x1="861.9" y1="459.2" x2="865.9" y2="459.2" class="tm"/>
<text x="872.1" y="467.1" class="ck">-4</text>
<text transform="translate(923.3,370.5) rotate(-90)" class="cl"><tspan font-family='"Liberation Serif","DejaVu Serif",serif' font-style="italic" font-size="31px">ε</tspan><tspan font-family='"Liberation Serif",serif' font-style="italic" font-size="22px" dy="6" letter-spacing="1.5">rr</tspan><tspan x="49" dy="-6" font-size="26.5px">strain (%)</tspan></text>
<rect x="858.0" y="605" width="8.5" height="361.3" fill="url(#gpg)"/>
<line x1="858.5" y1="605" x2="858.5" y2="966.3" stroke="#a8a8a8" stroke-width="1.2"/>
<line x1="866.0" y1="605" x2="866.0" y2="966.3" stroke="#5a4a5a" stroke-width="1"/>
<line x1="858.0" y1="966.3" x2="866.5" y2="966.3" stroke="#999" stroke-width="1"/>
<line x1="858.0" y1="605" x2="866.5" y2="605" stroke="#999" stroke-width="0.8"/>
<line x1="862.5" y1="605" x2="866.5" y2="605" class="tm"/>
<text x="872.7" y="612.9" class="ck">4</text>
<line x1="862.5" y1="695.3" x2="866.5" y2="695.3" class="tm"/>
<text x="872.7" y="703.2" class="ck">2</text>
<line x1="862.5" y1="785.6" x2="866.5" y2="785.6" class="tm"/>
<text x="872.7" y="793.5" class="ck">0</text>
<line x1="862.5" y1="875.9" x2="866.5" y2="875.9" class="tm"/>
<text x="872.7" y="883.8" class="ck">-2</text>
<line x1="862.5" y1="966.3" x2="866.5" y2="966.3" class="tm"/>
<text x="872.7" y="974.2" class="ck">-4</text>
<text transform="translate(924,877.5) rotate(-90)" class="cl"><tspan font-family='"Liberation Serif","DejaVu Serif",serif' font-style="italic" font-size="31px">ε</tspan><tspan font-family='"Liberation Serif",serif' font-style="italic" font-size="22px" dy="6" letter-spacing="1.5">rr</tspan><tspan x="49" dy="-6" font-size="26.5px">strain (%)</tspan></text>
<rect x="870.2" y="1688.2" width="7.7" height="363.5" fill="url(#gpg)"/>
<line x1="870.7" y1="1688.2" x2="870.7" y2="2051.7" stroke="#a8a8a8" stroke-width="1.2"/>
<line x1="877.4" y1="1688.2" x2="877.4" y2="2051.7" stroke="#5a4a5a" stroke-width="1"/>
<line x1="870.2" y1="2051.7" x2="877.9" y2="2051.7" stroke="#999" stroke-width="1"/>
<line x1="870.2" y1="1688.2" x2="877.9" y2="1688.2" stroke="#999" stroke-width="0.8"/>
<line x1="873.9" y1="1688.2" x2="877.9" y2="1688.2" class="tm"/>
<text x="884.1" y="1696.1" class="ck">3</text>
<line x1="873.9" y1="1748.8" x2="877.9" y2="1748.8" class="tm"/>
<text x="884.1" y="1756.7" class="ck">2</text>
<line x1="873.9" y1="1809.4" x2="877.9" y2="1809.4" class="tm"/>
<text x="884.1" y="1817.3" class="ck">1</text>
<line x1="873.9" y1="1870" x2="877.9" y2="1870" class="tm"/>
<text x="884.1" y="1877.9" class="ck">0</text>
<line x1="873.9" y1="1930.6" x2="877.9" y2="1930.6" class="tm"/>
<text x="884.1" y="1938.5" class="ck">-1</text>
<line x1="873.9" y1="1991.2" x2="877.9" y2="1991.2" class="tm"/>
<text x="884.1" y="1999.1" class="ck">-2</text>
<line x1="873.9" y1="2051.7" x2="877.9" y2="2051.7" class="tm"/>
<text x="884.1" y="2059.6" class="ck">-3</text>
<text transform="translate(931,1914.5) rotate(-90)" class="cl"><tspan font-size="27.3px">Strain (%)</tspan></text>
<rect x="863.2" y="2183.7" width="8.4" height="360.1" fill="url(#gorr)"/>
<line x1="863.7" y1="2183.7" x2="863.7" y2="2543.8" stroke="#a8a8a8" stroke-width="1.2"/>
<line x1="871.1" y1="2183.7" x2="871.1" y2="2543.8" stroke="#5a4a5a" stroke-width="1"/>
<line x1="863.2" y1="2543.8" x2="871.6" y2="2543.8" stroke="#999" stroke-width="1"/>
<line x1="863.2" y1="2183.7" x2="871.6" y2="2183.7" stroke="#999" stroke-width="0.8"/>
<line x1="867.6" y1="2228.2" x2="871.6" y2="2228.2" class="tm"/>
<text x="877.8" y="2236.1" class="ck">5</text>
<line x1="867.6" y1="2303.15" x2="871.6" y2="2303.15" class="tm"/>
<text x="877.8" y="2311.1" class="ck">0</text>
<line x1="867.6" y1="2378.1" x2="871.6" y2="2378.1" class="tm"/>
<text x="877.8" y="2386.0" class="ck">-5</text>
<line x1="867.6" y1="2453.05" x2="871.6" y2="2453.05" class="tm"/>
<text x="877.8" y="2461.0" class="ck">-10</text>
<line x1="867.6" y1="2528" x2="871.6" y2="2528" class="tm"/>
<text x="877.8" y="2535.9" class="ck">-15</text>
<text transform="translate(931,2423.5) rotate(-90)" class="cl"><tspan font-size="27.3px">ORR activity</tspan></text>
<path d="M319.3,1147.6C323.4,1144.2 327.9,1141.6 333.0,1139.1C338.1,1136.6 344.8,1132.2 350.1,1132.6C355.3,1133.0 361.3,1135.0 364.4,1141.5C367.6,1147.9 368.7,1160.5 368.9,1171.5C369.1,1182.5 368.1,1198.0 365.5,1207.4C362.8,1216.8 357.1,1221.7 352.8,1227.9C348.5,1234.2 344.5,1239.7 339.8,1245.0C335.2,1250.3 327.1,1251.9 324.8,1259.7C322.5,1267.5 327.6,1285.8 326.2,1291.9C324.7,1298.0 320.2,1295.4 315.9,1296.3C311.6,1297.2 305.6,1296.8 300.5,1297.4C295.4,1297.9 289.7,1298.0 285.1,1299.7C280.6,1301.5 277.7,1305.2 273.2,1307.6C268.6,1310.1 262.6,1313.8 257.8,1314.4C252.9,1315.1 248.1,1313.6 244.1,1311.7C240.1,1309.8 236.1,1306.9 233.8,1303.2C231.6,1299.5 229.6,1294.3 230.4,1289.5C231.3,1284.6 235.6,1279.5 239.0,1274.1C242.4,1268.7 246.4,1263.3 250.9,1257.0C255.5,1250.7 262.1,1243.9 266.3,1236.5C270.6,1229.1 272.9,1220.0 276.6,1212.6C280.3,1205.2 284.8,1198.3 288.5,1192.1C292.3,1185.8 295.5,1180.4 298.8,1175.0C302.1,1169.5 305.0,1164.1 308.4,1159.6C311.8,1155.0 315.2,1151.0 319.3,1147.6Z" fill="#04f3f3"/>
<g fill="none" stroke="#00f6f6" stroke-width="0.95">
<circle cx="278.5" cy="1174.7" r="3.4"/>
<circle cx="254.1" cy="1320.8" r="3.4"/>
<circle cx="336.9" cy="1244.0" r="3.4"/>
<circle cx="171.0" cy="1348.5" r="3.4"/>
<circle cx="188.1" cy="1360.9" r="3.4"/>
<circle cx="366.3" cy="1199.2" r="3.4"/>
<circle cx="278.1" cy="1211.9" r="3.4"/>
<circle cx="190.8" cy="1261.9" r="3.4"/>
<circle cx="270.6" cy="1169.6" r="3.4"/>
<circle cx="267.7" cy="1316.2" r="3.4"/>
<circle cx="270.1" cy="1311.3" r="3.4"/>
<circle cx="198.9" cy="1332.3" r="3.4"/>
<circle cx="205.5" cy="1328.6" r="3.4"/>
<circle cx="345.4" cy="1243.4" r="3.4"/>
<circle cx="363.1" cy="1210.8" r="3.4"/>
<circle cx="130.7" cy="1391.2" r="3.4"/>
<circle cx="302.0" cy="1299.7" r="3.4"/>
<circle cx="295.9" cy="1187.4" r="3.4"/>
<circle cx="242.2" cy="1343.2" r="3.4"/>
<circle cx="254.4" cy="1313.0" r="3.4"/>
<circle cx="240.0" cy="1324.2" r="3.4"/>
<circle cx="234.3" cy="1293.6" r="3.4"/>
<circle cx="327.4" cy="1146.5" r="3.4"/>
<circle cx="247.0" cy="1336.2" r="3.4"/>
<circle cx="259.0" cy="1252.3" r="3.4"/>
<circle cx="155.5" cy="1362.9" r="3.4"/>
<circle cx="212.6" cy="1314.6" r="3.4"/>
<circle cx="307.6" cy="1164.2" r="3.4"/>
<circle cx="351.1" cy="1222.7" r="3.4"/>
<circle cx="147.3" cy="1378.9" r="3.4"/>
<circle cx="224.6" cy="1334.4" r="3.4"/>
<circle cx="367.7" cy="1162.0" r="3.4"/>
<circle cx="296.2" cy="1184.3" r="3.4"/>
<circle cx="231.5" cy="1308.9" r="3.4"/>
<circle cx="225.4" cy="1345.7" r="3.4"/>
<circle cx="209.2" cy="1268.9" r="3.4"/>
<circle cx="248.1" cy="1312.0" r="3.4"/>
<circle cx="162.4" cy="1355.4" r="3.4"/>
<circle cx="361.7" cy="1149.3" r="3.4"/>
<circle cx="238.0" cy="1188.7" r="3.4"/>
<circle cx="345.1" cy="1139.0" r="3.4"/>
<circle cx="318.9" cy="1150.1" r="3.4"/>
<circle cx="213.3" cy="1346.7" r="3.4"/>
<circle cx="222.8" cy="1244.4" r="3.4"/>
<circle cx="326.2" cy="1146.5" r="3.4"/>
<circle cx="229.4" cy="1254.3" r="3.4"/>
<circle cx="238.8" cy="1303.8" r="3.4"/>
<circle cx="354.0" cy="1230.6" r="3.4"/>
<circle cx="289.1" cy="1199.0" r="3.4"/>
<circle cx="190.2" cy="1288.8" r="3.4"/>
<circle cx="191.0" cy="1343.9" r="3.4"/>
<circle cx="244.2" cy="1268.9" r="3.4"/>
<circle cx="162.6" cy="1378.8" r="3.4"/>
<circle cx="213.7" cy="1335.0" r="3.4"/>
<circle cx="278.6" cy="1215.0" r="3.4"/>
<circle cx="222.0" cy="1328.8" r="3.4"/>
<circle cx="173.3" cy="1348.4" r="3.4"/>
<circle cx="206.6" cy="1251.8" r="3.4"/>
<circle cx="211.9" cy="1278.5" r="3.4"/>
<circle cx="153.8" cy="1376.6" r="3.4"/>
<circle cx="169.7" cy="1292.9" r="3.4"/>
<circle cx="255.6" cy="1257.9" r="3.4"/>
<circle cx="235.8" cy="1279.2" r="3.4"/>
<circle cx="222.8" cy="1198.5" r="3.4"/>
<circle cx="147.7" cy="1366.8" r="3.4"/>
<circle cx="198.4" cy="1225.4" r="3.4"/>
<circle cx="171.2" cy="1393.4" r="3.4"/>
<circle cx="303.2" cy="1167.9" r="3.4"/>
<circle cx="200.4" cy="1342.1" r="3.4"/>
<circle cx="192.8" cy="1320.7" r="3.4"/>
<circle cx="193.3" cy="1292.9" r="3.4"/>
<circle cx="166.7" cy="1363.0" r="3.4"/>
<circle cx="276.6" cy="1198.3" r="3.4"/>
<circle cx="248.2" cy="1258.6" r="3.4"/>
<circle cx="189.3" cy="1368.7" r="3.4"/>
<circle cx="189.7" cy="1305.2" r="3.4"/>
<circle cx="321.8" cy="1145.6" r="3.4"/>
<circle cx="183.6" cy="1396.4" r="3.4"/>
<circle cx="186.8" cy="1294.1" r="3.4"/>
<circle cx="224.7" cy="1323.7" r="3.4"/>
<circle cx="219.2" cy="1363.5" r="3.4"/>
<circle cx="174.5" cy="1243.0" r="3.4"/>
<circle cx="352.2" cy="1133.3" r="3.4"/>
<circle cx="160.9" cy="1307.2" r="3.4"/>
<circle cx="157.1" cy="1340.9" r="3.4"/>
<circle cx="193.7" cy="1342.8" r="3.4"/>
<circle cx="282.2" cy="1298.3" r="3.4"/>
<circle cx="182.1" cy="1318.5" r="3.4"/>
<circle cx="230.9" cy="1245.8" r="3.4"/>
<circle cx="224.6" cy="1270.9" r="3.4"/>
<circle cx="300.2" cy="1294.5" r="3.4"/>
<circle cx="189.0" cy="1329.2" r="3.4"/>
<circle cx="369.9" cy="1172.4" r="3.4"/>
<circle cx="180.5" cy="1332.9" r="3.4"/>
<circle cx="265.4" cy="1238.9" r="3.4"/>
<circle cx="148.6" cy="1340.3" r="3.4"/>
<circle cx="368.2" cy="1167.6" r="3.4"/>
<circle cx="228.8" cy="1318.2" r="3.4"/>
<circle cx="139.0" cy="1397.2" r="3.4"/>
<circle cx="175.9" cy="1417.3" r="3.4"/>
<circle cx="352.9" cy="1134.2" r="3.4"/>
<circle cx="215.0" cy="1320.1" r="3.4"/>
<circle cx="310.8" cy="1292.4" r="3.4"/>
<circle cx="249.9" cy="1249.1" r="3.4"/>
<circle cx="313.5" cy="1159.9" r="3.4"/>
<circle cx="373.1" cy="1171.9" r="3.4"/>
<circle cx="218.4" cy="1321.9" r="3.4"/>
<circle cx="235.8" cy="1306.6" r="3.4"/>
<circle cx="324.5" cy="1281.9" r="3.4"/>
<circle cx="321.9" cy="1275.6" r="3.4"/>
<circle cx="317.7" cy="1293.3" r="3.4"/>
<circle cx="202.5" cy="1317.6" r="3.4"/>
<circle cx="330.2" cy="1250.8" r="3.4"/>
<circle cx="210.4" cy="1340.0" r="3.4"/>
<circle cx="364.2" cy="1215.7" r="3.4"/>
<circle cx="147.9" cy="1398.3" r="3.4"/>
<circle cx="224.3" cy="1325.6" r="3.4"/>
<circle cx="373.1" cy="1190.5" r="3.4"/>
<circle cx="349.4" cy="1134.4" r="3.4"/>
<circle cx="150.9" cy="1365.9" r="3.4"/>
<circle cx="185.2" cy="1252.3" r="3.4"/>
<circle cx="149.1" cy="1384.3" r="3.4"/>
<circle cx="303.0" cy="1174.5" r="3.4"/>
<circle cx="151.0" cy="1405.1" r="3.4"/>
<circle cx="181.0" cy="1353.9" r="3.4"/>
<circle cx="215.2" cy="1308.0" r="3.4"/>
<circle cx="313.4" cy="1143.1" r="3.4"/>
<circle cx="195.0" cy="1332.8" r="3.4"/>
<circle cx="320.4" cy="1260.4" r="3.4"/>
<circle cx="308.6" cy="1148.7" r="3.4"/>
<circle cx="254.3" cy="1244.7" r="3.4"/>
<circle cx="238.0" cy="1274.4" r="3.4"/>
<circle cx="313.3" cy="1158.0" r="3.4"/>
<circle cx="337.1" cy="1137.7" r="3.4"/>
<circle cx="189.7" cy="1202.5" r="3.4"/>
<circle cx="265.9" cy="1232.6" r="3.4"/>
<circle cx="363.0" cy="1160.5" r="3.4"/>
<circle cx="291.3" cy="1147.6" r="3.4"/>
<circle cx="228.3" cy="1274.1" r="3.4"/>
<circle cx="359.3" cy="1133.2" r="3.4"/>
<circle cx="365.5" cy="1136.7" r="3.4"/>
<circle cx="333.6" cy="1250.4" r="3.4"/>
<circle cx="207.6" cy="1331.3" r="3.4"/>
<circle cx="182.0" cy="1393.9" r="3.4"/>
<circle cx="183.0" cy="1325.1" r="3.4"/>
<circle cx="243.1" cy="1374.7" r="3.4"/>
<circle cx="249.0" cy="1242.2" r="3.4"/>
<circle cx="237.5" cy="1239.7" r="3.4"/>
<circle cx="191.8" cy="1411.2" r="3.4"/>
<circle cx="169.5" cy="1232.2" r="3.4"/>
<circle cx="166.5" cy="1349.9" r="3.4"/>
<circle cx="324.9" cy="1278.1" r="3.4"/>
<circle cx="240.4" cy="1182.3" r="3.4"/>
<circle cx="188.7" cy="1314.3" r="3.4"/>
<circle cx="242.4" cy="1315.9" r="3.4"/>
<circle cx="228.2" cy="1290.5" r="3.4"/>
<circle cx="182.2" cy="1303.7" r="3.4"/>
<circle cx="362.4" cy="1213.0" r="3.4"/>
<circle cx="193.6" cy="1261.0" r="3.4"/>
<circle cx="184.5" cy="1405.3" r="3.4"/>
<circle cx="220.0" cy="1234.0" r="3.4"/>
<circle cx="163.5" cy="1367.8" r="3.4"/>
<circle cx="173.1" cy="1302.8" r="3.4"/>
<circle cx="365.4" cy="1164.0" r="3.4"/>
<circle cx="190.9" cy="1337.2" r="3.4"/>
<circle cx="288.0" cy="1195.5" r="3.4"/>
<circle cx="209.2" cy="1342.4" r="3.4"/>
<circle cx="278.0" cy="1193.9" r="3.4"/>
<circle cx="211.9" cy="1356.7" r="3.4"/>
<circle cx="289.0" cy="1172.1" r="3.4"/>
<circle cx="270.3" cy="1155.9" r="3.4"/>
<circle cx="264.7" cy="1234.8" r="3.4"/>
<circle cx="272.5" cy="1208.4" r="3.4"/>
<circle cx="249.4" cy="1252.1" r="3.4"/>
<circle cx="221.3" cy="1320.6" r="3.4"/>
<circle cx="288.9" cy="1191.9" r="3.4"/>
<circle cx="314.6" cy="1144.4" r="3.4"/>
<circle cx="359.4" cy="1140.3" r="3.4"/>
<circle cx="219.9" cy="1287.7" r="3.4"/>
<circle cx="316.5" cy="1298.1" r="3.4"/>
<circle cx="170.7" cy="1346.3" r="3.4"/>
<circle cx="341.5" cy="1137.2" r="3.4"/>
<circle cx="354.6" cy="1138.4" r="3.4"/>
<circle cx="173.5" cy="1320.8" r="3.4"/>
<circle cx="251.2" cy="1244.5" r="3.4"/>
<circle cx="171.7" cy="1228.7" r="3.4"/>
<circle cx="341.8" cy="1236.7" r="3.4"/>
<circle cx="156.0" cy="1363.3" r="3.4"/>
<circle cx="281.8" cy="1211.7" r="3.4"/>
<circle cx="170.7" cy="1384.0" r="3.4"/>
<circle cx="263.6" cy="1229.8" r="3.4"/>
<circle cx="367.3" cy="1188.5" r="3.4"/>
<circle cx="238.0" cy="1280.1" r="3.4"/>
<circle cx="159.1" cy="1363.2" r="3.4"/>
<circle cx="175.5" cy="1321.7" r="3.4"/>
<circle cx="323.8" cy="1139.4" r="3.4"/>
<circle cx="336.2" cy="1243.9" r="3.4"/>
<circle cx="344.8" cy="1233.8" r="3.4"/>
<circle cx="193.1" cy="1347.7" r="3.4"/>
<circle cx="274.2" cy="1223.7" r="3.4"/>
<circle cx="154.6" cy="1371.5" r="3.4"/>
<circle cx="193.4" cy="1362.7" r="3.4"/>
<circle cx="146.3" cy="1394.5" r="3.4"/>
<circle cx="187.8" cy="1331.5" r="3.4"/>
<circle cx="238.3" cy="1268.7" r="3.4"/>
<circle cx="205.3" cy="1298.6" r="3.4"/>
<circle cx="184.8" cy="1348.4" r="3.4"/>
<circle cx="260.9" cy="1248.1" r="3.4"/>
<circle cx="247.1" cy="1241.4" r="3.4"/>
<circle cx="321.4" cy="1295.5" r="3.4"/>
<circle cx="346.2" cy="1129.2" r="3.4"/>
<circle cx="244.1" cy="1229.4" r="3.4"/>
<circle cx="191.9" cy="1330.5" r="3.4"/>
<circle cx="370.0" cy="1186.3" r="3.4"/>
<circle cx="190.0" cy="1288.9" r="3.4"/>
<circle cx="310.2" cy="1143.8" r="3.4"/>
<circle cx="248.3" cy="1262.1" r="3.4"/>
<circle cx="227.4" cy="1286.2" r="3.4"/>
<circle cx="247.6" cy="1254.2" r="3.4"/>
<circle cx="257.4" cy="1158.2" r="3.4"/>
<circle cx="345.5" cy="1234.1" r="3.4"/>
<circle cx="278.6" cy="1326.2" r="3.4"/>
<circle cx="222.2" cy="1366.9" r="3.4"/>
<circle cx="286.2" cy="1318.5" r="3.4"/>
<circle cx="276.2" cy="1214.7" r="3.4"/>
<circle cx="348.4" cy="1231.7" r="3.4"/>
<circle cx="270.0" cy="1225.1" r="3.4"/>
<circle cx="294.3" cy="1295.8" r="3.4"/>
<circle cx="362.2" cy="1215.8" r="3.4"/>
<circle cx="167.8" cy="1365.9" r="3.4"/>
<circle cx="277.7" cy="1216.5" r="3.4"/>
<circle cx="320.8" cy="1259.1" r="3.4"/>
<circle cx="291.5" cy="1296.5" r="3.4"/>
<circle cx="167.6" cy="1342.6" r="3.4"/>
<circle cx="145.2" cy="1387.0" r="3.4"/>
<circle cx="274.4" cy="1224.9" r="3.4"/>
<circle cx="274.3" cy="1209.2" r="3.4"/>
<circle cx="274.9" cy="1208.9" r="3.4"/>
<circle cx="233.2" cy="1334.0" r="3.4"/>
<circle cx="224.2" cy="1301.9" r="3.4"/>
<circle cx="146.1" cy="1426.0" r="3.4"/>
<circle cx="216.9" cy="1272.2" r="3.4"/>
<circle cx="191.9" cy="1304.9" r="3.4"/>
<circle cx="251.7" cy="1180.8" r="3.4"/>
<circle cx="286.0" cy="1158.3" r="3.4"/>
<circle cx="221.7" cy="1360.9" r="3.4"/>
<circle cx="159.9" cy="1348.6" r="3.4"/>
<circle cx="321.0" cy="1293.8" r="3.4"/>
<circle cx="297.3" cy="1294.2" r="3.4"/>
<circle cx="167.8" cy="1279.7" r="3.4"/>
<circle cx="195.9" cy="1328.7" r="3.4"/>
<circle cx="269.7" cy="1304.5" r="3.4"/>
<circle cx="262.3" cy="1308.4" r="3.4"/>
<circle cx="350.2" cy="1232.4" r="3.4"/>
<circle cx="167.9" cy="1348.4" r="3.4"/>
<circle cx="227.2" cy="1306.5" r="3.4"/>
<circle cx="146.6" cy="1347.4" r="3.4"/>
<circle cx="255.1" cy="1240.3" r="3.4"/>
<circle cx="232.1" cy="1290.4" r="3.4"/>
<circle cx="234.8" cy="1332.4" r="3.4"/>
<circle cx="196.2" cy="1245.8" r="3.4"/>
<circle cx="259.2" cy="1333.3" r="3.4"/>
<circle cx="233.1" cy="1312.0" r="3.4"/>
<circle cx="288.4" cy="1190.0" r="3.4"/>
<circle cx="231.0" cy="1286.3" r="3.4"/>
<circle cx="184.1" cy="1343.6" r="3.4"/>
<circle cx="323.8" cy="1283.1" r="3.4"/>
<circle cx="308.2" cy="1160.7" r="3.4"/>
<circle cx="360.8" cy="1209.3" r="3.4"/>
<circle cx="344.9" cy="1231.8" r="3.4"/>
<circle cx="308.6" cy="1294.1" r="3.4"/>
<circle cx="321.7" cy="1146.2" r="3.4"/>
<circle cx="325.0" cy="1287.7" r="3.4"/>
<circle cx="326.8" cy="1287.9" r="3.4"/>
<circle cx="150.8" cy="1390.9" r="3.4"/>
<circle cx="367.7" cy="1151.4" r="3.4"/>
<circle cx="354.8" cy="1229.5" r="3.4"/>
<circle cx="148.9" cy="1406.3" r="3.4"/>
<circle cx="273.3" cy="1304.0" r="3.4"/>
<circle cx="178.7" cy="1251.3" r="3.4"/>
<circle cx="261.1" cy="1320.7" r="3.4"/>
<circle cx="178.2" cy="1309.9" r="3.4"/>
<circle cx="214.1" cy="1220.6" r="3.4"/>
<circle cx="236.2" cy="1272.8" r="3.4"/>
<circle cx="211.8" cy="1351.1" r="3.4"/>
<circle cx="277.9" cy="1312.5" r="3.4"/>
<circle cx="364.5" cy="1168.6" r="3.4"/>
<circle cx="179.4" cy="1338.5" r="3.4"/>
<circle cx="304.0" cy="1162.6" r="3.4"/>
<circle cx="306.0" cy="1152.6" r="3.4"/>
<circle cx="172.9" cy="1301.5" r="3.4"/>
<circle cx="340.3" cy="1132.3" r="3.4"/>
<circle cx="207.9" cy="1256.8" r="3.4"/>
<circle cx="211.1" cy="1224.2" r="3.4"/>
<circle cx="189.3" cy="1360.9" r="3.4"/>
<circle cx="361.9" cy="1147.7" r="3.4"/>
<circle cx="233.6" cy="1372.9" r="3.4"/>
<circle cx="309.2" cy="1154.6" r="3.4"/>
<circle cx="314.9" cy="1156.1" r="3.4"/>
<circle cx="264.6" cy="1312.1" r="3.4"/>
<circle cx="175.4" cy="1315.0" r="3.4"/>
<circle cx="298.4" cy="1153.6" r="3.4"/>
<circle cx="210.1" cy="1270.9" r="3.4"/>
<circle cx="173.8" cy="1393.0" r="3.4"/>
<circle cx="232.0" cy="1383.7" r="3.4"/>
<circle cx="203.7" cy="1402.8" r="3.4"/>
<circle cx="347.6" cy="1132.9" r="3.4"/>
<circle cx="325.6" cy="1137.9" r="3.4"/>
<circle cx="180.9" cy="1374.1" r="3.4"/>
<circle cx="183.4" cy="1351.6" r="3.4"/>
<circle cx="295.0" cy="1185.6" r="3.4"/>
<circle cx="294.2" cy="1306.4" r="3.4"/>
<circle cx="193.4" cy="1323.2" r="3.4"/>
<circle cx="284.6" cy="1161.2" r="3.4"/>
<circle cx="237.3" cy="1333.1" r="3.4"/>
<circle cx="365.5" cy="1214.6" r="3.4"/>
<circle cx="149.5" cy="1338.1" r="3.4"/>
<circle cx="233.8" cy="1381.0" r="3.4"/>
<circle cx="176.6" cy="1412.4" r="3.4"/>
<circle cx="176.1" cy="1387.5" r="3.4"/>
<circle cx="261.1" cy="1311.4" r="3.4"/>
<circle cx="297.2" cy="1300.9" r="3.4"/>
<circle cx="250.8" cy="1250.1" r="3.4"/>
<circle cx="230.9" cy="1308.2" r="3.4"/>
<circle cx="258.0" cy="1237.1" r="3.4"/>
<circle cx="146.8" cy="1401.0" r="3.4"/>
<circle cx="191.4" cy="1293.4" r="3.4"/>
<circle cx="355.8" cy="1139.7" r="3.4"/>
<circle cx="189.4" cy="1321.6" r="3.4"/>
<circle cx="253.9" cy="1326.2" r="3.4"/>
<circle cx="313.9" cy="1159.5" r="3.4"/>
<circle cx="307.6" cy="1164.5" r="3.4"/>
<circle cx="153.8" cy="1403.2" r="3.4"/>
<circle cx="224.3" cy="1293.5" r="3.4"/>
<circle cx="218.7" cy="1394.0" r="3.4"/>
<circle cx="209.4" cy="1283.2" r="3.4"/>
<circle cx="239.5" cy="1379.7" r="3.4"/>
<circle cx="159.4" cy="1382.4" r="3.4"/>
<circle cx="280.8" cy="1195.2" r="3.4"/>
<circle cx="165.1" cy="1350.8" r="3.4"/>
<circle cx="187.2" cy="1395.7" r="3.4"/>
<circle cx="174.9" cy="1354.8" r="3.4"/>
<circle cx="373.1" cy="1203.8" r="3.4"/>
<circle cx="325.4" cy="1290.4" r="3.4"/>
<circle cx="160.8" cy="1384.5" r="3.4"/>
<circle cx="175.2" cy="1330.2" r="3.4"/>
<circle cx="184.6" cy="1362.6" r="3.4"/>
<circle cx="235.4" cy="1278.7" r="3.4"/>
<circle cx="281.2" cy="1211.8" r="3.4"/>
<circle cx="149.8" cy="1394.9" r="3.4"/>
<circle cx="367.0" cy="1190.7" r="3.4"/>
<circle cx="213.7" cy="1318.0" r="3.4"/>
<circle cx="246.5" cy="1334.3" r="3.4"/>
<circle cx="130.2" cy="1400.2" r="3.4"/>
<circle cx="370.3" cy="1186.4" r="3.4"/>
<circle cx="202.5" cy="1364.3" r="3.4"/>
<circle cx="299.3" cy="1176.9" r="3.4"/>
<circle cx="363.2" cy="1185.0" r="3.4"/>
<circle cx="353.8" cy="1236.7" r="3.4"/>
<circle cx="206.3" cy="1365.1" r="3.4"/>
<circle cx="245.7" cy="1264.9" r="3.4"/>
<circle cx="267.0" cy="1339.4" r="3.4"/>
<circle cx="189.2" cy="1219.7" r="3.4"/>
<circle cx="200.8" cy="1283.0" r="3.4"/>
<circle cx="197.3" cy="1383.5" r="3.4"/>
<circle cx="338.8" cy="1248.3" r="3.4"/>
<circle cx="332.9" cy="1140.5" r="3.4"/>
<circle cx="223.8" cy="1327.1" r="3.4"/>
<circle cx="361.1" cy="1209.3" r="3.4"/>
<circle cx="326.5" cy="1272.8" r="3.4"/>
<circle cx="151.1" cy="1351.1" r="3.4"/>
<circle cx="179.0" cy="1323.4" r="3.4"/>
<circle cx="230.3" cy="1252.5" r="3.4"/>
<circle cx="298.0" cy="1176.3" r="3.4"/>
<circle cx="307.5" cy="1292.5" r="3.4"/>
<circle cx="284.0" cy="1307.9" r="3.4"/>
<circle cx="234.1" cy="1309.2" r="3.4"/>
<circle cx="324.8" cy="1292.4" r="3.4"/>
<circle cx="343.7" cy="1235.9" r="3.4"/>
<circle cx="144.4" cy="1396.2" r="3.4"/>
<circle cx="166.8" cy="1338.8" r="3.4"/>
<circle cx="338.1" cy="1135.2" r="3.4"/>
<circle cx="300.4" cy="1297.0" r="3.4"/>
<circle cx="163.3" cy="1387.0" r="3.4"/>
<circle cx="247.2" cy="1315.8" r="3.4"/>
<circle cx="334.5" cy="1136.3" r="3.4"/>
<circle cx="208.3" cy="1308.9" r="3.4"/>
<circle cx="350.7" cy="1237.5" r="3.4"/>
<circle cx="248.6" cy="1317.7" r="3.4"/>
<circle cx="259.1" cy="1247.0" r="3.4"/>
<circle cx="224.1" cy="1290.5" r="3.4"/>
<circle cx="139.0" cy="1406.9" r="3.4"/>
<circle cx="353.3" cy="1133.6" r="3.4"/>
<circle cx="169.7" cy="1427.1" r="3.4"/>
<circle cx="240.8" cy="1232.6" r="3.4"/>
<circle cx="143.4" cy="1410.3" r="3.4"/>
<circle cx="185.0" cy="1381.2" r="3.4"/>
<circle cx="186.2" cy="1291.5" r="3.4"/>
<circle cx="322.3" cy="1262.5" r="3.4"/>
<circle cx="347.0" cy="1136.3" r="3.4"/>
<circle cx="234.0" cy="1311.3" r="3.4"/>
<circle cx="170.0" cy="1298.9" r="3.4"/>
<circle cx="176.0" cy="1261.0" r="3.4"/>
<circle cx="143.7" cy="1374.1" r="3.4"/>
<circle cx="270.1" cy="1151.7" r="3.4"/>
<circle cx="181.3" cy="1319.0" r="3.4"/>
<circle cx="219.8" cy="1267.5" r="3.4"/>
<circle cx="339.4" cy="1139.3" r="3.4"/>
<circle cx="272.5" cy="1307.7" r="3.4"/>
<circle cx="186.4" cy="1344.9" r="3.4"/>
<circle cx="336.9" cy="1251.6" r="3.4"/>
<circle cx="232.8" cy="1305.5" r="3.4"/>
<circle cx="246.4" cy="1233.3" r="3.4"/>
<circle cx="258.9" cy="1225.0" r="3.4"/>
<circle cx="330.9" cy="1254.8" r="3.4"/>
<circle cx="364.6" cy="1145.0" r="3.4"/>
<circle cx="274.9" cy="1206.3" r="3.4"/>
<circle cx="365.3" cy="1182.4" r="3.4"/>
<circle cx="352.5" cy="1226.2" r="3.4"/>
<circle cx="191.6" cy="1359.9" r="3.4"/>
<circle cx="331.3" cy="1140.1" r="3.4"/>
<circle cx="249.9" cy="1251.8" r="3.4"/>
<circle cx="335.5" cy="1138.5" r="3.4"/>
<circle cx="372.7" cy="1185.8" r="3.4"/>
<circle cx="223.1" cy="1293.1" r="3.4"/>
<circle cx="242.2" cy="1258.3" r="3.4"/>
<circle cx="364.8" cy="1210.9" r="3.4"/>
<circle cx="249.4" cy="1330.1" r="3.4"/>
<circle cx="222.7" cy="1325.7" r="3.4"/>
<circle cx="181.2" cy="1340.4" r="3.4"/>
<circle cx="167.7" cy="1363.2" r="3.4"/>
<circle cx="261.5" cy="1311.9" r="3.4"/>
<circle cx="160.8" cy="1402.7" r="3.4"/>
<circle cx="184.9" cy="1309.3" r="3.4"/>
<circle cx="253.2" cy="1173.0" r="3.4"/>
<circle cx="281.1" cy="1186.2" r="3.4"/>
<circle cx="227.1" cy="1229.4" r="3.4"/>
<circle cx="167.8" cy="1249.1" r="3.4"/>
<circle cx="309.7" cy="1164.0" r="3.4"/>
<circle cx="301.0" cy="1153.0" r="3.4"/>
<circle cx="164.5" cy="1394.9" r="3.4"/>
<circle cx="333.7" cy="1255.9" r="3.4"/>
<circle cx="211.7" cy="1324.6" r="3.4"/>
<circle cx="261.7" cy="1227.0" r="3.4"/>
<circle cx="152.4" cy="1386.1" r="3.4"/>
<circle cx="354.7" cy="1134.8" r="3.4"/>
<circle cx="183.5" cy="1288.4" r="3.4"/>
<circle cx="182.3" cy="1316.5" r="3.4"/>
<circle cx="149.8" cy="1388.9" r="3.4"/>
<circle cx="266.9" cy="1235.9" r="3.4"/>
<circle cx="281.4" cy="1212.0" r="3.4"/>
<circle cx="271.6" cy="1307.8" r="3.4"/>
<circle cx="187.0" cy="1401.5" r="3.4"/>
<circle cx="301.0" cy="1296.2" r="3.4"/>
<circle cx="303.0" cy="1162.3" r="3.4"/>
<circle cx="288.2" cy="1177.4" r="3.4"/>
<circle cx="263.9" cy="1315.2" r="3.4"/>
<circle cx="363.9" cy="1159.0" r="3.4"/>
<circle cx="146.2" cy="1395.1" r="3.4"/>
<circle cx="356.3" cy="1230.9" r="3.4"/>
<circle cx="327.2" cy="1266.5" r="3.4"/>
<circle cx="271.1" cy="1232.2" r="3.4"/>
<circle cx="285.5" cy="1309.5" r="3.4"/>
<circle cx="226.1" cy="1282.8" r="3.4"/>
<circle cx="230.5" cy="1272.3" r="3.4"/>
<circle cx="351.1" cy="1244.1" r="3.4"/>
<circle cx="207.0" cy="1314.4" r="3.4"/>
<circle cx="231.1" cy="1248.7" r="3.4"/>
<circle cx="211.5" cy="1310.7" r="3.4"/>
<circle cx="358.2" cy="1236.3" r="3.4"/>
<circle cx="175.3" cy="1374.9" r="3.4"/>
<circle cx="196.2" cy="1383.6" r="3.4"/>
<circle cx="205.6" cy="1222.7" r="3.4"/>
<circle cx="210.6" cy="1319.9" r="3.4"/>
<circle cx="149.3" cy="1375.4" r="3.4"/>
<circle cx="171.1" cy="1415.6" r="3.4"/>
<circle cx="234.9" cy="1278.7" r="3.4"/>
<circle cx="279.3" cy="1298.5" r="3.4"/>
<circle cx="326.5" cy="1255.9" r="3.4"/>
<circle cx="209.0" cy="1234.9" r="3.4"/>
<circle cx="141.1" cy="1391.5" r="3.4"/>
<circle cx="276.5" cy="1304.3" r="3.4"/>
<circle cx="236.3" cy="1263.5" r="3.4"/>
<circle cx="314.3" cy="1157.6" r="3.4"/>
<circle cx="247.6" cy="1252.9" r="3.4"/>
<circle cx="176.9" cy="1405.8" r="3.4"/>
<circle cx="322.8" cy="1274.8" r="3.4"/>
<circle cx="291.9" cy="1301.0" r="3.4"/>
<circle cx="143.2" cy="1407.4" r="3.4"/>
<circle cx="297.9" cy="1299.0" r="3.4"/>
<circle cx="278.7" cy="1209.1" r="3.4"/>
<circle cx="282.6" cy="1313.0" r="3.4"/>
<circle cx="185.4" cy="1350.9" r="3.4"/>
<circle cx="154.6" cy="1363.8" r="3.4"/>
<circle cx="307.7" cy="1163.7" r="3.4"/>
<circle cx="259.4" cy="1313.0" r="3.4"/>
<circle cx="181.9" cy="1381.2" r="3.4"/>
<circle cx="208.7" cy="1276.7" r="3.4"/>
<circle cx="358.7" cy="1220.4" r="3.4"/>
<circle cx="232.0" cy="1343.0" r="3.4"/>
<circle cx="208.4" cy="1197.0" r="3.4"/>
<circle cx="220.6" cy="1359.0" r="3.4"/>
<circle cx="258.8" cy="1192.9" r="3.4"/>
<circle cx="356.8" cy="1217.7" r="3.4"/>
<circle cx="240.6" cy="1340.3" r="3.4"/>
<circle cx="140.7" cy="1390.5" r="3.4"/>
<circle cx="184.0" cy="1326.1" r="3.4"/>
<circle cx="323.5" cy="1144.1" r="3.4"/>
<circle cx="304.6" cy="1158.0" r="3.4"/>
<circle cx="239.5" cy="1244.1" r="3.4"/>
<circle cx="230.3" cy="1272.5" r="3.4"/>
<circle cx="209.2" cy="1319.4" r="3.4"/>
<circle cx="247.9" cy="1353.3" r="3.4"/>
<circle cx="363.4" cy="1201.2" r="3.4"/>
<circle cx="361.6" cy="1150.7" r="3.4"/>
<circle cx="190.2" cy="1322.6" r="3.4"/>
<circle cx="255.5" cy="1254.7" r="3.4"/>
<circle cx="371.4" cy="1189.7" r="3.4"/>
<circle cx="271.9" cy="1213.7" r="3.4"/>
<circle cx="233.8" cy="1360.4" r="3.4"/>
<circle cx="210.6" cy="1398.5" r="3.4"/>
<circle cx="237.7" cy="1349.2" r="3.4"/>
<circle cx="274.9" cy="1196.4" r="3.4"/>
<circle cx="233.1" cy="1287.4" r="3.4"/>
<circle cx="221.9" cy="1337.8" r="3.4"/>
<circle cx="289.3" cy="1196.1" r="3.4"/>
<circle cx="308.4" cy="1292.4" r="3.4"/>
<circle cx="176.3" cy="1316.6" r="3.4"/>
<circle cx="209.8" cy="1202.9" r="3.4"/>
<circle cx="334.6" cy="1255.8" r="3.4"/>
<circle cx="325.4" cy="1288.1" r="3.4"/>
<circle cx="362.4" cy="1215.4" r="3.4"/>
<circle cx="268.0" cy="1236.6" r="3.4"/>
<circle cx="337.5" cy="1141.6" r="3.4"/>
<circle cx="356.0" cy="1229.5" r="3.4"/>
<circle cx="243.2" cy="1149.2" r="3.4"/>
<circle cx="231.2" cy="1203.7" r="3.4"/>
<circle cx="347.1" cy="1138.3" r="3.4"/>
<circle cx="141.2" cy="1389.9" r="3.4"/>
<circle cx="186.0" cy="1356.0" r="3.4"/>
<circle cx="253.4" cy="1234.0" r="3.4"/>
<circle cx="190.5" cy="1401.4" r="3.4"/>
<circle cx="161.5" cy="1395.7" r="3.4"/>
<circle cx="207.6" cy="1363.9" r="3.4"/>
<circle cx="266.4" cy="1203.8" r="3.4"/>
<circle cx="154.9" cy="1340.5" r="3.4"/>
<circle cx="165.7" cy="1265.7" r="3.4"/>
<circle cx="343.9" cy="1138.0" r="3.4"/>
<circle cx="155.6" cy="1375.5" r="3.4"/>
<circle cx="172.7" cy="1341.7" r="3.4"/>
<circle cx="144.1" cy="1398.4" r="3.4"/>
<circle cx="335.8" cy="1253.7" r="3.4"/>
<circle cx="182.4" cy="1307.4" r="3.4"/>
<circle cx="150.8" cy="1400.2" r="3.4"/>
<circle cx="238.3" cy="1382.3" r="3.4"/>
<circle cx="327.3" cy="1135.5" r="3.4"/>
<circle cx="169.7" cy="1371.3" r="3.4"/>
<circle cx="223.8" cy="1383.3" r="3.4"/>
<circle cx="301.0" cy="1162.0" r="3.4"/>
<circle cx="347.1" cy="1245.7" r="3.4"/>
<circle cx="178.5" cy="1286.5" r="3.4"/>
<circle cx="365.1" cy="1216.9" r="3.4"/>
<circle cx="132.5" cy="1407.2" r="3.4"/>
<circle cx="233.8" cy="1207.4" r="3.4"/>
<circle cx="141.2" cy="1397.5" r="3.4"/>
<circle cx="314.7" cy="1297.5" r="3.4"/>
<circle cx="181.0" cy="1274.4" r="3.4"/>
<circle cx="194.1" cy="1399.3" r="3.4"/>
<circle cx="156.8" cy="1388.7" r="3.4"/>
<circle cx="189.4" cy="1375.5" r="3.4"/>
<circle cx="366.3" cy="1149.5" r="3.4"/>
<circle cx="159.0" cy="1414.3" r="3.4"/>
<circle cx="183.5" cy="1237.6" r="3.4"/>
<circle cx="252.3" cy="1310.4" r="3.4"/>
<circle cx="371.1" cy="1213.1" r="3.4"/>
<circle cx="233.7" cy="1382.9" r="3.4"/>
<circle cx="246.1" cy="1259.6" r="3.4"/>
<circle cx="184.0" cy="1324.4" r="3.4"/>
<circle cx="366.4" cy="1164.5" r="3.4"/>
<circle cx="210.7" cy="1216.2" r="3.4"/>
<circle cx="349.5" cy="1132.3" r="3.4"/>
<circle cx="198.8" cy="1342.3" r="3.4"/>
<circle cx="172.6" cy="1309.9" r="3.4"/>
<circle cx="243.2" cy="1269.2" r="3.4"/>
<circle cx="236.0" cy="1220.6" r="3.4"/>
<circle cx="228.0" cy="1350.6" r="3.4"/>
<circle cx="282.6" cy="1300.8" r="3.4"/>
<circle cx="292.7" cy="1299.3" r="3.4"/>
<circle cx="241.9" cy="1270.5" r="3.4"/>
<circle cx="163.3" cy="1359.7" r="3.4"/>
<circle cx="189.9" cy="1355.0" r="3.4"/>
<circle cx="172.3" cy="1377.6" r="3.4"/>
<circle cx="222.2" cy="1308.7" r="3.4"/>
<circle cx="262.8" cy="1333.8" r="3.4"/>
<circle cx="312.8" cy="1161.0" r="3.4"/>
<circle cx="322.8" cy="1286.3" r="3.4"/>
<circle cx="362.5" cy="1214.9" r="3.4"/>
<circle cx="347.1" cy="1237.7" r="3.4"/>
<circle cx="280.1" cy="1300.5" r="3.4"/>
<circle cx="360.6" cy="1216.6" r="3.4"/>
<circle cx="254.1" cy="1198.5" r="3.4"/>
<circle cx="294.1" cy="1309.3" r="3.4"/>
<circle cx="229.2" cy="1344.8" r="3.4"/>
<circle cx="229.2" cy="1275.3" r="3.4"/>
<circle cx="171.2" cy="1352.3" r="3.4"/>
<circle cx="267.7" cy="1306.0" r="3.4"/>
<circle cx="227.6" cy="1351.3" r="3.4"/>
<circle cx="363.1" cy="1158.6" r="3.4"/>
<circle cx="237.3" cy="1328.8" r="3.4"/>
<circle cx="247.7" cy="1326.4" r="3.4"/>
<circle cx="366.1" cy="1182.2" r="3.4"/>
<circle cx="235.0" cy="1233.5" r="3.4"/>
<circle cx="263.2" cy="1319.4" r="3.4"/>
<circle cx="253.7" cy="1314.9" r="3.4"/>
<circle cx="353.8" cy="1138.3" r="3.4"/>
<circle cx="232.2" cy="1328.5" r="3.4"/>
<circle cx="240.0" cy="1263.6" r="3.4"/>
<circle cx="176.9" cy="1410.1" r="3.4"/>
<circle cx="210.0" cy="1388.5" r="3.4"/>
<circle cx="208.2" cy="1296.1" r="3.4"/>
<circle cx="213.1" cy="1337.4" r="3.4"/>
<circle cx="231.7" cy="1372.4" r="3.4"/>
<circle cx="328.7" cy="1290.8" r="3.4"/>
<circle cx="330.7" cy="1251.7" r="3.4"/>
<circle cx="208.1" cy="1396.6" r="3.4"/>
<circle cx="336.2" cy="1138.4" r="3.4"/>
<circle cx="237.8" cy="1284.8" r="3.4"/>
<circle cx="189.0" cy="1244.7" r="3.4"/>
<circle cx="351.1" cy="1222.7" r="3.4"/>
<circle cx="271.9" cy="1204.8" r="3.4"/>
<circle cx="284.1" cy="1205.4" r="3.4"/>
<circle cx="228.3" cy="1319.9" r="3.4"/>
<circle cx="203.9" cy="1270.4" r="3.4"/>
<circle cx="171.3" cy="1391.7" r="3.4"/>
<circle cx="170.5" cy="1329.7" r="3.4"/>
<circle cx="366.7" cy="1221.4" r="3.4"/>
<circle cx="177.8" cy="1221.5" r="3.4"/>
<circle cx="168.9" cy="1395.0" r="3.4"/>
<circle cx="286.8" cy="1315.2" r="3.4"/>
<circle cx="180.0" cy="1326.4" r="3.4"/>
<circle cx="295.3" cy="1178.0" r="3.4"/>
<circle cx="297.1" cy="1181.7" r="3.4"/>
<circle cx="275.9" cy="1216.1" r="3.4"/>
<circle cx="316.4" cy="1293.4" r="3.4"/>
<circle cx="303.5" cy="1146.0" r="3.4"/>
<circle cx="283.9" cy="1296.2" r="3.4"/>
<circle cx="190.5" cy="1360.7" r="3.4"/>
<circle cx="166.5" cy="1347.1" r="3.4"/>
<circle cx="143.6" cy="1368.9" r="3.4"/>
<circle cx="187.3" cy="1338.9" r="3.4"/>
<circle cx="249.4" cy="1208.6" r="3.4"/>
<circle cx="273.7" cy="1205.1" r="3.4"/>
<circle cx="276.7" cy="1309.0" r="3.4"/>
<circle cx="242.7" cy="1307.0" r="3.4"/>
<circle cx="346.1" cy="1133.3" r="3.4"/>
<circle cx="260.2" cy="1224.1" r="3.4"/>
<circle cx="290.0" cy="1295.2" r="3.4"/>
<circle cx="222.2" cy="1288.5" r="3.4"/>
<circle cx="373.8" cy="1178.6" r="3.4"/>
<circle cx="255.9" cy="1317.2" r="3.4"/>
<circle cx="187.0" cy="1315.9" r="3.4"/>
<circle cx="241.8" cy="1224.0" r="3.4"/>
<circle cx="232.0" cy="1353.0" r="3.4"/>
<circle cx="157.9" cy="1390.0" r="3.4"/>
<circle cx="325.3" cy="1273.8" r="3.4"/>
<circle cx="368.8" cy="1140.5" r="3.4"/>
<circle cx="366.4" cy="1169.4" r="3.4"/>
<circle cx="367.4" cy="1170.1" r="3.4"/>
<circle cx="368.9" cy="1176.7" r="3.4"/>
<circle cx="323.0" cy="1150.4" r="3.4"/>
<circle cx="174.5" cy="1359.3" r="3.4"/>
<circle cx="218.8" cy="1313.6" r="3.4"/>
<circle cx="171.2" cy="1304.3" r="3.4"/>
<circle cx="167.0" cy="1347.3" r="3.4"/>
<circle cx="168.5" cy="1256.6" r="3.4"/>
<circle cx="364.0" cy="1158.0" r="3.4"/>
<circle cx="277.4" cy="1219.2" r="3.4"/>
<circle cx="186.3" cy="1252.0" r="3.4"/>
<circle cx="257.1" cy="1311.2" r="3.4"/>
<circle cx="222.8" cy="1343.7" r="3.4"/>
<circle cx="282.0" cy="1198.3" r="3.4"/>
<circle cx="324.7" cy="1136.9" r="3.4"/>
<circle cx="301.0" cy="1174.8" r="3.4"/>
<circle cx="193.7" cy="1368.3" r="3.4"/>
<circle cx="214.2" cy="1316.4" r="3.4"/>
<circle cx="217.9" cy="1335.9" r="3.4"/>
<circle cx="211.5" cy="1234.7" r="3.4"/>
<circle cx="243.7" cy="1328.5" r="3.4"/>
<circle cx="236.7" cy="1298.4" r="3.4"/>
<circle cx="301.1" cy="1156.0" r="3.4"/>
<circle cx="299.7" cy="1156.6" r="3.4"/>
<circle cx="350.1" cy="1132.7" r="3.4"/>
<circle cx="217.6" cy="1299.3" r="3.4"/>
<circle cx="371.4" cy="1156.7" r="3.4"/>
<circle cx="362.2" cy="1198.8" r="3.4"/>
<circle cx="294.2" cy="1175.3" r="3.4"/>
<circle cx="172.3" cy="1394.3" r="3.4"/>
<circle cx="202.6" cy="1392.5" r="3.4"/>
<circle cx="157.5" cy="1414.7" r="3.4"/>
<circle cx="276.6" cy="1189.1" r="3.4"/>
<circle cx="204.2" cy="1228.4" r="3.4"/>
<circle cx="355.3" cy="1138.5" r="3.4"/>
<circle cx="202.3" cy="1345.0" r="3.4"/>
<circle cx="192.4" cy="1293.5" r="3.4"/>
<circle cx="176.3" cy="1340.6" r="3.4"/>
<circle cx="304.1" cy="1293.7" r="3.4"/>
<circle cx="234.1" cy="1297.7" r="3.4"/>
<circle cx="213.7" cy="1294.5" r="3.4"/>
<circle cx="230.8" cy="1190.6" r="3.4"/>
<circle cx="162.1" cy="1385.0" r="3.4"/>
<circle cx="221.3" cy="1266.3" r="3.4"/>
<circle cx="194.9" cy="1278.3" r="3.4"/>
<circle cx="285.4" cy="1191.9" r="3.4"/>
<circle cx="200.3" cy="1335.6" r="3.4"/>
<circle cx="165.5" cy="1366.6" r="3.4"/>
<circle cx="260.8" cy="1237.0" r="3.4"/>
<circle cx="287.5" cy="1165.4" r="3.4"/>
<circle cx="371.3" cy="1201.3" r="3.4"/>
<circle cx="183.2" cy="1299.7" r="3.4"/>
<circle cx="277.6" cy="1184.6" r="3.4"/>
<circle cx="254.5" cy="1193.5" r="3.4"/>
<circle cx="184.3" cy="1354.5" r="3.4"/>
<circle cx="154.4" cy="1371.8" r="3.4"/>
<circle cx="322.7" cy="1280.8" r="3.4"/>
<circle cx="216.9" cy="1245.0" r="3.4"/>
<circle cx="175.6" cy="1335.4" r="3.4"/>
<circle cx="265.3" cy="1224.7" r="3.4"/>
<circle cx="187.0" cy="1286.3" r="3.4"/>
<circle cx="322.5" cy="1275.7" r="3.4"/>
<circle cx="269.5" cy="1230.3" r="3.4"/>
<circle cx="235.1" cy="1281.5" r="3.4"/>
<circle cx="279.7" cy="1185.8" r="3.4"/>
<circle cx="209.2" cy="1351.5" r="3.4"/>
<circle cx="370.2" cy="1178.2" r="3.4"/>
<circle cx="373.6" cy="1186.1" r="3.4"/>
<circle cx="231.6" cy="1272.1" r="3.4"/>
<circle cx="328.5" cy="1137.4" r="3.4"/>
<circle cx="233.4" cy="1183.5" r="3.4"/>
<circle cx="283.6" cy="1206.9" r="3.4"/>
<circle cx="153.5" cy="1422.3" r="3.4"/>
<circle cx="271.3" cy="1234.9" r="3.4"/>
<circle cx="373.1" cy="1155.3" r="3.4"/>
<circle cx="296.7" cy="1179.0" r="3.4"/>
<circle cx="228.2" cy="1288.7" r="3.4"/>
<circle cx="224.2" cy="1187.7" r="3.4"/>
<circle cx="206.8" cy="1315.3" r="3.4"/>
<circle cx="357.3" cy="1213.8" r="3.4"/>
<circle cx="347.5" cy="1136.4" r="3.4"/>
<circle cx="146.1" cy="1377.9" r="3.4"/>
<circle cx="292.8" cy="1180.1" r="3.4"/>
<circle cx="187.9" cy="1285.5" r="3.4"/>
<circle cx="172.5" cy="1374.3" r="3.4"/>
<circle cx="168.4" cy="1411.7" r="3.4"/>
<circle cx="187.8" cy="1316.0" r="3.4"/>
<circle cx="238.7" cy="1334.7" r="3.4"/>
<circle cx="185.9" cy="1346.9" r="3.4"/>
<circle cx="178.8" cy="1396.8" r="3.4"/>
<circle cx="372.4" cy="1199.1" r="3.4"/>
<circle cx="335.3" cy="1253.7" r="3.4"/>
<circle cx="147.2" cy="1392.4" r="3.4"/>
<circle cx="215.0" cy="1311.8" r="3.4"/>
<circle cx="363.1" cy="1211.1" r="3.4"/>
<circle cx="363.8" cy="1187.1" r="3.4"/>
<circle cx="246.0" cy="1207.5" r="3.4"/>
<circle cx="174.3" cy="1344.3" r="3.4"/>
<circle cx="373.6" cy="1194.9" r="3.4"/>
<circle cx="253.7" cy="1150.0" r="3.4"/>
<circle cx="348.7" cy="1235.9" r="3.4"/>
<circle cx="227.5" cy="1340.1" r="3.4"/>
<circle cx="155.0" cy="1340.2" r="3.4"/>
<circle cx="201.8" cy="1333.4" r="3.4"/>
<circle cx="263.4" cy="1334.5" r="3.4"/>
<circle cx="368.3" cy="1197.0" r="3.4"/>
<circle cx="270.2" cy="1220.2" r="3.4"/>
<circle cx="255.8" cy="1150.8" r="3.4"/>
<circle cx="231.2" cy="1238.3" r="3.4"/>
<circle cx="281.0" cy="1212.4" r="3.4"/>
<circle cx="250.2" cy="1252.1" r="3.4"/>
<circle cx="358.5" cy="1230.5" r="3.4"/>
<circle cx="260.1" cy="1244.0" r="3.4"/>
<circle cx="203.1" cy="1258.1" r="3.4"/>
<circle cx="191.2" cy="1360.3" r="3.4"/>
<circle cx="211.8" cy="1227.3" r="3.4"/>
<circle cx="342.7" cy="1234.9" r="3.4"/>
<circle cx="322.5" cy="1145.2" r="3.4"/>
<circle cx="135.6" cy="1397.8" r="3.4"/>
<circle cx="327.5" cy="1143.1" r="3.4"/>
<circle cx="274.7" cy="1306.0" r="3.4"/>
<circle cx="168.5" cy="1408.8" r="3.4"/>
<circle cx="254.1" cy="1316.5" r="3.4"/>
<circle cx="194.7" cy="1255.5" r="3.4"/>
<circle cx="298.9" cy="1295.9" r="3.4"/>
<circle cx="237.8" cy="1284.5" r="3.4"/>
<circle cx="200.6" cy="1375.8" r="3.4"/>
<circle cx="340.8" cy="1245.7" r="3.4"/>
<circle cx="297.1" cy="1297.9" r="3.4"/>
<circle cx="152.3" cy="1427.6" r="3.4"/>
<circle cx="322.3" cy="1270.9" r="3.4"/>
<circle cx="258.7" cy="1224.9" r="3.4"/>
<circle cx="230.9" cy="1299.9" r="3.4"/>
<circle cx="237.1" cy="1326.7" r="3.4"/>
<circle cx="256.1" cy="1189.1" r="3.4"/>
<circle cx="191.3" cy="1368.2" r="3.4"/>
<circle cx="293.0" cy="1180.9" r="3.4"/>
<circle cx="142.5" cy="1398.4" r="3.4"/>
<circle cx="163.4" cy="1398.9" r="3.4"/>
<circle cx="280.5" cy="1318.3" r="3.4"/>
<circle cx="180.8" cy="1273.5" r="3.4"/>
<circle cx="285.9" cy="1301.9" r="3.4"/>
<circle cx="368.3" cy="1187.6" r="3.4"/>
<circle cx="172.2" cy="1297.4" r="3.4"/>
<circle cx="243.0" cy="1305.1" r="3.4"/>
<circle cx="290.9" cy="1161.4" r="3.4"/>
<circle cx="255.9" cy="1175.0" r="3.4"/>
<circle cx="242.7" cy="1185.2" r="3.4"/>
<circle cx="237.2" cy="1271.0" r="3.4"/>
<circle cx="165.0" cy="1353.8" r="3.4"/>
<circle cx="319.7" cy="1152.8" r="3.4"/>
<circle cx="155.0" cy="1339.4" r="3.4"/>
<circle cx="311.0" cy="1148.2" r="3.4"/>
<circle cx="142.3" cy="1385.0" r="3.4"/>
<circle cx="174.0" cy="1317.8" r="3.4"/>
<circle cx="237.4" cy="1272.4" r="3.4"/>
<circle cx="360.1" cy="1216.1" r="3.4"/>
<circle cx="290.1" cy="1183.5" r="3.4"/>
<circle cx="170.0" cy="1379.9" r="3.4"/>
<circle cx="204.5" cy="1330.7" r="3.4"/>
<circle cx="236.4" cy="1351.9" r="3.4"/>
<circle cx="187.3" cy="1319.0" r="3.4"/>
<circle cx="170.6" cy="1368.2" r="3.4"/>
<circle cx="156.5" cy="1428.1" r="3.4"/>
<circle cx="245.5" cy="1308.1" r="3.4"/>
<circle cx="216.8" cy="1305.6" r="3.4"/>
<circle cx="338.1" cy="1251.8" r="3.4"/>
<circle cx="262.6" cy="1238.0" r="3.4"/>
<circle cx="242.4" cy="1240.4" r="3.4"/>
<circle cx="213.5" cy="1255.5" r="3.4"/>
<circle cx="193.3" cy="1305.2" r="3.4"/>
<circle cx="211.5" cy="1315.4" r="3.4"/>
<circle cx="295.8" cy="1175.3" r="3.4"/>
<circle cx="309.9" cy="1157.1" r="3.4"/>
<circle cx="224.3" cy="1301.7" r="3.4"/>
<circle cx="236.7" cy="1282.5" r="3.4"/>
<circle cx="171.1" cy="1385.0" r="3.4"/>
<circle cx="173.2" cy="1356.7" r="3.4"/>
<circle cx="366.5" cy="1192.0" r="3.4"/>
<circle cx="145.6" cy="1379.4" r="3.4"/>
<circle cx="202.6" cy="1309.6" r="3.4"/>
<circle cx="249.4" cy="1264.1" r="3.4"/>
<circle cx="182.6" cy="1356.9" r="3.4"/>
<circle cx="142.9" cy="1376.1" r="3.4"/>
<circle cx="284.4" cy="1188.3" r="3.4"/>
<circle cx="261.5" cy="1247.2" r="3.4"/>
<circle cx="240.3" cy="1236.9" r="3.4"/>
<circle cx="325.5" cy="1297.2" r="3.4"/>
<circle cx="165.4" cy="1397.8" r="3.4"/>
<circle cx="229.5" cy="1328.3" r="3.4"/>
<circle cx="197.6" cy="1366.2" r="3.4"/>
<circle cx="206.0" cy="1324.1" r="3.4"/>
<circle cx="286.2" cy="1202.3" r="3.4"/>
<circle cx="328.0" cy="1293.8" r="3.4"/>
<circle cx="214.2" cy="1346.5" r="3.4"/>
<circle cx="365.1" cy="1222.5" r="3.4"/>
<circle cx="299.2" cy="1172.0" r="3.4"/>
<circle cx="304.7" cy="1164.7" r="3.4"/>
<circle cx="269.2" cy="1166.3" r="3.4"/>
<circle cx="362.2" cy="1226.8" r="3.4"/>
<circle cx="265.5" cy="1186.5" r="3.4"/>
<circle cx="177.9" cy="1284.6" r="3.4"/>
<circle cx="342.3" cy="1139.6" r="3.4"/>
<circle cx="253.0" cy="1235.0" r="3.4"/>
<circle cx="347.4" cy="1228.9" r="3.4"/>
<circle cx="190.3" cy="1372.3" r="3.4"/>
<circle cx="230.6" cy="1296.4" r="3.4"/>
<circle cx="251.2" cy="1251.5" r="3.4"/>
<circle cx="213.3" cy="1300.6" r="3.4"/>
<circle cx="224.6" cy="1301.9" r="3.4"/>
<circle cx="189.0" cy="1270.7" r="3.4"/>
<circle cx="210.1" cy="1399.5" r="3.4"/>
<circle cx="228.8" cy="1254.9" r="3.4"/>
<circle cx="170.2" cy="1348.8" r="3.4"/>
<circle cx="201.8" cy="1231.9" r="3.4"/>
<circle cx="371.3" cy="1184.7" r="3.4"/>
<circle cx="336.6" cy="1133.1" r="3.4"/>
<circle cx="258.0" cy="1244.3" r="3.4"/>
<circle cx="354.4" cy="1240.7" r="3.4"/>
<circle cx="354.9" cy="1223.9" r="3.4"/>
<circle cx="269.5" cy="1236.9" r="3.4"/>
<circle cx="247.8" cy="1170.2" r="3.4"/>
<circle cx="219.5" cy="1292.6" r="3.4"/>
<circle cx="364.1" cy="1138.9" r="3.4"/>
<circle cx="371.4" cy="1178.2" r="3.4"/>
<circle cx="359.6" cy="1235.1" r="3.4"/>
<circle cx="189.9" cy="1350.0" r="3.4"/>
<circle cx="194.1" cy="1382.8" r="3.4"/>
<circle cx="245.7" cy="1260.0" r="3.4"/>
<circle cx="251.5" cy="1311.3" r="3.4"/>
<circle cx="300.7" cy="1298.3" r="3.4"/>
<circle cx="327.5" cy="1270.7" r="3.4"/>
<circle cx="183.1" cy="1398.5" r="3.4"/>
<circle cx="367.2" cy="1158.7" r="3.4"/>
<circle cx="324.2" cy="1268.7" r="3.4"/>
<circle cx="216.2" cy="1318.0" r="3.4"/>
<circle cx="338.9" cy="1240.7" r="3.4"/>
<circle cx="363.1" cy="1136.1" r="3.4"/>
<circle cx="225.5" cy="1341.0" r="3.4"/>
<circle cx="206.9" cy="1323.6" r="3.4"/>
<circle cx="320.4" cy="1152.8" r="3.4"/>
<circle cx="262.1" cy="1226.2" r="3.4"/>
<circle cx="331.7" cy="1140.1" r="3.4"/>
<circle cx="191.6" cy="1335.4" r="3.4"/>
<circle cx="150.5" cy="1401.1" r="3.4"/>
<circle cx="359.6" cy="1212.5" r="3.4"/>
<circle cx="325.6" cy="1272.8" r="3.4"/>
<circle cx="343.8" cy="1233.5" r="3.4"/>
<circle cx="179.4" cy="1378.0" r="3.4"/>
<circle cx="294.6" cy="1187.7" r="3.4"/>
<circle cx="331.5" cy="1144.4" r="3.4"/>
<circle cx="237.0" cy="1259.4" r="3.4"/>
<circle cx="341.4" cy="1140.2" r="3.4"/>
<circle cx="324.6" cy="1294.6" r="3.4"/>
<circle cx="247.9" cy="1157.5" r="3.4"/>
<circle cx="364.0" cy="1146.4" r="3.4"/>
<circle cx="161.6" cy="1420.5" r="3.4"/>
<circle cx="278.3" cy="1209.0" r="3.4"/>
<circle cx="319.3" cy="1292.7" r="3.4"/>
<circle cx="145.8" cy="1348.8" r="3.4"/>
<circle cx="193.3" cy="1301.6" r="3.4"/>
<circle cx="177.3" cy="1310.4" r="3.4"/>
<circle cx="222.7" cy="1352.1" r="3.4"/>
<circle cx="303.5" cy="1174.1" r="3.4"/>
<circle cx="288.3" cy="1195.1" r="3.4"/>
<circle cx="282.2" cy="1307.8" r="3.4"/>
<circle cx="186.3" cy="1305.4" r="3.4"/>
<circle cx="193.3" cy="1295.9" r="3.4"/>
<circle cx="267.9" cy="1195.9" r="3.4"/>
<circle cx="322.6" cy="1278.2" r="3.4"/>
<circle cx="274.2" cy="1215.2" r="3.4"/>
<circle cx="231.1" cy="1289.8" r="3.4"/>
<circle cx="261.8" cy="1312.3" r="3.4"/>
<circle cx="159.5" cy="1405.3" r="3.4"/>
<circle cx="322.1" cy="1267.7" r="3.4"/>
<circle cx="363.8" cy="1155.2" r="3.4"/>
<circle cx="228.2" cy="1252.8" r="3.4"/>
<circle cx="181.8" cy="1262.1" r="3.4"/>
<circle cx="279.9" cy="1198.7" r="3.4"/>
<circle cx="134.5" cy="1407.5" r="3.4"/>
<circle cx="189.2" cy="1292.0" r="3.4"/>
<circle cx="193.0" cy="1376.7" r="3.4"/>
<circle cx="255.9" cy="1251.9" r="3.4"/>
<circle cx="179.1" cy="1361.5" r="3.4"/>
<circle cx="306.5" cy="1294.9" r="3.4"/>
<circle cx="175.9" cy="1412.2" r="3.4"/>
<circle cx="273.9" cy="1142.9" r="3.4"/>
<circle cx="196.0" cy="1357.2" r="3.4"/>
<circle cx="277.8" cy="1306.7" r="3.4"/>
<circle cx="192.6" cy="1370.3" r="3.4"/>
<circle cx="333.4" cy="1134.3" r="3.4"/>
<circle cx="369.5" cy="1183.2" r="3.4"/>
<circle cx="170.2" cy="1379.7" r="3.4"/>
<circle cx="261.4" cy="1234.5" r="3.4"/>
<circle cx="180.5" cy="1343.5" r="3.4"/>
<circle cx="186.8" cy="1203.5" r="3.4"/>
<circle cx="192.4" cy="1338.7" r="3.4"/>
<circle cx="297.9" cy="1159.4" r="3.4"/>
<circle cx="188.0" cy="1378.8" r="3.4"/>
<circle cx="280.1" cy="1209.5" r="3.4"/>
<circle cx="296.8" cy="1294.9" r="3.4"/>
<circle cx="364.4" cy="1202.3" r="3.4"/>
<circle cx="275.5" cy="1336.4" r="3.4"/>
<circle cx="259.1" cy="1311.3" r="3.4"/>
<circle cx="261.2" cy="1337.0" r="3.4"/>
<circle cx="365.8" cy="1210.4" r="3.4"/>
<circle cx="203.2" cy="1355.0" r="3.4"/>
<circle cx="233.8" cy="1334.8" r="3.4"/>
<circle cx="168.7" cy="1321.2" r="3.4"/>
<circle cx="148.8" cy="1353.1" r="3.4"/>
<circle cx="153.5" cy="1406.6" r="3.4"/>
<circle cx="140.9" cy="1398.1" r="3.4"/>
<circle cx="268.5" cy="1205.5" r="3.4"/>
<circle cx="241.6" cy="1277.4" r="3.4"/>
<circle cx="364.8" cy="1202.6" r="3.4"/>
<circle cx="328.2" cy="1252.3" r="3.4"/>
<circle cx="208.8" cy="1342.9" r="3.4"/>
<circle cx="242.1" cy="1259.7" r="3.4"/>
<circle cx="266.2" cy="1338.7" r="3.4"/>
<circle cx="228.6" cy="1304.2" r="3.4"/>
<circle cx="295.3" cy="1169.4" r="3.4"/>
<circle cx="231.9" cy="1302.7" r="3.4"/>
<circle cx="213.4" cy="1356.0" r="3.4"/>
<circle cx="227.5" cy="1243.5" r="3.4"/>
<circle cx="256.7" cy="1253.2" r="3.4"/>
<circle cx="270.2" cy="1230.8" r="3.4"/>
<circle cx="254.6" cy="1314.8" r="3.4"/>
<circle cx="307.7" cy="1160.9" r="3.4"/>
<circle cx="226.1" cy="1298.6" r="3.4"/>
<circle cx="368.7" cy="1183.2" r="3.4"/>
<circle cx="227.9" cy="1263.1" r="3.4"/>
<circle cx="165.5" cy="1318.8" r="3.4"/>
<circle cx="246.6" cy="1263.6" r="3.4"/>
<circle cx="224.6" cy="1275.4" r="3.4"/>
<circle cx="199.6" cy="1373.3" r="3.4"/>
<circle cx="183.4" cy="1220.2" r="3.4"/>
<circle cx="232.7" cy="1245.9" r="3.4"/>
<circle cx="278.6" cy="1168.3" r="3.4"/>
<circle cx="171.4" cy="1312.9" r="3.4"/>
<circle cx="170.4" cy="1399.2" r="3.4"/>
<circle cx="332.9" cy="1140.3" r="3.4"/>
<circle cx="165.5" cy="1278.7" r="3.4"/>
<circle cx="259.8" cy="1309.2" r="3.4"/>
<circle cx="192.7" cy="1395.8" r="3.4"/>
<circle cx="281.9" cy="1205.9" r="3.4"/>
<circle cx="229.7" cy="1236.3" r="3.4"/>
<circle cx="177.9" cy="1384.4" r="3.4"/>
<circle cx="232.0" cy="1377.8" r="3.4"/>
<circle cx="192.9" cy="1407.5" r="3.4"/>
<circle cx="244.5" cy="1254.2" r="3.4"/>
<circle cx="219.3" cy="1318.3" r="3.4"/>
<circle cx="310.6" cy="1144.9" r="3.4"/>
<circle cx="277.8" cy="1210.5" r="3.4"/>
<circle cx="168.5" cy="1300.7" r="3.4"/>
<circle cx="243.9" cy="1249.8" r="3.4"/>
<circle cx="196.5" cy="1236.1" r="3.4"/>
<circle cx="311.3" cy="1154.5" r="3.4"/>
<circle cx="360.4" cy="1138.9" r="3.4"/>
<circle cx="226.2" cy="1361.3" r="3.4"/>
<circle cx="291.7" cy="1303.3" r="3.4"/>
<circle cx="326.4" cy="1292.8" r="3.4"/>
<circle cx="256.4" cy="1253.5" r="3.4"/>
<circle cx="159.2" cy="1363.3" r="3.4"/>
<circle cx="325.2" cy="1146.2" r="3.4"/>
<circle cx="261.4" cy="1250.1" r="3.4"/>
<circle cx="288.5" cy="1144.2" r="3.4"/>
<circle cx="258.7" cy="1309.3" r="3.4"/>
<circle cx="256.3" cy="1245.8" r="3.4"/>
<circle cx="135.6" cy="1404.7" r="3.4"/>
<circle cx="290.3" cy="1194.2" r="3.4"/>
<circle cx="231.5" cy="1303.2" r="3.4"/>
<circle cx="155.8" cy="1314.3" r="3.4"/>
<circle cx="264.2" cy="1308.7" r="3.4"/>
<circle cx="300.4" cy="1157.3" r="3.4"/>
<circle cx="170.7" cy="1265.7" r="3.4"/>
<circle cx="233.5" cy="1284.6" r="3.4"/>
<circle cx="370.0" cy="1185.3" r="3.4"/>
<circle cx="270.4" cy="1227.7" r="3.4"/>
<circle cx="164.1" cy="1359.6" r="3.4"/>
<circle cx="230.8" cy="1358.8" r="3.4"/>
<circle cx="179.6" cy="1376.6" r="3.4"/>
<circle cx="232.5" cy="1285.7" r="3.4"/>
<circle cx="263.4" cy="1187.5" r="3.4"/>
<circle cx="276.1" cy="1195.9" r="3.4"/>
<circle cx="202.5" cy="1318.2" r="3.4"/>
<circle cx="204.7" cy="1298.5" r="3.4"/>
<circle cx="265.8" cy="1313.1" r="3.4"/>
<circle cx="365.7" cy="1153.5" r="3.4"/>
<circle cx="343.7" cy="1233.3" r="3.4"/>
<circle cx="300.9" cy="1148.5" r="3.4"/>
<circle cx="213.7" cy="1289.8" r="3.4"/>
<circle cx="202.9" cy="1294.5" r="3.4"/>
<circle cx="330.2" cy="1248.8" r="3.4"/>
<circle cx="344.4" cy="1136.7" r="3.4"/>
<circle cx="364.7" cy="1177.3" r="3.4"/>
<circle cx="357.8" cy="1212.2" r="3.4"/>
<circle cx="190.4" cy="1335.4" r="3.4"/>
<circle cx="154.4" cy="1395.9" r="3.4"/>
<circle cx="284.0" cy="1196.1" r="3.4"/>
<circle cx="258.7" cy="1239.0" r="3.4"/>
<circle cx="289.2" cy="1196.3" r="3.4"/>
<circle cx="199.6" cy="1335.8" r="3.4"/>
<circle cx="198.9" cy="1295.6" r="3.4"/>
<circle cx="203.0" cy="1393.9" r="3.4"/>
<circle cx="210.7" cy="1313.5" r="3.4"/>
<circle cx="219.3" cy="1243.0" r="3.4"/>
<circle cx="230.9" cy="1289.3" r="3.4"/>
<circle cx="161.7" cy="1295.4" r="3.4"/>
<circle cx="314.1" cy="1292.2" r="3.4"/>
<circle cx="207.8" cy="1316.1" r="3.4"/>
<circle cx="233.0" cy="1285.9" r="3.4"/>
<circle cx="300.3" cy="1294.4" r="3.4"/>
<circle cx="154.2" cy="1369.3" r="3.4"/>
<circle cx="224.4" cy="1249.2" r="3.4"/>
<circle cx="251.8" cy="1261.1" r="3.4"/>
<circle cx="231.9" cy="1290.0" r="3.4"/>
<circle cx="215.5" cy="1265.0" r="3.4"/>
<circle cx="328.5" cy="1254.3" r="3.4"/>
<circle cx="232.1" cy="1358.1" r="3.4"/>
<circle cx="175.2" cy="1368.4" r="3.4"/>
<circle cx="203.2" cy="1219.8" r="3.4"/>
<circle cx="175.7" cy="1416.2" r="3.4"/>
<circle cx="194.0" cy="1329.8" r="3.4"/>
<circle cx="249.5" cy="1237.2" r="3.4"/>
<circle cx="231.8" cy="1310.1" r="3.4"/>
<circle cx="307.3" cy="1167.0" r="3.4"/>
<circle cx="260.5" cy="1314.4" r="3.4"/>
<circle cx="194.6" cy="1328.7" r="3.4"/>
<circle cx="236.3" cy="1312.6" r="3.4"/>
<circle cx="192.9" cy="1321.2" r="3.4"/>
<circle cx="175.5" cy="1268.1" r="3.4"/>
<circle cx="245.1" cy="1251.4" r="3.4"/>
<circle cx="194.7" cy="1416.4" r="3.4"/>
<circle cx="197.2" cy="1330.8" r="3.4"/>
<circle cx="139.9" cy="1411.4" r="3.4"/>
<circle cx="207.4" cy="1362.2" r="3.4"/>
<circle cx="170.9" cy="1320.0" r="3.4"/>
<circle cx="266.6" cy="1229.0" r="3.4"/>
<circle cx="271.1" cy="1324.1" r="3.4"/>
<circle cx="349.7" cy="1134.4" r="3.4"/>
<circle cx="225.4" cy="1332.4" r="3.4"/>
<circle cx="331.8" cy="1134.7" r="3.4"/>
<circle cx="159.6" cy="1425.1" r="3.4"/>
<circle cx="216.1" cy="1267.2" r="3.4"/>
<circle cx="325.3" cy="1291.0" r="3.4"/>
<circle cx="216.1" cy="1190.9" r="3.4"/>
<circle cx="197.1" cy="1404.0" r="3.4"/>
<circle cx="178.2" cy="1281.1" r="3.4"/>
<circle cx="245.0" cy="1196.5" r="3.4"/>
<circle cx="193.4" cy="1235.4" r="3.4"/>
<circle cx="196.4" cy="1381.9" r="3.4"/>
<circle cx="282.9" cy="1296.3" r="3.4"/>
<circle cx="365.6" cy="1150.4" r="3.4"/>
<circle cx="196.8" cy="1317.8" r="3.4"/>
<circle cx="166.8" cy="1335.3" r="3.4"/>
<circle cx="310.0" cy="1161.2" r="3.4"/>
<circle cx="366.6" cy="1208.0" r="3.4"/>
<circle cx="233.6" cy="1271.9" r="3.4"/>
<circle cx="259.9" cy="1236.0" r="3.4"/>
<circle cx="264.5" cy="1344.7" r="3.4"/>
<circle cx="176.3" cy="1388.0" r="3.4"/>
<circle cx="255.1" cy="1208.7" r="3.4"/>
<circle cx="236.1" cy="1221.5" r="3.4"/>
<circle cx="173.7" cy="1264.9" r="3.4"/>
<circle cx="232.8" cy="1294.2" r="3.4"/>
<circle cx="186.0" cy="1421.5" r="3.4"/>
<circle cx="369.5" cy="1173.9" r="3.4"/>
<circle cx="221.9" cy="1311.4" r="3.4"/>
<circle cx="155.9" cy="1353.9" r="3.4"/>
<circle cx="263.7" cy="1247.0" r="3.4"/>
<circle cx="321.2" cy="1139.7" r="3.4"/>
<circle cx="221.1" cy="1316.6" r="3.4"/>
<circle cx="155.0" cy="1363.8" r="3.4"/>
<circle cx="186.9" cy="1286.0" r="3.4"/>
<circle cx="295.9" cy="1162.6" r="3.4"/>
<circle cx="362.7" cy="1221.2" r="3.4"/>
<circle cx="260.7" cy="1247.3" r="3.4"/>
<circle cx="365.6" cy="1226.0" r="3.4"/>
<circle cx="309.3" cy="1163.2" r="3.4"/>
<circle cx="151.9" cy="1420.7" r="3.4"/>
<circle cx="278.4" cy="1196.5" r="3.4"/>
<circle cx="257.5" cy="1312.6" r="3.4"/>
<circle cx="146.3" cy="1372.3" r="3.4"/>
<circle cx="217.5" cy="1267.1" r="3.4"/>
<circle cx="326.0" cy="1283.6" r="3.4"/>
<circle cx="204.0" cy="1271.2" r="3.4"/>
<circle cx="253.7" cy="1255.5" r="3.4"/>
<circle cx="362.9" cy="1156.9" r="3.4"/>
<circle cx="289.8" cy="1303.1" r="3.4"/>
<circle cx="193.5" cy="1348.7" r="3.4"/>
<circle cx="366.2" cy="1138.1" r="3.4"/>
<circle cx="235.1" cy="1342.3" r="3.4"/>
<circle cx="148.3" cy="1379.8" r="3.4"/>
<circle cx="282.3" cy="1340.1" r="3.4"/>
<circle cx="363.1" cy="1135.2" r="3.4"/>
<circle cx="194.6" cy="1304.8" r="3.4"/>
<circle cx="221.7" cy="1224.8" r="3.4"/>
<circle cx="250.8" cy="1260.0" r="3.4"/>
<circle cx="359.2" cy="1218.1" r="3.4"/>
<circle cx="363.0" cy="1188.8" r="3.4"/>
<circle cx="254.0" cy="1237.2" r="3.4"/>
<circle cx="137.3" cy="1401.1" r="3.4"/>
<circle cx="259.6" cy="1236.9" r="3.4"/>
<circle cx="294.8" cy="1296.8" r="3.4"/>
<circle cx="287.0" cy="1159.4" r="3.4"/>
<circle cx="176.6" cy="1284.4" r="3.4"/>
<circle cx="164.5" cy="1378.1" r="3.4"/>
<circle cx="169.2" cy="1316.6" r="3.4"/>
<circle cx="282.0" cy="1204.1" r="3.4"/>
<circle cx="208.9" cy="1330.0" r="3.4"/>
<circle cx="346.9" cy="1228.5" r="3.4"/>
<circle cx="219.8" cy="1334.6" r="3.4"/>
<circle cx="180.0" cy="1292.7" r="3.4"/>
<circle cx="217.5" cy="1249.3" r="3.4"/>
<circle cx="235.6" cy="1286.9" r="3.4"/>
<circle cx="226.3" cy="1384.5" r="3.4"/>
<circle cx="274.2" cy="1305.9" r="3.4"/>
<circle cx="159.7" cy="1390.0" r="3.4"/>
<circle cx="359.8" cy="1233.8" r="3.4"/>
<circle cx="174.6" cy="1365.0" r="3.4"/>
<circle cx="160.5" cy="1350.0" r="3.4"/>
<circle cx="142.5" cy="1395.0" r="3.4"/>
<circle cx="201.5" cy="1330.8" r="3.4"/>
<circle cx="216.9" cy="1378.7" r="3.4"/>
<circle cx="210.8" cy="1275.3" r="3.4"/>
<circle cx="154.7" cy="1376.7" r="3.4"/>
<circle cx="172.6" cy="1337.1" r="3.4"/>
<circle cx="235.7" cy="1293.4" r="3.4"/>
<circle cx="198.8" cy="1293.4" r="3.4"/>
<circle cx="322.5" cy="1282.6" r="3.4"/>
<circle cx="143.4" cy="1379.1" r="3.4"/>
<circle cx="202.7" cy="1315.1" r="3.4"/>
<circle cx="239.8" cy="1353.0" r="3.4"/>
<circle cx="147.8" cy="1376.1" r="3.4"/>
<circle cx="323.1" cy="1264.2" r="3.4"/>
<circle cx="364.2" cy="1212.2" r="3.4"/>
<circle cx="349.0" cy="1234.9" r="3.4"/>
<circle cx="331.6" cy="1250.7" r="3.4"/>
<circle cx="169.6" cy="1414.0" r="3.4"/>
<circle cx="232.1" cy="1338.2" r="3.4"/>
<circle cx="173.8" cy="1296.1" r="3.4"/>
<circle cx="130.2" cy="1397.1" r="3.4"/>
<circle cx="271.6" cy="1208.1" r="3.4"/>
<circle cx="215.7" cy="1333.0" r="3.4"/>
<circle cx="280.9" cy="1181.5" r="3.4"/>
<circle cx="225.1" cy="1245.8" r="3.4"/>
<circle cx="176.0" cy="1310.6" r="3.4"/>
<circle cx="365.4" cy="1197.2" r="3.4"/>
<circle cx="153.5" cy="1356.3" r="3.4"/>
<circle cx="159.3" cy="1346.1" r="3.4"/>
<circle cx="167.1" cy="1379.4" r="3.4"/>
<circle cx="297.7" cy="1184.5" r="3.4"/>
<circle cx="366.6" cy="1210.3" r="3.4"/>
<circle cx="293.7" cy="1310.8" r="3.4"/>
<circle cx="295.2" cy="1188.1" r="3.4"/>
<circle cx="226.2" cy="1327.9" r="3.4"/>
<circle cx="364.1" cy="1207.1" r="3.4"/>
<circle cx="362.2" cy="1214.3" r="3.4"/>
<circle cx="258.8" cy="1232.1" r="3.4"/>
<circle cx="318.0" cy="1146.9" r="3.4"/>
<circle cx="312.4" cy="1156.6" r="3.4"/>
<circle cx="194.4" cy="1257.4" r="3.4"/>
<circle cx="287.1" cy="1309.6" r="3.4"/>
<circle cx="169.0" cy="1360.9" r="3.4"/>
<circle cx="268.5" cy="1216.1" r="3.4"/>
<circle cx="303.8" cy="1165.6" r="3.4"/>
<circle cx="170.1" cy="1356.6" r="3.4"/>
<circle cx="300.9" cy="1174.8" r="3.4"/>
<circle cx="348.5" cy="1135.7" r="3.4"/>
<circle cx="339.2" cy="1243.0" r="3.4"/>
<circle cx="322.6" cy="1279.0" r="3.4"/>
<circle cx="271.4" cy="1198.6" r="3.4"/>
<circle cx="281.0" cy="1199.3" r="3.4"/>
<circle cx="267.0" cy="1227.7" r="3.4"/>
<circle cx="184.0" cy="1180.8" r="3.4"/>
<circle cx="354.5" cy="1136.1" r="3.4"/>
<circle cx="256.1" cy="1236.0" r="3.4"/>
<circle cx="369.0" cy="1145.1" r="3.4"/>
<circle cx="277.0" cy="1200.6" r="3.4"/>
<circle cx="235.5" cy="1280.0" r="3.4"/>
<circle cx="134.4" cy="1402.4" r="3.4"/>
<circle cx="295.2" cy="1299.6" r="3.4"/>
<circle cx="371.0" cy="1185.7" r="3.4"/>
<circle cx="206.3" cy="1326.9" r="3.4"/>
<circle cx="338.1" cy="1139.9" r="3.4"/>
<circle cx="231.1" cy="1311.2" r="3.4"/>
<circle cx="274.5" cy="1227.8" r="3.4"/>
<circle cx="221.0" cy="1369.7" r="3.4"/>
<circle cx="242.3" cy="1375.3" r="3.4"/>
<circle cx="239.0" cy="1273.2" r="3.4"/>
<circle cx="186.4" cy="1364.4" r="3.4"/>
<circle cx="205.5" cy="1406.8" r="3.4"/>
<circle cx="280.2" cy="1205.7" r="3.4"/>
<circle cx="358.6" cy="1212.6" r="3.4"/>
<circle cx="296.1" cy="1170.4" r="3.4"/>
<circle cx="232.1" cy="1288.1" r="3.4"/>
<circle cx="254.1" cy="1333.4" r="3.4"/>
<circle cx="335.3" cy="1254.9" r="3.4"/>
<circle cx="209.1" cy="1344.7" r="3.4"/>
<circle cx="183.8" cy="1253.2" r="3.4"/>
<circle cx="267.5" cy="1331.8" r="3.4"/>
<circle cx="266.0" cy="1197.1" r="3.4"/>
<circle cx="283.0" cy="1198.9" r="3.4"/>
<circle cx="296.8" cy="1310.2" r="3.4"/>
<circle cx="173.1" cy="1350.1" r="3.4"/>
<circle cx="305.2" cy="1170.1" r="3.4"/>
<circle cx="373.4" cy="1168.1" r="3.4"/>
<circle cx="153.9" cy="1372.1" r="3.4"/>
<circle cx="344.4" cy="1238.8" r="3.4"/>
<circle cx="363.3" cy="1216.8" r="3.4"/>
<circle cx="226.1" cy="1201.4" r="3.4"/>
<circle cx="355.5" cy="1217.2" r="3.4"/>
<circle cx="263.1" cy="1351.0" r="3.4"/>
<circle cx="236.7" cy="1304.7" r="3.4"/>
<circle cx="159.0" cy="1347.6" r="3.4"/>
<circle cx="224.4" cy="1197.2" r="3.4"/>
<circle cx="366.1" cy="1157.3" r="3.4"/>
<circle cx="207.1" cy="1356.2" r="3.4"/>
<circle cx="368.1" cy="1167.1" r="3.4"/>
<circle cx="234.4" cy="1286.3" r="3.4"/>
<circle cx="233.7" cy="1320.0" r="3.4"/>
<circle cx="163.2" cy="1413.9" r="3.4"/>
<circle cx="166.9" cy="1364.5" r="3.4"/>
<circle cx="218.8" cy="1272.8" r="3.4"/>
<circle cx="237.0" cy="1237.1" r="3.4"/>
<circle cx="273.1" cy="1338.0" r="3.4"/>
<circle cx="243.3" cy="1209.5" r="3.4"/>
<circle cx="327.0" cy="1141.0" r="3.4"/>
<circle cx="171.9" cy="1380.6" r="3.4"/>
<circle cx="240.9" cy="1261.2" r="3.4"/>
<circle cx="313.3" cy="1296.7" r="3.4"/>
<circle cx="361.0" cy="1223.1" r="3.4"/>
<circle cx="351.4" cy="1234.8" r="3.4"/>
<circle cx="278.8" cy="1304.6" r="3.4"/>
<circle cx="272.3" cy="1336.3" r="3.4"/>
<circle cx="348.0" cy="1227.7" r="3.4"/>
<circle cx="295.6" cy="1300.1" r="3.4"/>
<circle cx="239.5" cy="1271.4" r="3.4"/>
<circle cx="223.5" cy="1188.7" r="3.4"/>
<circle cx="324.0" cy="1282.3" r="3.4"/>
<circle cx="184.5" cy="1393.2" r="3.4"/>
<circle cx="255.7" cy="1357.4" r="3.4"/>
<circle cx="320.6" cy="1263.5" r="3.4"/>
<circle cx="222.7" cy="1207.5" r="3.4"/>
<circle cx="291.5" cy="1172.7" r="3.4"/>
<circle cx="363.8" cy="1210.2" r="3.4"/>
<circle cx="218.2" cy="1333.6" r="3.4"/>
<circle cx="243.6" cy="1244.9" r="3.4"/>
<circle cx="374.8" cy="1199.5" r="3.4"/>
<circle cx="223.2" cy="1175.8" r="3.4"/>
<circle cx="361.1" cy="1235.9" r="3.4"/>
<circle cx="166.3" cy="1301.2" r="3.4"/>
<circle cx="193.7" cy="1372.9" r="3.4"/>
<circle cx="355.3" cy="1138.9" r="3.4"/>
<circle cx="278.9" cy="1209.8" r="3.4"/>
<circle cx="315.7" cy="1297.7" r="3.4"/>
<circle cx="352.0" cy="1134.7" r="3.4"/>
<circle cx="177.0" cy="1283.5" r="3.4"/>
<circle cx="275.4" cy="1320.7" r="3.4"/>
<circle cx="157.1" cy="1377.0" r="3.4"/>
<circle cx="188.6" cy="1307.7" r="3.4"/>
<circle cx="205.4" cy="1322.7" r="3.4"/>
<circle cx="352.9" cy="1228.3" r="3.4"/>
<circle cx="257.7" cy="1246.1" r="3.4"/>
<circle cx="164.4" cy="1392.8" r="3.4"/>
<circle cx="253.4" cy="1314.3" r="3.4"/>
<circle cx="368.9" cy="1187.9" r="3.4"/>
<circle cx="365.4" cy="1151.8" r="3.4"/>
<circle cx="225.3" cy="1341.0" r="3.4"/>
<circle cx="323.7" cy="1283.5" r="3.4"/>
<circle cx="360.4" cy="1224.3" r="3.4"/>
<circle cx="208.8" cy="1327.7" r="3.4"/>
<circle cx="239.9" cy="1265.4" r="3.4"/>
<circle cx="226.8" cy="1188.4" r="3.4"/>
<circle cx="358.4" cy="1219.7" r="3.4"/>
<circle cx="245.6" cy="1374.2" r="3.4"/>
<circle cx="234.4" cy="1287.8" r="3.4"/>
<circle cx="247.8" cy="1323.4" r="3.4"/>
<circle cx="347.2" cy="1247.0" r="3.4"/>
<circle cx="205.8" cy="1343.9" r="3.4"/>
<circle cx="230.6" cy="1302.1" r="3.4"/>
<circle cx="260.8" cy="1226.0" r="3.4"/>
<circle cx="266.7" cy="1316.6" r="3.4"/>
<circle cx="251.2" cy="1264.1" r="3.4"/>
<circle cx="207.9" cy="1316.0" r="3.4"/>
<circle cx="369.5" cy="1160.6" r="3.4"/>
<circle cx="243.7" cy="1340.1" r="3.4"/>
<circle cx="374.3" cy="1189.3" r="3.4"/>
<circle cx="205.4" cy="1383.6" r="3.4"/>
<circle cx="144.6" cy="1407.0" r="3.4"/>
<circle cx="241.6" cy="1312.0" r="3.4"/>
<circle cx="228.9" cy="1374.1" r="3.4"/>
<circle cx="367.9" cy="1183.6" r="3.4"/>
<circle cx="305.8" cy="1298.5" r="3.4"/>
<circle cx="192.5" cy="1347.5" r="3.4"/>
<circle cx="344.9" cy="1232.4" r="3.4"/>
<circle cx="167.0" cy="1384.9" r="3.4"/>
<circle cx="254.6" cy="1313.2" r="3.4"/>
<circle cx="171.6" cy="1384.7" r="3.4"/>
<circle cx="266.4" cy="1243.5" r="3.4"/>
<circle cx="188.8" cy="1321.1" r="3.4"/>
<circle cx="245.1" cy="1243.6" r="3.4"/>
<circle cx="144.6" cy="1384.4" r="3.4"/>
<circle cx="182.5" cy="1183.3" r="3.4"/>
<circle cx="206.9" cy="1316.7" r="3.4"/>
<circle cx="207.1" cy="1324.7" r="3.4"/>
<circle cx="338.1" cy="1247.6" r="3.4"/>
<circle cx="223.4" cy="1353.9" r="3.4"/>
<circle cx="364.6" cy="1177.8" r="3.4"/>
<circle cx="308.5" cy="1167.9" r="3.4"/>
<circle cx="213.2" cy="1352.1" r="3.4"/>
<circle cx="316.4" cy="1141.9" r="3.4"/>
<circle cx="293.1" cy="1179.9" r="3.4"/>
<circle cx="223.5" cy="1329.3" r="3.4"/>
<circle cx="261.1" cy="1232.4" r="3.4"/>
<circle cx="281.8" cy="1206.5" r="3.4"/>
<circle cx="339.0" cy="1242.9" r="3.4"/>
<circle cx="255.0" cy="1320.4" r="3.4"/>
<circle cx="241.5" cy="1342.2" r="3.4"/>
<circle cx="287.2" cy="1196.9" r="3.4"/>
<circle cx="160.3" cy="1399.4" r="3.4"/>
<circle cx="188.5" cy="1291.4" r="3.4"/>
<circle cx="216.4" cy="1311.5" r="3.4"/>
<circle cx="191.4" cy="1324.1" r="3.4"/>
<circle cx="202.1" cy="1220.6" r="3.4"/>
<circle cx="280.6" cy="1192.0" r="3.4"/>
<circle cx="133.9" cy="1409.5" r="3.4"/>
<circle cx="299.2" cy="1303.1" r="3.4"/>
<circle cx="252.9" cy="1257.7" r="3.4"/>
<circle cx="140.3" cy="1407.7" r="3.4"/>
<circle cx="146.4" cy="1377.6" r="3.4"/>
<circle cx="218.1" cy="1356.5" r="3.4"/>
<circle cx="163.0" cy="1244.1" r="3.4"/>
<circle cx="264.3" cy="1234.2" r="3.4"/>
<circle cx="177.6" cy="1382.9" r="3.4"/>
<circle cx="234.0" cy="1331.4" r="3.4"/>
<circle cx="154.8" cy="1330.5" r="3.4"/>
<circle cx="367.4" cy="1141.6" r="3.4"/>
<circle cx="181.6" cy="1330.3" r="3.4"/>
<circle cx="185.6" cy="1348.7" r="3.4"/>
<circle cx="255.4" cy="1313.6" r="3.4"/>
<circle cx="188.5" cy="1330.7" r="3.4"/>
<circle cx="173.9" cy="1342.7" r="3.4"/>
<circle cx="259.6" cy="1239.2" r="3.4"/>
<circle cx="150.1" cy="1397.6" r="3.4"/>
<circle cx="358.4" cy="1227.7" r="3.4"/>
</g>
<line x1="87.9" y1="1425.0" x2="414.4" y2="1122.0" stroke="#ff0000" stroke-width="5.9"/>
<rect x="61.5" y="1050.5" width="394.7" height="419.0" class="ax"/>
<text x="59.0" y="1504.5" class="tk" text-anchor="middle">-8</text>
<text x="49.3" y="1479.2" class="tk" text-anchor="end">-8</text>
<line x1="127.3" y1="1469.5" x2="127.3" y2="1465.5" class="tm"/><line x1="127.3" y1="1050.5" x2="127.3" y2="1054.5" class="tm"/>
<line x1="61.5" y1="1399.7" x2="65.5" y2="1399.7" class="tm"/><line x1="456.2" y1="1399.7" x2="452.2" y2="1399.7" class="tm"/>
<text x="124.8" y="1504.5" class="tk" text-anchor="middle">-6</text>
<text x="49.3" y="1409.4" class="tk" text-anchor="end">-6</text>
<line x1="193.1" y1="1469.5" x2="193.1" y2="1465.5" class="tm"/><line x1="193.1" y1="1050.5" x2="193.1" y2="1054.5" class="tm"/>
<line x1="61.5" y1="1329.8" x2="65.5" y2="1329.8" class="tm"/><line x1="456.2" y1="1329.8" x2="452.2" y2="1329.8" class="tm"/>
<text x="190.6" y="1504.5" class="tk" text-anchor="middle">-4</text>
<text x="49.3" y="1339.5" class="tk" text-anchor="end">-4</text>
<line x1="258.9" y1="1469.5" x2="258.9" y2="1465.5" class="tm"/><line x1="258.9" y1="1050.5" x2="258.9" y2="1054.5" class="tm"/>
<line x1="61.5" y1="1260.0" x2="65.5" y2="1260.0" class="tm"/><line x1="456.2" y1="1260.0" x2="452.2" y2="1260.0" class="tm"/>
<text x="256.4" y="1504.5" class="tk" text-anchor="middle">-2</text>
<text x="49.3" y="1269.7" class="tk" text-anchor="end">-2</text>
<line x1="324.6" y1="1469.5" x2="324.6" y2="1465.5" class="tm"/><line x1="324.6" y1="1050.5" x2="324.6" y2="1054.5" class="tm"/>
<line x1="61.5" y1="1190.2" x2="65.5" y2="1190.2" class="tm"/><line x1="456.2" y1="1190.2" x2="452.2" y2="1190.2" class="tm"/>
<text x="322.8" y="1504.5" class="tk" text-anchor="middle">0</text>
<text x="49.3" y="1199.9" class="tk" text-anchor="end">0</text>
<line x1="390.4" y1="1469.5" x2="390.4" y2="1465.5" class="tm"/><line x1="390.4" y1="1050.5" x2="390.4" y2="1054.5" class="tm"/>
<line x1="61.5" y1="1120.3" x2="65.5" y2="1120.3" class="tm"/><line x1="456.2" y1="1120.3" x2="452.2" y2="1120.3" class="tm"/>
<text x="388.6" y="1504.5" class="tk" text-anchor="middle">2</text>
<text x="49.3" y="1130.0" class="tk" text-anchor="end">2</text>
<text x="454.4" y="1504.5" class="tk" text-anchor="middle">4</text>
<text x="49.3" y="1060.2" class="tk" text-anchor="end">4</text>
<text x="264.8" y="1538" class="tt" text-anchor="middle">Surface strain (%)</text>
<text transform="translate(21.8,1250.5) rotate(-90)" text-anchor="middle" class="tt">Interface strain (%)</text>
<text x="415.4" y="1423.7" class="tb" text-anchor="end" style="font-size:25.6px">R = 0.74</text>
<rect x="109" y="1058.5" width="331.3" height="55.3" fill="#fff" stroke="#222" stroke-width="1"/>
<circle cx="129" cy="1076" r="4.1" fill="none" stroke="#30dcff" stroke-width="3.3"/>
<line x1="113" y1="1099.7" x2="145.5" y2="1099.7" stroke="#f00" stroke-width="8"/>
<text x="153.5" y="1082.5" style="font-size:23.2px">Interface-surface atom pair</text>
<text x="153.5" y="1106.3" style="font-size:23.2px">Linear regression</text>
<rect x="538.4" y="1051.0" width="384.9" height="419.4" class="ax"/>
<text x="526.6" y="1060.9" class="tk" text-anchor="end">2</text>
<line x1="538.4" y1="1134.5" x2="542.4" y2="1134.5" class="tm"/><line x1="923.3" y1="1134.5" x2="919.3" y2="1134.5" class="tm"/>
<text x="526.6" y="1144.4" class="tk" text-anchor="end">1</text>
<line x1="538.4" y1="1218.5" x2="542.4" y2="1218.5" class="tm"/><line x1="923.3" y1="1218.5" x2="919.3" y2="1218.5" class="tm"/>
<text x="526.6" y="1228.4" class="tk" text-anchor="end">0</text>
<line x1="538.4" y1="1302.5" x2="542.4" y2="1302.5" class="tm"/><line x1="923.3" y1="1302.5" x2="919.3" y2="1302.5" class="tm"/>
<text x="526.6" y="1312.4" class="tk" text-anchor="end">-1</text>
<line x1="538.4" y1="1386.5" x2="542.4" y2="1386.5" class="tm"/><line x1="923.3" y1="1386.5" x2="919.3" y2="1386.5" class="tm"/>
<text x="526.6" y="1396.4" class="tk" text-anchor="end">-2</text>
<text x="526.6" y="1480.3" class="tk" text-anchor="end">-3</text>
<line x1="603.0" y1="1470.4" x2="603.0" y2="1466.4" class="tm"/><line x1="603.0" y1="1051.0" x2="603.0" y2="1055.0" class="tm"/>
<text x="598.7" y="1504.8" class="tk" text-anchor="middle">-20</text>
<line x1="762.5" y1="1470.4" x2="762.5" y2="1466.4" class="tm"/><line x1="762.5" y1="1051.0" x2="762.5" y2="1055.0" class="tm"/>
<text x="760.7" y="1504.8" class="tk" text-anchor="middle">0</text>
<text x="921.2" y="1504.8" class="tk" text-anchor="middle">20</text>
<g stroke="#111" stroke-width="1.25" fill="none">
<path d="M537.8,1141.3V1255.3M533.8,1141.3h8M533.8,1255.3h8"/>
<path d="M561.3,1100.5V1256.5M557.3,1100.5h8M557.3,1256.5h8"/>
<path d="M584.2,1128.5V1264.3M580.2,1128.5h8M580.2,1264.3h8"/>
<path d="M607.3,1097.4V1246.8M603.3,1097.4h8M603.3,1246.8h8"/>
<path d="M632.5,1088.2V1237.2M628.5,1088.2h8M628.5,1237.2h8"/>
<path d="M654.9,1092.1V1237.1M650.9,1092.1h8M650.9,1237.1h8"/>
<path d="M679.2,1101.8V1253.2M675.2,1101.8h8M675.2,1253.2h8"/>
<path d="M704.1,1122.8V1297.8M700.1,1122.8h8M700.1,1297.8h8"/>
<path d="M724.8,1140.6V1345.8M720.8,1140.6h8M720.8,1345.8h8"/>
<path d="M758.5,1175.1V1412.1M754.5,1175.1h8M754.5,1412.1h8"/>
<path d="M768.2,1204.0V1462.6M764.2,1204.0h8M764.2,1462.6h8"/>
<path d="M800.8,1201.6V1459.0M796.8,1201.6h8M796.8,1459.0h8"/>
<path d="M822.3,1187.2V1421.8M818.3,1187.2h8M818.3,1421.8h8"/>
<path d="M846.0,1174.8V1364.6M842.0,1174.8h8M842.0,1364.6h8"/>
<path d="M869.0,1170.1V1333.9M865.0,1170.1h8M865.0,1333.9h8"/>
<path d="M892.0,1188.5V1299.5M888.0,1188.5h8M888.0,1299.5h8"/>
<path d="M913.4,1204.5V1291.9M909.4,1204.5h8M909.4,1291.9h8"/>
<path d="M537.8,1198.3L561.3,1178.5L584.2,1196.4L607.3,1172.1L632.5,1162.7L654.9,1164.6L679.2,1177.5L704.1,1210.3L724.8,1243.2L758.5,1293.6"/>
<path d="M768.2,1333.3L800.8,1330.3L822.3,1304.5L846.0,1269.7L869.0,1252.0L892.0,1244.0L913.4,1248.2"/>
</g>
<circle cx="537.8" cy="1198.3" r="7" fill="#ff0000" stroke="#000" stroke-width="1.3"/>
<circle cx="561.3" cy="1178.5" r="7" fill="#ff0000" stroke="#000" stroke-width="1.3"/>
<circle cx="584.2" cy="1196.4" r="7" fill="#ff0000" stroke="#000" stroke-width="1.3"/>
<circle cx="607.3" cy="1172.1" r="7" fill="#ff0000" stroke="#000" stroke-width="1.3"/>
<circle cx="632.5" cy="1162.7" r="7" fill="#ff0000" stroke="#000" stroke-width="1.3"/>
<circle cx="654.9" cy="1164.6" r="7" fill="#ff0000" stroke="#000" stroke-width="1.3"/>
<circle cx="679.2" cy="1177.5" r="7" fill="#ff0000" stroke="#000" stroke-width="1.3"/>
<circle cx="704.1" cy="1210.3" r="7" fill="#ff0000" stroke="#000" stroke-width="1.3"/>
<circle cx="724.8" cy="1243.2" r="7" fill="#ff0000" stroke="#000" stroke-width="1.3"/>
<circle cx="758.5" cy="1293.6" r="7" fill="#ff0000" stroke="#000" stroke-width="1.3"/>
<circle cx="768.2" cy="1333.3" r="7" fill="#0000ff" stroke="#000" stroke-width="1.3"/>
<circle cx="800.8" cy="1330.3" r="7" fill="#0000ff" stroke="#000" stroke-width="1.3"/>
<circle cx="822.3" cy="1304.5" r="7" fill="#0000ff" stroke="#000" stroke-width="1.3"/>
<circle cx="846.0" cy="1269.7" r="7" fill="#0000ff" stroke="#000" stroke-width="1.3"/>
<circle cx="869.0" cy="1252.0" r="7" fill="#0000ff" stroke="#000" stroke-width="1.3"/>
<circle cx="892.0" cy="1244.0" r="7" fill="#0000ff" stroke="#000" stroke-width="1.3"/>
<circle cx="913.4" cy="1248.2" r="7" fill="#0000ff" stroke="#000" stroke-width="1.3"/>
<text x="733" y="1537" class="tt" text-anchor="middle">Radial distance from Interface (Å)</text>
<text transform="translate(494.6,1250.5) rotate(-90)" text-anchor="middle" class="tt">Radial strain (%)</text>
<rect x="826.2" y="1062.5" width="85.8" height="69.6" fill="#fff" stroke="#333" stroke-width="0.9"/>
<path d="M830.6,1080.7H871.3M851.1,1068.5V1093.1000000000001M847.3,1068.5h7.6M847.3,1093.1000000000001h7.6" stroke="#111" stroke-width="1.2" fill="none"/>
<circle cx="851.1" cy="1080.7" r="4.4" fill="#ff0000" stroke="#000" stroke-width="1.1"/>
<text x="875" y="1089.9" style="font-size:25px">Pd</text>
<path d="M830.6,1114.1H871.3M851.1,1101.8999999999999V1126.5M847.3,1101.8999999999999h7.6M847.3,1126.5h7.6" stroke="#111" stroke-width="1.2" fill="none"/>
<circle cx="851.1" cy="1114.1" r="4.4" fill="#0000ff" stroke="#000" stroke-width="1.1"/>
<text x="875" y="1123.3" style="font-size:25px">Pt</text>
</svg></body></html>
